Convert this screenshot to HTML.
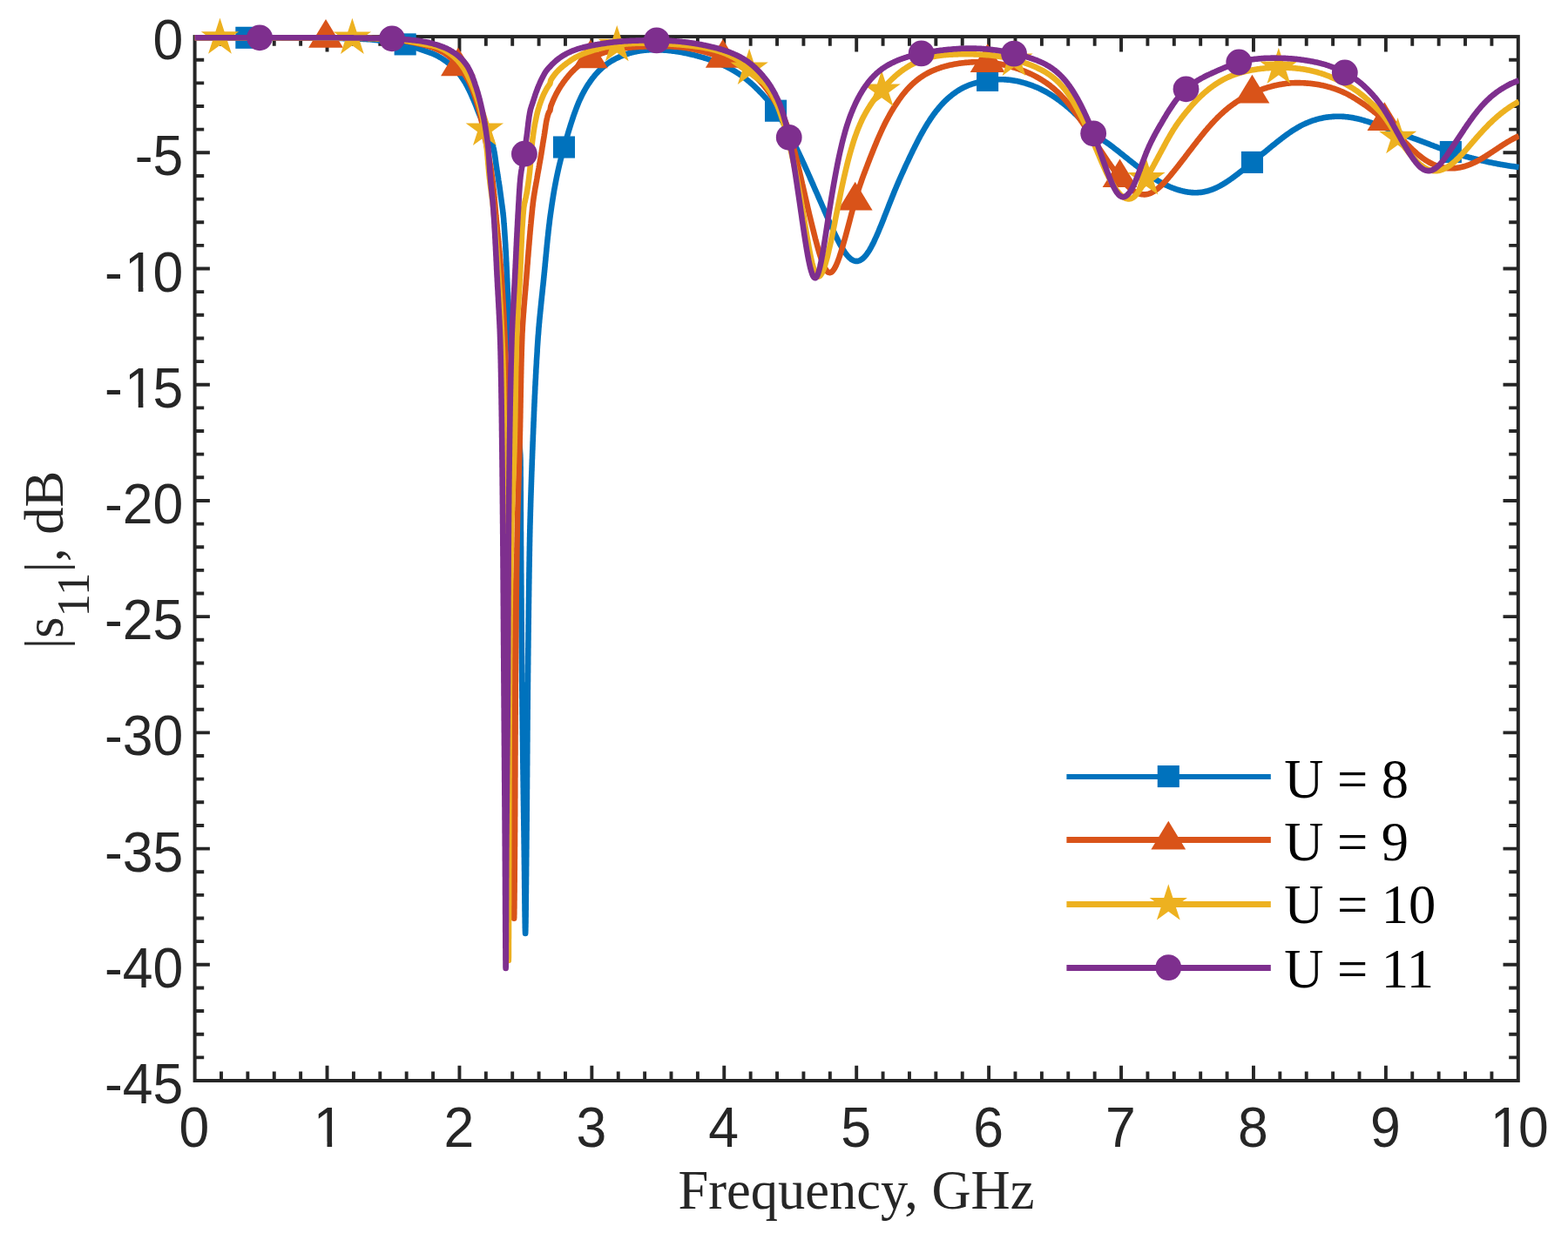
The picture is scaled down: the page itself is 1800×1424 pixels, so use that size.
<!DOCTYPE html>
<html><head><meta charset="utf-8"><title>|s11| vs Frequency</title>
<style>
html,body{margin:0;padding:0;background:#fff;}
svg{display:block;}
.t{font-family:"Liberation Sans",sans-serif;font-size:62.5px;fill:#262626;}
.s{font-family:"Liberation Serif",serif;font-size:62.5px;fill:#262626;}
.l{font-family:"Liberation Serif",serif;font-size:62.5px;fill:#000;}
</style></head><body>
<svg width="1800" height="1424" viewBox="0 0 1800 1424">
<rect width="1800" height="1424" fill="#fff"/>
<g fill="none" stroke="#262626" stroke-width="4">
<path d="M253.98 1241.00v-10.6M253.98 42.10v10.6M284.37 1241.00v-10.6M284.37 42.10v10.6M314.75 1241.00v-10.6M314.75 42.10v10.6M345.14 1241.00v-10.6M345.14 42.10v10.6M375.52 1241.00v-17.3M375.52 42.10v17.3M405.90 1241.00v-10.6M405.90 42.10v10.6M436.29 1241.00v-10.6M436.29 42.10v10.6M466.67 1241.00v-10.6M466.67 42.10v10.6M497.06 1241.00v-10.6M497.06 42.10v10.6M527.44 1241.00v-17.3M527.44 42.10v17.3M557.82 1241.00v-10.6M557.82 42.10v10.6M588.21 1241.00v-10.6M588.21 42.10v10.6M618.59 1241.00v-10.6M618.59 42.10v10.6M648.98 1241.00v-10.6M648.98 42.10v10.6M679.36 1241.00v-17.3M679.36 42.10v17.3M709.74 1241.00v-10.6M709.74 42.10v10.6M740.13 1241.00v-10.6M740.13 42.10v10.6M770.51 1241.00v-10.6M770.51 42.10v10.6M800.90 1241.00v-10.6M800.90 42.10v10.6M831.28 1241.00v-17.3M831.28 42.10v17.3M861.66 1241.00v-10.6M861.66 42.10v10.6M892.05 1241.00v-10.6M892.05 42.10v10.6M922.43 1241.00v-10.6M922.43 42.10v10.6M952.82 1241.00v-10.6M952.82 42.10v10.6M983.20 1241.00v-17.3M983.20 42.10v17.3M1013.58 1241.00v-10.6M1013.58 42.10v10.6M1043.97 1241.00v-10.6M1043.97 42.10v10.6M1074.35 1241.00v-10.6M1074.35 42.10v10.6M1104.74 1241.00v-10.6M1104.74 42.10v10.6M1135.12 1241.00v-17.3M1135.12 42.10v17.3M1165.50 1241.00v-10.6M1165.50 42.10v10.6M1195.89 1241.00v-10.6M1195.89 42.10v10.6M1226.27 1241.00v-10.6M1226.27 42.10v10.6M1256.66 1241.00v-10.6M1256.66 42.10v10.6M1287.04 1241.00v-17.3M1287.04 42.10v17.3M1317.42 1241.00v-10.6M1317.42 42.10v10.6M1347.81 1241.00v-10.6M1347.81 42.10v10.6M1378.19 1241.00v-10.6M1378.19 42.10v10.6M1408.58 1241.00v-10.6M1408.58 42.10v10.6M1438.96 1241.00v-17.3M1438.96 42.10v17.3M1469.34 1241.00v-10.6M1469.34 42.10v10.6M1499.73 1241.00v-10.6M1499.73 42.10v10.6M1530.11 1241.00v-10.6M1530.11 42.10v10.6M1560.50 1241.00v-10.6M1560.50 42.10v10.6M1590.88 1241.00v-17.3M1590.88 42.10v17.3M1621.26 1241.00v-10.6M1621.26 42.10v10.6M1651.65 1241.00v-10.6M1651.65 42.10v10.6M1682.03 1241.00v-10.6M1682.03 42.10v10.6M1712.42 1241.00v-10.6M1712.42 42.10v10.6M223.60 68.74h10.6M1742.80 68.74h-10.6M223.60 95.38h10.6M1742.80 95.38h-10.6M223.60 122.03h10.6M1742.80 122.03h-10.6M223.60 148.67h10.6M1742.80 148.67h-10.6M223.60 175.31h17.3M1742.80 175.31h-17.3M223.60 201.95h10.6M1742.80 201.95h-10.6M223.60 228.60h10.6M1742.80 228.60h-10.6M223.60 255.24h10.6M1742.80 255.24h-10.6M223.60 281.88h10.6M1742.80 281.88h-10.6M223.60 308.52h17.3M1742.80 308.52h-17.3M223.60 335.16h10.6M1742.80 335.16h-10.6M223.60 361.81h10.6M1742.80 361.81h-10.6M223.60 388.45h10.6M1742.80 388.45h-10.6M223.60 415.09h10.6M1742.80 415.09h-10.6M223.60 441.73h17.3M1742.80 441.73h-17.3M223.60 468.38h10.6M1742.80 468.38h-10.6M223.60 495.02h10.6M1742.80 495.02h-10.6M223.60 521.66h10.6M1742.80 521.66h-10.6M223.60 548.30h10.6M1742.80 548.30h-10.6M223.60 574.94h17.3M1742.80 574.94h-17.3M223.60 601.59h10.6M1742.80 601.59h-10.6M223.60 628.23h10.6M1742.80 628.23h-10.6M223.60 654.87h10.6M1742.80 654.87h-10.6M223.60 681.51h10.6M1742.80 681.51h-10.6M223.60 708.16h17.3M1742.80 708.16h-17.3M223.60 734.80h10.6M1742.80 734.80h-10.6M223.60 761.44h10.6M1742.80 761.44h-10.6M223.60 788.08h10.6M1742.80 788.08h-10.6M223.60 814.72h10.6M1742.80 814.72h-10.6M223.60 841.37h17.3M1742.80 841.37h-17.3M223.60 868.01h10.6M1742.80 868.01h-10.6M223.60 894.65h10.6M1742.80 894.65h-10.6M223.60 921.29h10.6M1742.80 921.29h-10.6M223.60 947.94h10.6M1742.80 947.94h-10.6M223.60 974.58h17.3M1742.80 974.58h-17.3M223.60 1001.22h10.6M1742.80 1001.22h-10.6M223.60 1027.86h10.6M1742.80 1027.86h-10.6M223.60 1054.50h10.6M1742.80 1054.50h-10.6M223.60 1081.15h10.6M1742.80 1081.15h-10.6M223.60 1107.79h17.3M1742.80 1107.79h-17.3M223.60 1134.43h10.6M1742.80 1134.43h-10.6M223.60 1161.07h10.6M1742.80 1161.07h-10.6M223.60 1187.72h10.6M1742.80 1187.72h-10.6M223.60 1214.36h10.6M1742.80 1214.36h-10.6" stroke-width="3.9"/>
<rect x="223.6" y="42.1" width="1519.20" height="1198.90"/>
</g>
<g class="t">
<text y="0" transform="translate(0,1316.90) scale(1,1.028)"><tspan x="205.62">0</tspan></text>
<text y="0" transform="translate(0,1316.90) scale(1,1.028)"><tspan x="359.84">1</tspan></text>
<rect x="361.84" y="1311.60" width="13.67" height="6.3" fill="#fff"/>
<rect x="381.13" y="1311.60" width="12.26" height="6.3" fill="#fff"/>
<text y="0" transform="translate(0,1316.90) scale(1,1.028)"><tspan x="509.46">2</tspan></text>
<text y="0" transform="translate(0,1316.90) scale(1,1.028)"><tspan x="661.38">3</tspan></text>
<text y="0" transform="translate(0,1316.90) scale(1,1.028)"><tspan x="813.30">4</tspan></text>
<text y="0" transform="translate(0,1316.90) scale(1,1.028)"><tspan x="965.22">5</tspan></text>
<text y="0" transform="translate(0,1316.90) scale(1,1.028)"><tspan x="1117.14">6</tspan></text>
<text y="0" transform="translate(0,1316.90) scale(1,1.028)"><tspan x="1269.06">7</tspan></text>
<text y="0" transform="translate(0,1316.90) scale(1,1.028)"><tspan x="1420.98">8</tspan></text>
<text y="0" transform="translate(0,1316.90) scale(1,1.028)"><tspan x="1572.90">9</tspan></text>
<text y="0" transform="translate(0,1316.90) scale(1,1.028)"><tspan x="1710.64">1</tspan><tspan x="1743.10">0</tspan></text>
<rect x="1712.64" y="1311.60" width="13.67" height="6.3" fill="#fff"/>
<rect x="1731.93" y="1311.60" width="12.26" height="6.3" fill="#fff"/>
<text y="0" transform="translate(0,68.10) scale(1,1.028)"><tspan x="175.54">0</tspan></text>
<text y="0" transform="translate(0,201.31) scale(1,1.028)"><tspan x="154.73">-</tspan><tspan x="175.54">5</tspan></text>
<text y="0" transform="translate(0,334.52) scale(1,1.028)"><tspan x="119.97">-</tspan><tspan x="143.08">1</tspan><tspan x="175.54">0</tspan></text>
<rect x="145.08" y="329.22" width="13.67" height="6.3" fill="#fff"/>
<rect x="164.37" y="329.22" width="12.26" height="6.3" fill="#fff"/>
<text y="0" transform="translate(0,467.73) scale(1,1.028)"><tspan x="119.97">-</tspan><tspan x="143.08">1</tspan><tspan x="175.54">5</tspan></text>
<rect x="145.08" y="462.43" width="13.67" height="6.3" fill="#fff"/>
<rect x="164.37" y="462.43" width="12.26" height="6.3" fill="#fff"/>
<text y="0" transform="translate(0,600.94) scale(1,1.028)"><tspan x="119.97">-</tspan><tspan x="140.78">2</tspan><tspan x="175.54">0</tspan></text>
<text y="0" transform="translate(0,734.16) scale(1,1.028)"><tspan x="119.97">-</tspan><tspan x="140.78">2</tspan><tspan x="175.54">5</tspan></text>
<text y="0" transform="translate(0,867.37) scale(1,1.028)"><tspan x="119.97">-</tspan><tspan x="140.78">3</tspan><tspan x="175.54">0</tspan></text>
<text y="0" transform="translate(0,1000.58) scale(1,1.028)"><tspan x="119.97">-</tspan><tspan x="140.78">3</tspan><tspan x="175.54">5</tspan></text>
<text y="0" transform="translate(0,1133.79) scale(1,1.028)"><tspan x="119.97">-</tspan><tspan x="140.78">4</tspan><tspan x="175.54">0</tspan></text>
<text y="0" transform="translate(0,1267.00) scale(1,1.028)"><tspan x="119.97">-</tspan><tspan x="140.78">4</tspan><tspan x="175.54">5</tspan></text>
</g>
<text class="s" x="983" y="1388" text-anchor="middle">Frequency, GHz</text>
<text class="s" transform="translate(71.6,643) rotate(-90)" text-anchor="middle">|s<tspan dy="30.5" font-size="53">11</tspan><tspan dy="-30.5">|, dB</tspan></text>
<clipPath id="cp"><rect x="221.5" y="12.100000000000001" width="1522.40" height="1228.90"/></clipPath>
<g clip-path="url(#cp)"><path d="M223.6 43.3L225.1 43.3L226.6 43.3L228.1 43.3L229.6 43.3L231.1 43.3L232.6 43.3L234.1 43.3L235.6 43.3L237.1 43.3L238.6 43.3L240.1 43.3L241.6 43.3L243.1 43.3L244.6 43.3L246.1 43.3L247.6 43.3L249.1 43.3L250.6 43.3L252.1 43.3L253.6 43.3L255.1 43.3L256.6 43.3L258.1 43.3L259.6 43.3L261.1 43.3L262.6 43.3L264.1 43.3L265.6 43.3L267.1 43.3L268.6 43.3L270.1 43.3L271.6 43.3L273.1 43.3L274.6 43.3L276.1 43.3L277.6 43.3L279.1 43.3L280.6 43.3L282.1 43.3L283.6 43.3L285.1 43.3L286.6 43.3L288.1 43.3L289.6 43.3L291.1 43.3L292.6 43.3L294.1 43.3L295.6 43.3L297.1 43.3L298.6 43.3L300.0 43.3L300.1 43.3L301.6 43.3L303.1 43.3L304.6 43.3L306.1 43.3L307.6 43.3L309.1 43.3L310.6 43.3L312.1 43.3L313.6 43.3L315.1 43.3L316.6 43.3L318.1 43.3L319.6 43.3L321.1 43.3L322.6 43.3L324.1 43.4L325.6 43.4L327.1 43.4L328.6 43.4L330.1 43.4L331.6 43.4L333.1 43.4L334.6 43.4L336.1 43.4L337.6 43.4L339.1 43.4L340.6 43.4L342.1 43.5L343.6 43.5L345.1 43.5L346.6 43.5L348.1 43.5L349.6 43.5L351.1 43.5L352.6 43.5L354.1 43.5L355.6 43.6L357.1 43.6L358.6 43.6L360.1 43.6L361.6 43.6L363.1 43.6L364.6 43.6L366.1 43.7L367.6 43.7L369.1 43.7L370.6 43.7L372.1 43.7L373.6 43.7L375.1 43.7L376.6 43.8L378.1 43.8L379.6 43.8L380.0 43.8L381.1 43.8L382.6 43.8L384.1 43.9L385.6 43.9L387.1 43.9L388.6 43.9L390.1 44.0L391.6 44.0L393.1 44.0L394.6 44.1L396.1 44.1L397.6 44.1L399.2 44.2L400.7 44.2L402.2 44.3L403.7 44.3L405.2 44.4L406.7 44.4L408.2 44.5L409.7 44.5L411.1 44.6L412.6 44.7L414.1 44.7L415.6 44.8L417.1 44.9L418.6 44.9L420.0 45.0L420.1 45.0L421.6 45.1L423.1 45.2L424.6 45.3L426.1 45.4L427.6 45.6L429.1 45.7L430.6 45.9L432.1 46.1L433.6 46.3L435.0 46.5L436.5 46.7L438.0 46.9L439.5 47.1L441.0 47.3L442.5 47.5L444.0 47.7L445.5 47.9L446.9 48.2L448.4 48.4L449.9 48.6L450.0 48.6L451.4 48.8L452.9 49.0L454.4 49.2L455.9 49.4L457.4 49.6L458.9 49.8L460.4 50.0L461.8 50.2L463.3 50.5L464.3 50.7L464.8 50.8L466.2 51.1L467.7 51.5L469.1 51.9L470.5 52.3L472.0 52.8L473.4 53.3L474.8 53.7L476.2 54.3L477.7 54.8L479.1 55.3L480.5 55.8L481.9 56.3L483.3 56.8L483.3 56.8L484.7 57.3L486.2 57.8L487.6 58.3L489.0 58.8L490.5 59.3L491.9 59.8L493.3 60.3L494.7 60.8L496.1 61.4L497.5 61.9L498.8 62.5L500.2 63.2L500.4 63.3L501.5 63.8L502.8 64.5L504.1 65.3L505.4 66.0L506.7 66.8L508.0 67.6L509.3 68.5L510.5 69.3L511.8 70.2L513.0 71.1L514.2 72.0L515.4 73.0L516.6 73.9L517.7 74.9L518.8 75.9L519.7 76.7L519.9 76.9L520.9 77.9L522.0 78.9L523.0 80.0L524.0 81.1L525.0 82.3L526.0 83.4L526.9 84.6L527.8 85.8L528.8 87.1L529.7 88.3L530.5 89.5L531.4 90.8L532.2 92.0L533.0 93.3L533.0 93.3L533.8 94.5L534.5 95.8L535.2 97.1L536.0 98.4L536.7 99.8L537.3 101.1L538.0 102.4L538.7 103.8L539.3 105.2L540.0 106.5L540.6 107.9L541.2 109.3L541.8 110.7L542.4 112.0L543.0 113.3L543.0 113.4L543.6 114.8L544.2 116.2L544.8 117.5L545.4 118.9L545.9 120.3L546.5 121.7L547.0 123.1L547.5 124.5L548.1 125.9L548.6 127.3L549.2 128.7L549.7 130.0L549.7 130.1L550.3 131.5L550.9 132.9L551.5 134.3L552.2 135.6L552.8 137.0L553.4 138.4L554.1 139.8L554.8 141.1L555.4 142.5L556.1 143.9L556.8 145.2L557.4 146.6L558.1 148.0L558.8 149.3L559.4 150.7L560.0 152.1L560.7 153.4L561.3 154.8L561.9 156.2L562.5 157.6L563.0 159.0L563.6 160.3L564.1 161.7L564.6 163.1L565.0 164.6L565.5 166.0L565.9 167.4L566.2 168.8L566.5 170.0L566.6 170.2L566.9 171.7L567.2 173.1L567.4 174.6L567.7 176.1L567.9 177.5L568.2 179.0L568.4 180.5L568.6 182.0L568.8 183.5L569.0 185.0L569.2 186.5L569.4 188.0L569.6 189.5L569.8 191.0L570.1 192.5L570.3 194.0L570.4 195.0L570.5 195.4L570.7 196.9L571.0 198.4L571.2 199.9L571.4 201.4L571.7 202.9L571.9 204.3L572.1 205.8L572.3 207.3L572.6 208.8L572.8 210.3L573.0 211.8L573.2 213.2L573.5 214.7L573.7 216.2L573.9 217.7L574.1 219.2L574.2 220.0L574.3 220.7L574.5 222.2L574.7 223.6L574.9 225.1L575.1 226.6L575.3 228.1L575.5 229.6L575.7 231.1L575.9 232.6L576.1 234.1L576.3 235.5L576.5 237.0L576.7 238.5L576.9 240.0L577.1 241.5L577.3 243.0L577.4 244.5L577.6 246.0L577.8 247.5L577.9 249.0L578.1 250.4L578.2 251.9L578.3 253.3L578.3 253.4L578.4 254.9L578.5 256.4L578.7 257.9L578.8 259.4L578.9 260.9L579.0 262.4L579.1 263.9L579.2 265.4L579.3 266.9L579.4 268.4L579.5 269.9L579.6 271.4L579.7 272.9L579.8 274.4L579.9 275.9L580.0 277.3L580.1 278.8L580.2 280.3L580.3 281.8L580.3 283.3L580.4 284.8L580.5 286.3L580.6 287.8L580.7 289.3L580.8 290.8L580.8 292.3L580.9 293.8L581.0 295.3L581.1 296.8L581.1 298.3L581.2 299.8L581.3 301.3L581.4 302.8L581.4 304.3L581.5 305.8L581.6 307.3L581.6 308.8L581.7 310.3L581.8 311.8L581.8 313.3L581.9 314.8L582.0 316.3L582.0 317.8L582.1 319.3L582.2 320.8L582.2 322.3L582.3 323.8L582.4 325.3L582.4 326.8L582.5 328.3L582.5 329.8L582.6 331.3L582.7 332.8L582.7 334.3L582.8 335.8L582.9 337.3L582.9 338.8L583.0 340.3L583.0 341.8L583.1 343.3L583.2 344.8L583.2 346.3L583.3 347.8L583.4 349.3L583.4 350.8L583.5 352.3L583.6 353.8L583.6 355.3L583.7 356.8L583.8 358.3L583.8 359.8L583.9 361.3L584.0 362.8L584.1 364.3L584.1 365.8L584.2 367.3L584.3 368.8L584.4 370.3L584.4 371.8L584.5 373.3L584.6 374.8L584.7 376.3L584.8 377.8L584.8 379.3L584.9 380.8L585.0 382.3L585.1 383.8L585.2 385.3L585.3 386.8L585.4 388.3L585.5 389.8L585.6 391.3L585.7 392.8L585.7 394.3L585.8 395.8L585.9 397.3L586.0 398.0L586.1 398.8L586.2 400.3L586.3 401.8L586.4 403.2L586.5 404.7L586.6 406.2L586.7 407.7L586.8 409.2L587.0 410.7L587.1 412.2L587.2 413.7L587.4 415.2L587.5 416.7L587.6 418.2L587.8 419.7L587.9 421.2L588.0 422.7L588.2 424.2L588.3 425.7L588.4 427.2L588.6 428.7L588.7 430.1L588.9 431.6L589.0 433.1L589.2 434.6L589.3 436.1L589.4 437.6L589.6 439.1L589.7 440.6L589.9 442.1L590.0 443.6L590.2 445.1L590.3 446.6L590.5 448.1L590.6 449.6L590.8 451.1L590.9 452.6L591.0 454.0L591.2 455.5L591.3 457.0L591.5 458.5L591.6 460.0L591.7 461.5L591.9 463.0L592.0 464.5L592.2 466.0L592.3 467.5L592.4 469.0L592.5 470.0L592.5 470.5L592.7 472.0L592.8 473.5L592.9 475.0L593.1 476.5L593.2 478.0L593.4 479.5L593.5 480.9L593.7 482.4L593.8 483.9L594.0 485.4L594.2 486.9L594.3 488.4L594.5 489.9L594.6 491.4L594.8 492.9L594.9 494.4L595.1 495.9L595.3 497.4L595.4 498.9L595.6 500.4L595.7 501.9L595.8 503.4L596.0 504.9L596.1 506.4L596.3 507.9L596.4 509.3L596.5 510.8L596.6 512.3L596.7 513.8L596.8 515.3L596.9 516.8L597.0 518.3L597.1 519.8L597.2 521.3L597.3 522.8L597.3 524.3L597.4 525.8L597.4 527.3L597.5 528.8L597.5 530.3L597.5 531.0L597.5 531.8L597.5 533.3L597.5 534.8L597.6 536.3L597.6 537.8L597.6 539.3L597.6 540.8L597.6 542.3L597.6 543.8L597.6 545.3L597.6 546.8L597.7 548.3L597.7 549.8L597.7 551.3L597.7 552.8L597.7 554.3L597.7 555.8L597.7 557.3L597.7 558.8L597.7 560.3L597.7 561.8L597.7 563.3L597.8 564.8L597.8 566.3L597.8 567.8L597.8 569.3L597.8 570.8L597.8 572.3L597.8 573.8L597.8 575.3L597.8 576.8L597.8 578.3L597.8 579.8L597.8 581.3L597.8 582.8L597.8 584.3L597.8 585.8L597.8 587.3L597.9 588.8L597.9 590.3L597.9 591.8L597.9 593.3L597.9 594.8L597.9 596.3L597.9 597.8L597.9 599.3L597.9 600.8L597.9 602.3L597.9 603.8L597.9 605.3L597.9 606.8L597.9 608.3L597.9 609.8L598.0 611.3L598.0 612.8L598.0 614.3L598.0 615.8L598.0 617.3L598.0 618.8L598.0 620.0L598.0 620.3L598.0 621.8L598.0 623.3L598.0 624.8L598.0 626.3L598.1 627.8L598.1 629.3L598.1 630.8L598.1 632.3L598.1 633.8L598.1 635.3L598.1 636.8L598.1 638.3L598.1 639.8L598.1 641.3L598.1 642.8L598.2 644.3L598.2 645.8L598.2 647.3L598.2 648.8L598.2 650.3L598.2 651.8L598.2 653.3L598.2 654.8L598.2 656.3L598.2 657.8L598.3 659.3L598.3 660.8L598.3 662.3L598.3 663.8L598.3 665.3L598.3 666.8L598.3 668.3L598.3 669.8L598.3 671.3L598.4 672.8L598.4 674.3L598.4 675.8L598.4 677.3L598.4 678.8L598.4 680.3L598.4 681.8L598.4 683.3L598.4 684.8L598.4 686.3L598.5 687.8L598.5 689.3L598.5 690.8L598.5 692.3L598.5 693.8L598.5 695.3L598.5 696.8L598.5 698.3L598.5 699.8L598.6 701.3L598.6 702.8L598.6 704.3L598.6 705.8L598.6 707.3L598.6 708.8L598.6 710.3L598.6 711.8L598.6 713.3L598.7 714.8L598.7 716.3L598.7 717.8L598.7 719.3L598.7 720.8L598.7 722.3L598.7 723.8L598.7 725.3L598.8 726.8L598.8 728.3L598.8 729.8L598.8 731.3L598.8 732.8L598.8 734.3L598.8 735.8L598.8 737.3L598.9 738.8L598.9 740.3L598.9 741.8L598.9 743.3L598.9 744.8L598.9 746.3L598.9 747.8L598.9 749.3L599.0 750.8L599.0 752.3L599.0 753.8L599.0 755.3L599.0 756.8L599.0 758.3L599.0 759.8L599.0 761.3L599.1 762.8L599.1 764.3L599.1 765.9L599.1 767.4L599.1 768.9L599.1 770.4L599.1 771.9L599.2 773.4L599.2 774.9L599.2 776.4L599.2 777.9L599.2 778.0L599.2 779.4L599.2 780.9L599.2 782.4L599.3 783.9L599.3 785.4L599.3 786.9L599.3 788.4L599.3 789.9L599.3 791.4L599.3 792.9L599.4 794.4L599.4 795.9L599.4 797.4L599.4 798.9L599.4 800.4L599.4 801.9L599.5 803.4L599.5 804.9L599.5 806.4L599.5 807.9L599.5 809.4L599.5 810.9L599.6 812.4L599.6 813.9L599.6 815.4L599.6 816.9L599.6 818.4L599.6 819.9L599.7 821.4L599.7 822.9L599.7 824.4L599.7 825.9L599.7 827.4L599.8 828.9L599.8 830.4L599.8 831.9L599.8 833.4L599.8 834.9L599.8 836.4L599.9 837.9L599.9 839.4L599.9 840.9L599.9 842.4L599.9 843.9L600.0 845.4L600.0 846.9L600.0 848.4L600.0 849.9L600.0 851.4L600.1 852.9L600.1 854.4L600.1 855.9L600.1 857.4L600.1 858.9L600.1 860.4L600.2 861.9L600.2 863.4L600.2 864.9L600.2 866.4L600.2 867.9L600.3 869.4L600.3 870.9L600.3 872.4L600.3 873.9L600.3 875.4L600.4 876.9L600.4 878.4L600.4 879.9L600.4 881.4L600.4 882.9L600.5 884.4L600.5 885.9L600.5 887.4L600.5 888.9L600.6 890.4L600.6 891.9L600.6 893.4L600.6 894.9L600.6 896.4L600.7 897.9L600.7 899.4L600.7 900.9L600.7 902.4L600.7 903.9L600.8 905.4L600.8 906.9L600.8 908.4L600.8 909.9L600.8 911.4L600.9 912.9L600.9 914.4L600.9 915.9L600.9 917.4L600.9 918.9L601.0 920.4L601.0 921.9L601.0 923.4L601.0 924.9L601.1 926.4L601.1 927.9L601.1 929.4L601.1 930.9L601.1 932.4L601.2 933.9L601.2 935.4L601.2 936.9L601.2 938.4L601.2 939.9L601.3 941.4L601.3 942.9L601.3 944.4L601.3 945.9L601.3 947.4L601.4 948.9L601.4 950.4L601.4 951.9L601.4 953.4L601.5 954.9L601.5 956.4L601.5 957.9L601.5 959.4L601.5 960.9L601.6 962.4L601.6 963.9L601.6 965.4L601.6 966.9L601.6 968.4L601.7 969.9L601.7 971.4L601.7 972.9L601.7 974.4L601.7 975.9L601.8 977.4L601.8 978.9L601.8 980.0L601.8 980.4L601.8 981.9L601.8 983.5L601.9 985.1L601.9 986.8L601.9 988.5L601.9 990.2L601.9 992.0L602.0 993.8L602.0 995.7L602.0 997.5L602.0 999.4L602.1 1001.3L602.1 1003.3L602.1 1005.2L602.1 1007.2L602.1 1009.1L602.2 1011.1L602.2 1013.1L602.2 1015.1L602.2 1017.1L602.2 1019.1L602.3 1021.1L602.3 1023.1L602.3 1025.1L602.3 1027.1L602.4 1029.0L602.4 1031.0L602.4 1032.9L602.4 1034.8L602.4 1036.7L602.5 1038.6L602.5 1040.5L602.5 1042.3L602.5 1044.1L602.5 1045.8L602.6 1047.5L602.6 1049.2L602.6 1050.9L602.6 1052.5L602.7 1054.0L602.7 1055.5L602.7 1057.0L602.7 1058.4L602.7 1059.7L602.8 1061.0L602.8 1062.3L602.8 1063.4L602.8 1064.5L602.8 1065.6L602.9 1066.5L602.9 1067.4L602.9 1068.3L602.9 1069.0L603.0 1069.7L603.0 1070.3L603.0 1070.8L603.0 1071.2L603.0 1071.6L603.1 1071.8L603.1 1071.9L603.1 1072.0L603.1 1072.0L603.1 1072.0L603.1 1071.8L603.2 1071.6L603.2 1071.3L603.2 1070.9L603.2 1070.4L603.2 1069.8L603.3 1069.1L603.3 1068.4L603.3 1067.6L603.3 1066.7L603.3 1065.7L603.4 1064.7L603.4 1063.6L603.4 1062.4L603.4 1061.2L603.5 1059.9L603.5 1058.6L603.5 1057.2L603.5 1055.7L603.5 1054.2L603.6 1052.7L603.6 1051.1L603.6 1049.4L603.6 1047.8L603.6 1046.1L603.7 1044.3L603.7 1042.5L603.7 1040.7L603.7 1038.9L603.7 1037.0L603.8 1035.1L603.8 1033.2L603.8 1031.3L603.8 1029.3L603.8 1027.3L603.9 1025.4L603.9 1023.4L603.9 1021.4L603.9 1019.4L603.9 1017.4L604.0 1015.4L604.0 1013.4L604.0 1011.4L604.0 1009.4L604.0 1007.4L604.1 1005.5L604.1 1003.5L604.1 1001.6L604.1 999.7L604.1 997.8L604.1 995.9L604.2 994.1L604.2 992.3L604.2 990.5L604.2 988.7L604.2 987.0L604.2 985.4L604.3 983.7L604.3 982.1L604.3 980.6L604.3 980.0L604.3 979.1L604.3 977.6L604.3 976.1L604.4 974.6L604.4 973.1L604.4 971.6L604.4 970.1L604.4 968.6L604.4 967.1L604.4 965.6L604.5 964.1L604.5 962.6L604.5 961.1L604.5 959.6L604.5 958.1L604.5 956.6L604.5 955.1L604.6 953.6L604.6 952.1L604.6 950.6L604.6 949.1L604.6 947.6L604.6 946.1L604.6 944.6L604.7 943.1L604.7 941.6L604.7 940.1L604.7 938.6L604.7 937.1L604.7 935.6L604.7 934.1L604.7 932.6L604.8 931.1L604.8 929.6L604.8 928.1L604.8 926.6L604.8 925.1L604.8 923.6L604.8 922.1L604.8 920.6L604.8 919.1L604.9 917.6L604.9 916.1L604.9 914.6L604.9 913.1L604.9 911.6L604.9 910.1L604.9 908.6L604.9 907.1L605.0 905.6L605.0 904.1L605.0 902.6L605.0 901.1L605.0 899.6L605.0 898.1L605.0 896.6L605.0 895.1L605.0 893.6L605.1 892.1L605.1 890.6L605.1 889.1L605.1 887.6L605.1 886.1L605.1 884.6L605.1 883.1L605.1 881.6L605.1 880.1L605.2 878.6L605.2 877.1L605.2 875.6L605.2 874.1L605.2 872.6L605.2 871.1L605.2 869.6L605.2 868.1L605.2 866.6L605.3 865.1L605.3 863.6L605.3 862.1L605.3 860.6L605.3 859.1L605.3 857.6L605.3 856.1L605.3 854.6L605.3 853.1L605.4 851.6L605.4 850.1L605.4 848.6L605.4 847.1L605.4 845.6L605.4 844.1L605.4 842.6L605.4 841.1L605.4 839.6L605.5 838.1L605.5 836.6L605.5 835.1L605.5 833.6L605.5 832.1L605.5 830.6L605.5 829.1L605.5 827.6L605.6 826.1L605.6 824.6L605.6 823.1L605.6 821.6L605.6 820.1L605.6 818.6L605.6 817.1L605.6 815.6L605.7 814.1L605.7 812.6L605.7 811.1L605.7 809.6L605.7 808.1L605.7 806.6L605.7 805.1L605.8 803.5L605.8 802.0L605.8 800.5L605.8 799.0L605.8 797.5L605.8 796.0L605.8 794.5L605.8 793.0L605.9 791.5L605.9 790.0L605.9 788.5L605.9 787.0L605.9 785.5L605.9 784.0L606.0 782.5L606.0 781.0L606.0 779.5L606.0 778.0L606.0 777.8L606.0 776.5L606.0 775.0L606.0 773.5L606.1 772.0L606.1 770.5L606.1 769.0L606.1 767.5L606.1 766.0L606.1 764.5L606.2 763.0L606.2 761.5L606.2 760.0L606.2 758.5L606.2 757.0L606.2 755.5L606.2 754.0L606.3 752.5L606.3 751.0L606.3 749.5L606.3 748.0L606.3 746.5L606.3 745.0L606.4 743.5L606.4 742.0L606.4 740.5L606.4 739.0L606.4 737.5L606.4 736.0L606.5 734.5L606.5 733.0L606.5 731.5L606.5 730.0L606.5 728.5L606.5 727.0L606.6 725.5L606.6 724.0L606.6 722.5L606.6 721.0L606.6 719.5L606.6 718.0L606.7 716.5L606.7 715.0L606.7 713.5L606.7 712.0L606.7 710.5L606.8 709.0L606.8 707.5L606.8 706.0L606.8 704.5L606.8 703.0L606.8 701.5L606.9 700.0L606.9 698.5L606.9 697.0L606.9 695.5L606.9 694.0L607.0 692.5L607.0 691.0L607.0 689.5L607.0 688.0L607.0 686.5L607.1 685.0L607.1 683.5L607.1 682.0L607.1 680.5L607.1 679.0L607.2 677.5L607.2 676.0L607.2 674.5L607.2 673.0L607.2 671.5L607.3 670.0L607.3 668.5L607.3 667.0L607.3 665.5L607.4 664.0L607.4 662.5L607.4 661.0L607.4 659.5L607.4 658.0L607.5 656.5L607.5 655.0L607.5 653.5L607.5 652.0L607.6 650.5L607.6 649.0L607.6 647.5L607.6 646.0L607.7 644.5L607.7 643.0L607.7 641.5L607.7 640.0L607.8 638.5L607.8 637.0L607.8 635.5L607.8 634.0L607.9 632.5L607.9 631.0L607.9 629.5L607.9 628.0L608.0 626.5L608.0 625.0L608.0 623.5L608.1 622.0L608.1 620.5L608.1 620.0L608.1 619.0L608.1 617.5L608.2 616.0L608.2 614.5L608.2 613.0L608.3 611.5L608.3 610.0L608.3 608.5L608.4 607.0L608.4 605.5L608.4 604.0L608.5 602.5L608.5 601.0L608.6 599.5L608.6 598.0L608.6 596.5L608.7 595.0L608.7 593.5L608.8 592.0L608.8 590.5L608.8 589.0L608.9 587.5L608.9 586.0L609.0 584.5L609.0 583.0L609.1 581.5L609.1 580.0L609.1 578.5L609.2 577.0L609.2 575.5L609.3 574.0L609.3 572.5L609.4 571.0L609.4 569.5L609.5 568.0L609.5 566.5L609.6 565.0L609.6 563.5L609.7 562.0L609.7 560.5L609.8 559.0L609.8 557.5L609.9 556.0L609.9 554.5L610.0 553.0L610.0 551.5L610.1 550.0L610.1 548.5L610.2 547.0L610.2 545.5L610.3 544.0L610.3 542.5L610.4 541.0L610.5 539.5L610.5 538.0L610.6 536.5L610.6 535.0L610.7 533.5L610.7 532.0L610.8 530.5L610.8 529.0L610.9 527.5L611.0 526.0L611.0 524.5L611.1 523.0L611.1 521.5L611.2 520.0L611.2 518.5L611.3 517.0L611.4 515.5L611.4 514.0L611.5 512.5L611.5 511.0L611.6 509.5L611.6 508.0L611.7 506.7L611.7 506.6L611.8 505.1L611.8 503.6L611.9 502.1L611.9 500.6L612.0 499.1L612.1 497.6L612.1 496.1L612.2 494.6L612.2 493.1L612.3 491.6L612.4 490.1L612.4 488.6L612.5 487.1L612.5 485.6L612.6 484.1L612.7 482.6L612.7 481.1L612.8 479.6L612.9 478.1L612.9 476.6L613.0 475.1L613.0 473.6L613.1 472.1L613.2 470.6L613.2 469.1L613.3 467.6L613.4 466.1L613.4 464.6L613.5 463.1L613.6 461.6L613.6 460.1L613.7 458.6L613.8 457.1L613.8 455.6L613.9 454.1L614.0 452.6L614.1 451.1L614.1 449.6L614.2 448.1L614.3 446.6L614.3 445.1L614.4 443.6L614.5 442.1L614.6 440.6L614.6 439.1L614.7 437.6L614.8 436.1L614.9 434.6L615.0 433.1L615.0 431.6L615.1 430.1L615.2 428.6L615.3 427.1L615.3 425.6L615.4 424.1L615.5 422.6L615.6 421.1L615.7 419.6L615.8 418.1L615.9 416.6L615.9 415.1L616.0 413.6L616.1 412.1L616.2 410.6L616.3 409.1L616.4 407.6L616.5 406.1L616.6 404.6L616.7 403.1L616.7 401.6L616.8 400.1L616.9 398.6L617.0 397.1L617.1 395.7L617.2 394.2L617.3 392.7L617.4 391.2L617.5 390.0L617.5 389.7L617.6 388.2L617.7 386.7L617.8 385.2L618.0 383.7L618.1 382.2L618.2 380.7L618.3 379.2L618.4 377.7L618.5 376.2L618.7 374.7L618.8 373.2L618.9 371.7L619.1 370.2L619.2 368.7L619.3 367.2L619.5 365.8L619.6 364.3L619.8 362.8L619.9 361.3L620.1 359.8L620.2 358.3L620.4 356.8L620.5 355.3L620.7 353.8L620.8 352.3L621.0 350.8L621.1 349.3L621.3 347.8L621.4 346.3L621.6 344.8L621.7 343.4L621.9 341.9L622.0 340.4L622.2 338.9L622.4 337.4L622.5 335.9L622.7 334.4L622.8 332.9L623.0 331.4L623.1 329.9L623.3 328.4L623.5 326.9L623.6 325.4L623.8 323.9L623.9 322.5L624.1 321.0L624.2 319.5L624.4 318.0L624.4 317.8L624.5 316.5L624.7 315.0L624.8 313.5L625.0 312.0L625.1 310.5L625.3 309.0L625.4 307.5L625.6 306.0L625.7 304.5L625.8 303.0L626.0 301.5L626.1 300.0L626.3 298.6L626.4 297.1L626.5 295.6L626.7 294.1L626.8 292.6L627.0 291.1L627.1 289.6L627.3 288.1L627.4 286.6L627.5 285.1L627.7 283.6L627.8 282.1L628.0 280.6L628.1 279.1L628.3 277.6L628.4 276.1L628.6 274.6L628.7 273.1L628.9 271.6L629.1 270.2L629.2 268.7L629.4 267.2L629.5 265.7L629.7 264.2L629.9 262.7L630.0 261.2L630.2 259.7L630.4 258.2L630.6 256.7L630.8 255.3L630.9 253.8L631.1 252.3L631.3 250.8L631.5 249.3L631.7 247.8L632.3 243.6L633.3 236.6L634.3 229.9L635.3 223.7L636.3 217.8L637.3 212.3L638.3 207.1L639.3 202.1L640.3 197.5L641.3 193.0L642.3 188.8L643.3 184.7L644.3 180.8L645.3 177.0L646.3 173.3L647.3 169.7L647.5 169.0L648.3 166.1L649.3 162.6L650.3 159.1L651.3 155.7L652.3 152.3L653.3 149.0L654.3 145.7L655.3 142.5L656.3 139.4L657.3 136.4L658.3 133.4L659.3 130.5L660.3 127.8L661.3 125.1L662.3 122.5L662.7 121.5L663.3 120.0L664.3 117.6L665.3 115.3L666.3 113.1L667.3 111.0L668.3 108.9L669.3 107.0L670.3 105.1L671.3 103.3L672.3 101.6L673.3 99.9L674.3 98.3L675.3 96.7L676.3 95.3L677.3 93.8L677.9 93.0L678.3 92.4L679.3 91.1L680.3 89.7L681.3 88.5L682.3 87.2L683.3 86.0L684.3 84.9L685.3 83.8L686.3 82.7L687.3 81.7L688.3 80.7L689.3 79.7L690.3 78.8L691.3 77.9L692.3 77.0L693.1 76.3L693.3 76.1L694.3 75.3L695.3 74.6L696.3 73.8L697.3 73.1L698.3 72.4L699.3 71.7L700.3 71.1L701.3 70.4L702.3 69.8L703.3 69.3L704.3 68.7L705.3 68.2L706.3 67.6L707.3 67.1L708.2 66.7L708.3 66.6L709.3 66.2L710.3 65.7L711.3 65.2L712.3 64.8L713.3 64.4L714.3 64.0L715.3 63.6L716.3 63.2L717.3 62.9L718.3 62.5L719.3 62.2L720.3 61.8L721.3 61.5L722.3 61.2L723.3 60.9L723.4 60.9L724.3 60.7L725.3 60.4L726.3 60.1L727.3 59.9L728.3 59.6L729.3 59.4L730.3 59.2L731.3 59.0L732.3 58.8L733.3 58.6L734.3 58.5L735.3 58.3L736.3 58.2L737.3 58.0L738.3 57.9L738.6 57.9L739.3 57.8L740.3 57.7L741.3 57.6L742.3 57.5L743.3 57.4L744.3 57.4L745.3 57.3L746.3 57.3L747.3 57.2L748.3 57.2L749.3 57.2L750.3 57.2L751.3 57.2L752.3 57.2L753.3 57.2L753.8 57.2L754.3 57.2L755.3 57.2L756.3 57.3L757.3 57.3L758.3 57.3L759.3 57.4L760.3 57.4L761.3 57.5L762.3 57.6L763.3 57.7L764.3 57.7L765.3 57.8L766.3 57.9L767.3 58.0L768.3 58.1L769.0 58.2L769.3 58.2L770.3 58.3L771.3 58.5L772.3 58.6L773.3 58.7L774.3 58.8L775.3 59.0L776.3 59.1L777.3 59.3L778.3 59.4L779.3 59.6L780.3 59.8L781.3 59.9L782.3 60.1L783.3 60.3L784.2 60.5L784.3 60.5L785.3 60.7L786.3 60.9L787.3 61.1L788.3 61.3L789.3 61.5L790.3 61.7L791.3 62.0L792.3 62.2L793.3 62.4L794.3 62.7L795.3 62.9L796.3 63.1L797.3 63.4L798.3 63.7L799.3 63.9L799.4 63.9L800.3 64.2L801.3 64.5L802.3 64.7L803.3 65.0L804.3 65.3L805.3 65.6L806.3 65.9L807.3 66.2L808.3 66.5L809.3 66.8L810.3 67.1L811.3 67.4L812.3 67.7L813.3 68.1L814.3 68.4L814.6 68.5L815.3 68.8L816.3 69.1L817.3 69.5L818.3 69.8L819.3 70.2L820.3 70.6L821.3 71.0L822.3 71.4L823.3 71.8L824.3 72.2L825.3 72.6L826.3 73.0L827.3 73.5L828.3 73.9L829.3 74.4L829.8 74.6L830.3 74.8L831.3 75.3L832.3 75.8L833.3 76.3L834.3 76.7L835.3 77.3L836.3 77.8L837.3 78.3L838.3 78.8L839.3 79.4L840.3 80.0L841.3 80.5L842.3 81.1L843.3 81.7L844.3 82.3L845.0 82.7L845.3 82.9L846.3 83.6L847.3 84.2L848.3 84.9L849.3 85.6L850.3 86.2L851.3 87.0L852.3 87.7L853.3 88.4L854.3 89.2L855.3 89.9L856.3 90.7L857.3 91.5L858.3 92.3L859.3 93.1L860.2 93.9L860.3 94.0L861.3 94.8L862.3 95.7L863.3 96.6L864.3 97.5L865.3 98.4L866.3 99.4L867.3 100.3L868.3 101.3L869.3 102.3L870.3 103.2L871.3 104.3L872.3 105.3L873.3 106.3L874.3 107.4L875.3 108.4L875.4 108.5L876.3 109.5L877.3 110.6L878.3 111.7L879.3 112.8L880.3 113.9L881.3 115.1L882.3 116.3L883.3 117.5L884.3 118.7L885.3 120.0L886.3 121.3L887.3 122.6L888.3 124.0L889.3 125.4L890.3 126.8L890.5 127.2L891.3 128.3L892.3 129.8L893.3 131.3L894.3 132.9L895.3 134.5L896.3 136.2L897.3 137.9L898.3 139.6L899.3 141.3L900.3 143.1L901.3 144.9L902.3 146.7L903.3 148.6L904.3 150.4L905.3 152.3L905.7 153.2L906.3 154.2L907.3 156.2L908.3 158.1L909.3 160.1L910.3 162.1L911.3 164.1L912.3 166.1L913.3 168.1L914.3 170.2L915.3 172.2L916.3 174.3L917.3 176.4L918.3 178.6L919.3 180.7L920.3 182.8L920.9 184.2L921.3 185.0L922.3 187.2L923.3 189.4L924.3 191.6L925.3 193.8L926.3 196.0L927.3 198.3L928.3 200.5L929.3 202.8L930.3 205.1L931.3 207.3L932.3 209.6L933.3 211.9L934.3 214.2L935.3 216.5L936.1 218.4L936.3 218.7L937.3 221.0L938.3 223.3L939.3 225.6L940.3 227.9L941.3 230.2L942.3 232.4L943.3 234.7L944.3 237.0L945.3 239.3L946.3 241.6L947.3 243.8L948.3 246.1L949.3 248.4L950.3 250.7L951.3 252.9L951.3 253.0L952.3 255.2L953.3 257.5L954.3 259.7L955.3 261.9L956.3 264.2L957.3 266.3L958.3 268.5L959.3 270.6L960.3 272.7L961.3 274.7L962.3 276.7L963.3 278.7L964.3 280.6L965.3 282.4L966.3 284.1L966.5 284.5L967.3 285.8L968.3 287.4L969.3 288.9L970.3 290.3L971.3 291.7L972.3 293.0L973.3 294.1L974.3 295.2L975.3 296.2L976.3 297.0L977.3 297.8L978.3 298.4L979.3 299.0L980.3 299.4L981.3 299.7L981.7 299.8L982.3 299.9L983.3 299.9L984.3 299.9L985.3 299.7L986.3 299.4L987.3 299.0L988.3 298.4L989.3 297.7L990.3 297.0L991.3 296.1L992.3 295.1L993.3 294.0L994.3 292.8L995.3 291.4L996.3 290.0L996.9 289.1L997.3 288.5L998.3 286.9L999.3 285.1L1000.3 283.3L1001.3 281.4L1002.3 279.4L1003.3 277.4L1004.3 275.2L1005.3 273.0L1006.3 270.8L1007.3 268.5L1008.3 266.2L1009.3 263.8L1010.3 261.3L1011.3 258.9L1012.1 256.9L1012.3 256.4L1013.3 253.9L1014.3 251.4L1015.3 248.8L1016.3 246.3L1017.3 243.8L1018.3 241.2L1019.3 238.6L1020.3 236.1L1021.3 233.5L1022.3 231.0L1023.3 228.5L1024.3 226.0L1025.3 223.5L1026.3 221.0L1027.3 218.6L1027.3 218.6L1028.3 216.2L1029.3 213.8L1030.3 211.4L1031.3 209.1L1032.3 206.8L1033.3 204.5L1034.3 202.2L1035.3 200.0L1036.3 197.8L1037.3 195.6L1038.3 193.4L1039.3 191.2L1040.3 189.0L1041.3 186.9L1042.3 184.8L1042.5 184.4L1043.3 182.6L1044.3 180.5L1045.3 178.4L1046.3 176.3L1047.3 174.3L1048.3 172.2L1049.3 170.2L1050.3 168.1L1051.3 166.2L1052.3 164.2L1053.3 162.2L1054.3 160.3L1055.3 158.4L1056.3 156.5L1057.3 154.7L1057.7 154.0L1058.3 152.9L1059.3 151.1L1060.3 149.3L1061.3 147.6L1062.3 145.9L1063.3 144.3L1064.3 142.6L1065.3 141.0L1066.3 139.5L1067.3 137.9L1068.3 136.4L1069.3 135.0L1070.3 133.5L1071.3 132.1L1072.3 130.7L1072.9 130.0L1073.3 129.4L1074.3 128.1L1075.3 126.8L1076.3 125.6L1077.3 124.4L1078.3 123.2L1079.3 122.0L1080.3 120.9L1081.3 119.8L1082.3 118.7L1083.3 117.7L1084.3 116.7L1085.3 115.7L1086.3 114.7L1087.3 113.8L1088.0 113.1L1088.3 112.9L1089.3 112.0L1090.3 111.1L1091.3 110.3L1092.3 109.5L1093.3 108.7L1094.3 107.9L1095.3 107.2L1096.3 106.5L1097.3 105.8L1098.3 105.1L1099.3 104.4L1100.3 103.8L1101.3 103.2L1102.3 102.6L1103.2 102.0L1103.3 102.0L1104.3 101.5L1105.3 101.0L1106.3 100.4L1107.3 100.0L1108.3 99.5L1109.3 99.1L1110.3 98.6L1111.3 98.2L1112.3 97.8L1113.3 97.4L1114.3 97.1L1115.3 96.7L1116.3 96.4L1117.3 96.1L1118.3 95.8L1118.4 95.7L1119.3 95.5L1120.3 95.2L1121.3 94.9L1122.3 94.6L1123.3 94.4L1124.3 94.1L1125.3 93.9L1126.3 93.7L1127.3 93.4L1128.3 93.2L1129.3 93.1L1130.3 92.9L1131.3 92.7L1132.3 92.5L1133.3 92.4L1133.6 92.3L1134.3 92.2L1135.3 92.1L1136.3 92.0L1137.3 91.9L1138.3 91.8L1139.3 91.7L1140.3 91.6L1141.3 91.5L1142.3 91.4L1143.3 91.4L1144.3 91.3L1145.3 91.3L1146.3 91.3L1147.3 91.3L1148.3 91.2L1148.8 91.2L1149.3 91.2L1150.3 91.3L1151.3 91.3L1152.3 91.3L1153.3 91.4L1154.3 91.4L1155.3 91.5L1156.3 91.6L1157.3 91.6L1158.3 91.7L1159.3 91.8L1160.3 92.0L1161.3 92.1L1162.3 92.2L1163.3 92.4L1164.0 92.5L1164.3 92.6L1165.3 92.7L1166.3 92.9L1167.3 93.1L1168.3 93.3L1169.3 93.6L1170.3 93.8L1171.3 94.0L1172.3 94.3L1173.3 94.6L1174.3 94.8L1175.3 95.1L1176.3 95.4L1177.3 95.7L1178.3 96.0L1179.2 96.3L1179.3 96.3L1180.3 96.7L1181.3 97.0L1182.3 97.3L1183.3 97.7L1184.3 98.0L1185.3 98.4L1186.3 98.8L1187.3 99.2L1188.3 99.6L1189.3 100.0L1190.3 100.4L1191.3 100.8L1192.3 101.3L1193.3 101.7L1194.3 102.2L1194.4 102.2L1195.3 102.7L1196.3 103.2L1197.3 103.7L1198.3 104.2L1199.3 104.7L1200.3 105.3L1201.3 105.8L1202.3 106.4L1203.3 107.0L1204.3 107.6L1205.3 108.2L1206.3 108.8L1207.3 109.4L1208.3 110.1L1209.3 110.7L1209.6 110.9L1210.3 111.4L1211.3 112.1L1212.3 112.7L1213.3 113.4L1214.3 114.2L1215.3 114.9L1216.3 115.6L1217.3 116.3L1218.3 117.1L1219.3 117.9L1220.3 118.6L1221.3 119.4L1222.3 120.2L1223.3 121.0L1224.3 121.9L1224.8 122.3L1225.3 122.7L1226.3 123.5L1227.3 124.4L1228.3 125.3L1229.3 126.1L1230.3 127.0L1231.3 127.9L1232.3 128.9L1233.3 129.8L1234.3 130.8L1235.3 131.7L1236.3 132.7L1237.3 133.7L1238.3 134.7L1239.3 135.8L1240.0 136.5L1240.3 136.8L1241.3 137.9L1242.3 139.0L1243.3 140.1L1244.3 141.2L1245.3 142.3L1246.3 143.4L1247.3 144.6L1248.3 145.6L1249.3 146.7L1250.3 147.8L1251.3 148.8L1252.3 149.9L1253.3 150.8L1254.3 151.8L1255.2 152.6L1255.3 152.7L1256.3 153.6L1257.3 154.4L1258.3 155.2L1259.3 156.0L1260.3 156.8L1261.3 157.5L1262.3 158.2L1263.3 158.9L1264.3 159.6L1265.3 160.3L1266.3 160.9L1267.3 161.6L1268.3 162.3L1269.3 162.9L1270.3 163.6L1270.3 163.7L1271.3 164.3L1272.3 165.0L1273.3 165.7L1274.3 166.5L1275.3 167.2L1276.3 168.0L1277.3 168.7L1278.3 169.5L1279.3 170.3L1280.3 171.1L1281.3 171.8L1282.3 172.6L1283.3 173.4L1284.3 174.2L1285.3 175.0L1285.5 175.2L1286.3 175.8L1287.3 176.6L1288.3 177.4L1289.3 178.2L1290.3 179.0L1291.3 179.8L1292.3 180.6L1293.3 181.4L1294.3 182.2L1295.3 183.0L1296.3 183.8L1297.3 184.6L1298.3 185.4L1299.3 186.2L1300.3 186.9L1300.7 187.3L1301.3 187.7L1302.3 188.5L1303.3 189.3L1304.3 190.1L1305.3 190.8L1306.3 191.6L1307.3 192.4L1308.3 193.1L1309.3 193.9L1310.3 194.6L1311.3 195.4L1312.3 196.1L1313.3 196.9L1314.3 197.6L1315.3 198.3L1315.9 198.8L1316.3 199.1L1317.3 199.8L1318.3 200.5L1319.3 201.2L1320.3 201.9L1321.3 202.6L1322.3 203.2L1323.3 203.9L1324.3 204.5L1325.3 205.2L1326.3 205.8L1327.3 206.5L1328.3 207.1L1329.3 207.7L1330.3 208.2L1331.1 208.7L1331.3 208.8L1332.3 209.4L1333.3 209.9L1334.3 210.5L1335.3 211.0L1336.3 211.5L1337.3 212.0L1338.3 212.5L1339.3 212.9L1340.3 213.4L1341.3 213.8L1342.3 214.3L1343.3 214.7L1344.3 215.1L1345.3 215.5L1346.3 215.9L1346.3 215.9L1347.3 216.2L1348.3 216.6L1349.3 217.0L1350.3 217.3L1351.3 217.6L1352.3 218.0L1353.3 218.3L1354.3 218.5L1355.3 218.8L1356.3 219.1L1357.3 219.3L1358.3 219.6L1359.3 219.8L1360.3 220.0L1361.3 220.2L1361.5 220.2L1362.3 220.4L1363.3 220.5L1364.3 220.7L1365.3 220.8L1366.3 220.9L1367.3 221.0L1368.3 221.1L1369.3 221.1L1370.3 221.2L1371.3 221.2L1372.3 221.2L1373.3 221.2L1374.3 221.2L1375.3 221.1L1376.3 221.0L1376.7 221.0L1377.3 221.0L1378.3 220.9L1379.3 220.7L1380.3 220.6L1381.3 220.4L1382.3 220.2L1383.3 220.0L1384.3 219.8L1385.3 219.6L1386.3 219.3L1387.3 219.0L1388.3 218.7L1389.3 218.4L1390.3 218.0L1391.3 217.7L1391.9 217.5L1392.3 217.3L1393.3 216.9L1394.3 216.5L1395.3 216.0L1396.3 215.6L1397.3 215.1L1398.3 214.6L1399.3 214.1L1400.3 213.6L1401.3 213.0L1402.3 212.5L1403.3 211.9L1404.3 211.3L1405.3 210.7L1406.3 210.1L1407.1 209.6L1407.3 209.4L1408.3 208.8L1409.3 208.1L1410.3 207.5L1411.3 206.8L1412.3 206.1L1413.3 205.4L1414.3 204.7L1415.3 204.0L1416.3 203.2L1417.3 202.5L1418.3 201.7L1419.3 201.0L1420.3 200.2L1421.3 199.5L1422.3 198.7L1422.3 198.7L1423.3 197.9L1424.3 197.1L1425.3 196.3L1426.3 195.5L1427.3 194.7L1428.3 193.9L1429.3 193.1L1430.3 192.3L1431.3 191.5L1432.3 190.6L1433.3 189.8L1434.3 189.0L1435.3 188.2L1436.3 187.4L1437.3 186.5L1437.5 186.4L1438.3 185.7L1439.3 184.9L1440.3 184.1L1441.3 183.3L1442.3 182.4L1443.3 181.6L1444.3 180.8L1445.3 180.0L1446.3 179.2L1447.3 178.4L1448.3 177.5L1449.3 176.7L1450.3 175.9L1451.3 175.1L1452.3 174.3L1452.7 174.0L1453.3 173.5L1454.3 172.6L1455.3 171.8L1456.3 171.0L1457.3 170.2L1458.3 169.4L1459.3 168.5L1460.3 167.7L1461.3 166.9L1462.3 166.1L1463.3 165.3L1464.3 164.5L1465.3 163.7L1466.3 162.9L1467.3 162.1L1467.8 161.7L1468.3 161.3L1469.3 160.5L1470.3 159.8L1471.3 159.0L1472.3 158.2L1473.3 157.5L1474.3 156.7L1475.3 156.0L1476.3 155.2L1477.3 154.5L1478.3 153.8L1479.3 153.1L1480.3 152.4L1481.3 151.7L1482.3 151.0L1483.0 150.5L1483.3 150.4L1484.3 149.7L1485.3 149.1L1486.3 148.5L1487.3 147.9L1488.3 147.3L1489.3 146.7L1490.3 146.1L1491.3 145.5L1492.3 145.0L1493.3 144.4L1494.3 143.9L1495.3 143.4L1496.3 142.9L1497.3 142.4L1498.2 142.0L1498.3 142.0L1499.3 141.5L1500.3 141.1L1501.3 140.7L1502.3 140.3L1503.3 139.9L1504.3 139.5L1505.3 139.1L1506.3 138.7L1507.3 138.4L1508.3 138.1L1509.3 137.8L1510.3 137.5L1511.3 137.2L1512.3 136.9L1513.3 136.6L1513.4 136.6L1514.3 136.4L1515.3 136.1L1516.3 135.9L1517.3 135.7L1518.3 135.5L1519.3 135.3L1520.3 135.1L1521.3 134.9L1522.3 134.8L1523.3 134.6L1524.3 134.5L1525.3 134.4L1526.3 134.3L1527.3 134.2L1528.3 134.1L1528.6 134.0L1529.3 134.0L1530.3 133.9L1531.3 133.9L1532.3 133.8L1533.3 133.8L1534.3 133.8L1535.3 133.7L1536.3 133.7L1537.3 133.7L1538.3 133.7L1539.3 133.8L1540.3 133.8L1541.3 133.9L1542.3 133.9L1543.3 134.0L1543.8 134.0L1544.3 134.1L1545.3 134.2L1546.3 134.3L1547.3 134.4L1548.3 134.5L1549.3 134.7L1550.3 134.8L1551.3 135.0L1552.3 135.1L1553.3 135.3L1554.3 135.5L1555.3 135.7L1556.3 135.9L1557.3 136.1L1558.3 136.4L1559.0 136.5L1559.3 136.6L1560.3 136.8L1561.3 137.1L1562.3 137.3L1563.3 137.6L1564.3 137.9L1565.3 138.2L1566.3 138.5L1567.3 138.8L1568.3 139.1L1569.3 139.4L1570.3 139.7L1571.3 140.0L1572.3 140.4L1573.3 140.7L1574.2 141.0L1574.3 141.0L1575.3 141.4L1576.3 141.7L1577.3 142.1L1578.3 142.4L1579.3 142.8L1580.3 143.2L1581.3 143.5L1582.3 143.9L1583.3 144.3L1584.3 144.7L1585.3 145.0L1586.3 145.4L1587.3 145.8L1588.3 146.2L1589.3 146.5L1589.4 146.6L1590.3 146.9L1591.3 147.3L1592.3 147.7L1593.3 148.0L1594.3 148.4L1595.3 148.8L1596.3 149.2L1597.3 149.5L1598.3 149.9L1599.3 150.3L1600.3 150.6L1601.3 151.0L1602.3 151.4L1603.3 151.7L1604.3 152.1L1604.6 152.2L1605.3 152.5L1606.3 152.8L1607.3 153.2L1608.3 153.6L1609.3 153.9L1610.3 154.3L1611.3 154.7L1612.3 155.0L1613.3 155.4L1614.3 155.8L1615.3 156.1L1616.3 156.5L1617.3 156.9L1618.3 157.2L1619.3 157.6L1619.8 157.8L1620.3 158.0L1621.3 158.3L1622.3 158.7L1623.3 159.1L1624.3 159.4L1625.3 159.8L1626.3 160.2L1627.3 160.5L1628.3 160.9L1629.3 161.3L1630.3 161.7L1631.3 162.0L1632.3 162.4L1633.3 162.8L1634.3 163.2L1635.0 163.4L1635.3 163.5L1636.3 163.9L1637.3 164.3L1638.3 164.7L1639.3 165.0L1640.3 165.4L1641.3 165.8L1642.3 166.2L1643.3 166.6L1644.3 166.9L1645.3 167.3L1646.3 167.7L1647.3 168.1L1648.3 168.4L1649.3 168.8L1650.1 169.1L1650.3 169.2L1651.3 169.6L1652.3 169.9L1653.3 170.3L1654.3 170.7L1655.3 171.0L1656.3 171.4L1657.3 171.7L1658.3 172.1L1659.3 172.4L1660.3 172.8L1661.3 173.1L1662.3 173.5L1663.3 173.8L1664.3 174.2L1665.3 174.5L1665.3 174.5L1666.3 174.8L1667.3 175.1L1668.3 175.4L1669.3 175.8L1670.3 176.1L1671.3 176.4L1672.3 176.7L1673.3 177.0L1674.3 177.3L1675.3 177.6L1676.3 177.9L1677.3 178.2L1678.3 178.5L1679.3 178.7L1680.3 179.0L1680.5 179.1L1681.3 179.3L1682.3 179.6L1683.3 179.9L1684.3 180.1L1685.3 180.4L1686.3 180.7L1687.3 180.9L1688.3 181.2L1689.3 181.5L1690.3 181.7L1691.3 182.0L1692.3 182.2L1693.3 182.5L1694.3 182.7L1695.3 183.0L1695.7 183.1L1696.3 183.2L1697.3 183.5L1698.3 183.7L1699.3 183.9L1700.3 184.2L1701.3 184.4L1702.3 184.6L1703.3 184.9L1704.3 185.1L1705.3 185.3L1706.3 185.5L1707.3 185.7L1708.3 186.0L1709.3 186.2L1710.3 186.4L1710.9 186.5L1711.3 186.6L1712.3 186.8L1713.3 187.0L1714.3 187.2L1715.3 187.4L1716.3 187.6L1717.3 187.8L1718.3 188.0L1719.3 188.2L1720.3 188.4L1721.3 188.5L1722.3 188.7L1723.3 188.9L1724.3 189.1L1725.3 189.3L1726.1 189.4L1726.3 189.4L1727.3 189.6L1728.3 189.8L1729.3 189.9L1730.3 190.1L1731.3 190.2L1732.3 190.4L1733.3 190.6L1734.3 190.7L1735.3 190.9L1736.3 191.0L1737.3 191.1L1738.3 191.3L1739.3 191.4L1740.3 191.6L1741.3 191.7L1741.3 191.7L1743.7 192.0" fill="none" stroke="#0072BD" stroke-width="6.6" stroke-linejoin="round"/></g>
<rect x="270.32" y="30.75" width="25.1" height="25.1" fill="#0072BD"/>
<rect x="452.62" y="38.34" width="25.1" height="25.1" fill="#0072BD"/>
<rect x="634.93" y="156.45" width="25.1" height="25.1" fill="#0072BD"/>
<rect x="878.00" y="114.65" width="25.1" height="25.1" fill="#0072BD"/>
<rect x="1121.07" y="79.78" width="25.1" height="25.1" fill="#0072BD"/>
<rect x="1424.91" y="173.85" width="25.1" height="25.1" fill="#0072BD"/>
<rect x="1652.79" y="161.95" width="25.1" height="25.1" fill="#0072BD"/>
<g clip-path="url(#cp)"><path d="M223.6 43.3L225.1 43.3L226.6 43.3L228.1 43.3L229.6 43.3L231.1 43.3L232.6 43.3L234.1 43.3L235.6 43.3L237.1 43.3L238.6 43.3L240.1 43.3L241.6 43.3L243.1 43.3L244.6 43.3L246.1 43.3L247.6 43.3L249.1 43.3L250.6 43.3L252.1 43.3L253.6 43.3L255.1 43.3L256.6 43.3L258.1 43.3L259.6 43.3L261.1 43.3L262.6 43.3L264.1 43.3L265.6 43.3L267.1 43.3L268.6 43.3L270.1 43.3L271.6 43.3L273.1 43.3L274.6 43.3L276.1 43.3L277.6 43.3L279.1 43.3L280.6 43.3L282.1 43.3L283.6 43.3L285.1 43.3L286.6 43.3L288.1 43.3L289.6 43.3L291.1 43.3L292.6 43.3L294.1 43.3L295.6 43.3L297.1 43.3L298.6 43.3L300.0 43.3L300.1 43.3L301.6 43.3L303.1 43.3L304.6 43.3L306.1 43.3L307.6 43.3L309.1 43.3L310.6 43.3L312.1 43.3L313.6 43.3L315.1 43.3L316.6 43.3L318.1 43.3L319.6 43.3L321.1 43.3L322.6 43.3L324.1 43.3L325.6 43.3L327.1 43.3L328.6 43.3L330.1 43.3L331.6 43.3L333.1 43.3L334.6 43.3L336.1 43.3L337.6 43.3L339.1 43.4L340.6 43.4L342.1 43.4L343.6 43.4L345.1 43.4L346.6 43.4L348.1 43.4L349.6 43.4L351.1 43.4L352.6 43.4L354.1 43.4L355.6 43.4L357.1 43.4L358.6 43.4L360.1 43.4L361.6 43.4L363.2 43.4L364.7 43.4L366.2 43.4L367.7 43.4L369.2 43.5L370.7 43.5L372.2 43.5L373.7 43.5L375.2 43.5L376.7 43.5L378.2 43.5L379.7 43.5L380.0 43.5L381.2 43.5L382.7 43.5L384.2 43.5L385.7 43.5L387.2 43.5L388.7 43.6L390.2 43.6L391.7 43.6L393.2 43.6L394.7 43.6L396.2 43.6L397.7 43.6L399.2 43.7L400.7 43.7L402.2 43.7L403.7 43.7L405.2 43.7L406.7 43.8L408.2 43.8L409.7 43.8L411.2 43.8L412.7 43.9L414.2 43.9L415.7 43.9L417.2 43.9L418.7 44.0L420.0 44.0L420.2 44.0L421.7 44.0L423.2 44.1L424.7 44.1L426.2 44.2L427.7 44.2L429.2 44.2L430.7 44.3L432.2 44.4L433.7 44.4L435.2 44.5L436.7 44.5L438.2 44.6L439.7 44.7L441.2 44.8L442.7 44.8L444.2 44.9L445.7 45.0L447.2 45.1L448.7 45.2L450.0 45.3L450.1 45.3L451.6 45.4L453.1 45.6L454.6 45.7L456.1 45.9L457.6 46.0L459.1 46.2L460.6 46.4L462.1 46.7L463.6 46.9L465.0 47.1L466.5 47.4L468.0 47.7L469.5 47.9L471.0 48.2L472.5 48.5L473.9 48.8L475.4 49.1L476.9 49.4L478.3 49.7L479.8 50.0L481.3 50.4L482.7 50.7L483.3 50.8L484.2 51.0L485.6 51.3L487.1 51.7L488.6 52.1L490.0 52.5L491.5 52.9L492.9 53.3L494.4 53.8L495.8 54.2L497.2 54.7L498.6 55.3L500.0 55.8L500.0 55.8L501.4 56.4L502.7 57.0L504.1 57.6L505.4 58.3L506.8 59.0L508.1 59.7L509.5 60.5L510.8 61.3L512.0 62.2L513.3 63.0L514.5 63.9L515.7 64.8L516.7 65.6L516.8 65.7L517.9 66.6L519.0 67.7L520.0 68.7L521.0 69.9L522.0 71.0L523.0 72.2L523.9 73.4L524.9 74.6L525.8 75.8L525.9 75.9L526.7 76.9L527.7 78.1L528.6 79.3L529.5 80.5L530.5 81.7L531.4 82.9L532.3 84.1L533.2 85.3L534.0 86.6L534.9 87.8L535.7 89.1L536.5 90.3L537.3 91.6L538.0 92.9L538.3 93.5L538.7 94.2L539.3 95.5L539.9 96.9L540.5 98.2L541.1 99.6L541.7 101.0L542.3 102.4L542.8 103.8L543.3 105.3L543.8 106.7L544.3 108.1L544.8 109.5L545.0 110.0L545.3 110.9L545.8 112.4L546.3 113.8L546.7 115.2L547.2 116.6L547.6 118.1L548.0 119.5L548.5 121.0L548.9 122.4L549.3 123.9L549.6 125.3L550.0 126.7L550.0 126.8L550.4 128.2L550.7 129.7L551.1 131.1L551.4 132.6L551.7 134.1L552.0 135.5L552.3 137.0L552.7 138.5L553.0 139.9L553.3 141.4L553.6 142.9L553.9 144.4L554.1 145.8L554.3 146.7L554.4 147.3L554.7 148.8L555.0 150.2L555.4 151.7L555.7 153.2L556.0 154.7L556.3 156.1L556.6 157.6L556.9 159.1L557.2 160.5L557.5 162.0L557.8 163.5L558.1 165.0L558.4 166.4L558.7 167.9L559.0 169.4L559.3 170.8L559.6 172.3L559.9 173.8L560.2 175.3L560.5 176.7L560.8 178.2L561.0 179.7L561.3 181.2L561.6 182.6L561.9 184.1L562.1 185.6L562.4 187.1L562.7 188.5L562.9 190.0L563.2 191.5L563.4 193.0L563.6 194.5L563.9 195.9L564.1 197.4L564.3 198.9L564.5 200.4L564.7 201.9L564.9 203.3L564.9 203.4L565.1 204.8L565.3 206.3L565.5 207.8L565.6 209.3L565.8 210.8L566.0 212.3L566.1 213.8L566.3 215.3L566.5 216.8L566.6 218.2L566.8 219.7L566.9 221.2L567.1 222.7L567.2 224.2L567.4 225.7L567.5 227.2L567.7 228.7L567.8 230.2L567.9 231.7L568.1 233.2L568.2 234.7L568.3 236.2L568.5 237.7L568.6 239.2L568.7 240.7L568.9 242.2L569.0 243.7L569.1 245.2L569.3 246.6L569.4 248.1L569.6 249.6L569.7 251.1L569.8 252.6L569.9 253.3L570.0 254.1L570.1 255.6L570.3 257.1L570.4 258.6L570.6 260.1L570.7 261.6L570.8 263.1L571.0 264.6L571.1 266.1L571.3 267.6L571.4 269.1L571.6 270.6L571.7 272.0L571.9 273.5L572.0 275.0L572.2 276.5L572.3 278.0L572.5 279.5L572.6 281.0L572.7 282.5L572.9 284.0L573.0 285.5L573.2 287.0L573.3 288.5L573.5 290.0L573.6 291.5L573.7 293.0L573.9 294.5L574.0 296.0L574.1 297.4L574.3 298.9L574.4 300.4L574.5 301.9L574.6 303.4L574.8 304.9L574.9 306.4L575.0 307.9L575.1 309.4L575.2 310.9L575.3 312.4L575.5 313.9L575.6 315.4L575.7 316.9L575.8 318.4L575.9 319.9L575.9 320.0L576.0 321.4L576.1 322.9L576.2 324.4L576.2 325.9L576.3 327.4L576.4 328.9L576.5 330.4L576.6 331.9L576.7 333.4L576.8 334.9L576.9 336.4L577.0 337.8L577.1 339.3L577.2 340.8L577.2 342.3L577.3 343.8L577.4 345.3L577.5 346.8L577.6 348.3L577.7 349.8L577.7 351.3L577.8 352.8L577.9 354.3L578.0 355.8L578.1 357.3L578.2 358.8L578.2 360.3L578.3 361.8L578.4 363.3L578.5 364.8L578.5 366.3L578.6 367.8L578.7 369.3L578.8 370.8L578.8 372.3L578.9 373.8L579.0 375.3L579.0 376.8L579.1 378.3L579.2 379.8L579.3 381.3L579.3 382.8L579.4 384.3L579.5 385.8L579.5 387.3L579.6 388.8L579.6 390.3L579.7 391.8L579.8 393.3L579.8 394.8L579.9 396.3L580.0 397.8L580.0 399.3L580.1 400.8L580.1 402.3L580.2 403.8L580.3 405.3L580.3 406.8L580.4 408.3L580.4 409.8L580.5 411.3L580.5 412.8L580.6 414.3L580.6 415.8L580.7 417.3L580.7 418.8L580.8 420.0L580.8 420.3L580.8 421.8L580.9 423.3L580.9 424.8L581.0 426.3L581.0 427.8L581.1 429.3L581.1 430.8L581.2 432.3L581.2 433.8L581.3 435.3L581.3 436.8L581.4 438.3L581.4 439.8L581.5 441.3L581.5 442.8L581.5 444.3L581.6 445.8L581.6 447.3L581.7 448.8L581.7 450.3L581.8 451.8L581.8 453.3L581.9 454.8L581.9 456.3L581.9 457.8L582.0 459.3L582.0 460.8L582.1 462.3L582.1 463.8L582.2 465.3L582.2 466.8L582.2 468.3L582.3 469.8L582.3 471.3L582.4 472.8L582.4 474.3L582.4 475.8L582.5 477.3L582.5 478.8L582.6 480.3L582.6 481.8L582.6 483.3L582.7 484.8L582.7 486.3L582.7 487.8L582.8 489.3L582.8 490.8L582.9 492.3L582.9 493.8L582.9 495.3L583.0 496.8L583.0 498.3L583.0 499.8L583.1 501.3L583.1 502.8L583.2 504.3L583.2 505.8L583.2 507.3L583.3 508.8L583.3 510.3L583.3 511.8L583.4 513.3L583.4 514.8L583.4 516.3L583.5 517.8L583.5 519.3L583.5 520.8L583.6 522.3L583.6 523.8L583.6 525.3L583.7 526.8L583.7 528.3L583.7 529.8L583.8 531.3L583.8 532.8L583.8 534.3L583.9 535.8L583.9 537.3L583.9 538.8L584.0 540.3L584.0 541.8L584.0 543.3L584.1 544.8L584.1 546.3L584.1 547.8L584.2 549.3L584.2 550.8L584.2 552.3L584.3 553.8L584.3 555.3L584.3 556.8L584.3 558.3L584.4 559.8L584.4 561.3L584.4 562.8L584.5 564.3L584.5 565.8L584.5 567.3L584.6 568.8L584.6 570.3L584.6 571.8L584.6 573.3L584.7 574.8L584.7 576.3L584.7 577.8L584.8 579.3L584.8 580.8L584.8 582.3L584.8 583.8L584.9 585.3L584.9 586.8L584.9 588.3L585.0 589.8L585.0 591.3L585.0 592.8L585.0 594.3L585.1 595.8L585.1 597.3L585.1 598.8L585.1 600.3L585.2 601.8L585.2 603.3L585.2 604.8L585.3 606.3L585.3 607.8L585.3 609.3L585.3 610.8L585.4 612.3L585.4 613.8L585.4 615.3L585.4 616.8L585.5 618.3L585.5 619.8L585.5 620.0L585.5 621.3L585.5 622.8L585.6 624.3L585.6 625.8L585.6 627.3L585.7 628.8L585.7 630.3L585.7 631.8L585.7 633.3L585.8 634.8L585.8 636.3L585.8 637.8L585.8 639.3L585.9 640.8L585.9 642.3L585.9 643.8L585.9 645.3L586.0 646.8L586.0 648.3L586.0 649.8L586.0 651.3L586.1 652.8L586.1 654.3L586.1 655.8L586.1 657.3L586.2 658.8L586.2 660.3L586.2 661.8L586.2 663.3L586.3 664.8L586.3 666.3L586.3 667.8L586.3 669.3L586.4 670.8L586.4 672.3L586.4 673.8L586.4 675.3L586.5 676.8L586.5 678.3L586.5 679.8L586.5 681.3L586.5 682.8L586.6 684.3L586.6 685.8L586.6 687.3L586.6 688.8L586.7 690.3L586.7 691.8L586.7 693.3L586.7 694.8L586.8 696.3L586.8 697.8L586.8 699.3L586.8 700.8L586.8 702.3L586.9 703.8L586.9 705.3L586.9 706.8L586.9 708.3L586.9 709.8L587.0 711.3L587.0 712.8L587.0 714.3L587.0 715.8L587.1 717.3L587.1 718.8L587.1 720.3L587.1 721.8L587.1 723.3L587.2 724.8L587.2 726.3L587.2 727.8L587.2 729.3L587.2 730.8L587.3 732.3L587.3 733.8L587.3 735.3L587.3 736.8L587.3 738.3L587.3 739.8L587.4 741.3L587.4 742.8L587.4 744.3L587.4 745.8L587.4 747.3L587.5 748.8L587.5 750.3L587.5 751.8L587.5 753.3L587.5 754.8L587.5 756.3L587.6 757.8L587.6 759.3L587.6 760.9L587.6 762.4L587.6 763.9L587.6 765.4L587.7 766.9L587.7 768.4L587.7 769.9L587.7 771.4L587.7 772.9L587.7 774.4L587.8 775.9L587.8 777.4L587.8 778.9L587.8 780.0L587.8 780.4L587.8 781.9L587.8 783.4L587.8 784.9L587.9 786.4L587.9 787.9L587.9 789.4L587.9 790.9L587.9 792.4L587.9 793.9L587.9 795.4L588.0 796.9L588.0 798.4L588.0 799.9L588.0 801.4L588.0 802.9L588.0 804.4L588.0 805.9L588.1 807.4L588.1 808.9L588.1 810.4L588.1 811.9L588.1 813.4L588.1 814.9L588.1 816.4L588.1 817.9L588.1 819.4L588.2 820.9L588.2 822.4L588.2 823.9L588.2 825.4L588.2 826.9L588.2 828.4L588.2 829.9L588.2 831.4L588.3 832.9L588.3 834.4L588.3 835.9L588.3 837.4L588.3 838.9L588.3 840.4L588.3 841.9L588.3 843.4L588.3 844.9L588.3 846.4L588.4 847.9L588.4 849.4L588.4 850.9L588.4 852.4L588.4 853.9L588.4 855.4L588.4 856.9L588.4 858.4L588.4 859.9L588.5 861.4L588.5 862.9L588.5 864.4L588.5 865.9L588.5 867.4L588.5 868.9L588.5 870.4L588.5 871.9L588.5 873.4L588.5 874.9L588.5 876.4L588.6 877.9L588.6 879.4L588.6 880.9L588.6 882.4L588.6 883.9L588.6 885.4L588.6 886.9L588.6 888.4L588.6 889.9L588.6 891.4L588.7 892.9L588.7 894.4L588.7 895.9L588.7 897.4L588.7 898.9L588.7 900.4L588.7 901.9L588.7 903.4L588.7 904.9L588.7 906.4L588.8 907.9L588.8 909.4L588.8 910.9L588.8 912.4L588.8 913.9L588.8 915.4L588.8 916.9L588.8 918.4L588.8 919.9L588.8 921.4L588.9 922.9L588.9 924.4L588.9 925.9L588.9 927.4L588.9 928.9L588.9 930.4L588.9 931.9L588.9 933.4L588.9 934.9L588.9 936.4L589.0 937.9L589.0 939.4L589.0 940.9L589.0 942.4L589.0 943.9L589.0 945.4L589.0 946.9L589.0 948.4L589.0 949.9L589.1 951.4L589.1 952.9L589.1 954.4L589.1 955.9L589.1 957.4L589.1 958.9L589.1 960.4L589.1 961.9L589.2 963.4L589.2 964.9L589.2 966.4L589.2 967.9L589.2 969.4L589.2 970.9L589.2 972.4L589.2 973.9L589.3 975.4L589.3 976.9L589.3 978.4L589.3 979.9L589.3 980.0L589.3 981.4L589.3 983.0L589.3 984.7L589.4 986.4L589.4 988.1L589.4 989.9L589.4 991.7L589.4 993.5L589.4 995.4L589.4 997.3L589.5 999.2L589.5 1001.2L589.5 1003.2L589.5 1005.1L589.5 1007.1L589.5 1009.1L589.6 1011.1L589.6 1013.1L589.6 1015.1L589.6 1017.1L589.6 1019.1L589.6 1021.0L589.7 1023.0L589.7 1024.9L589.7 1026.8L589.7 1028.6L589.7 1030.5L589.7 1032.3L589.8 1034.0L589.8 1035.7L589.8 1037.4L589.8 1039.0L589.8 1040.5L589.8 1042.0L589.9 1043.4L589.9 1044.8L589.9 1046.0L589.9 1047.3L589.9 1048.4L589.9 1049.4L590.0 1050.4L590.0 1051.3L590.0 1052.1L590.0 1052.8L590.0 1053.4L590.0 1053.8L590.1 1054.2L590.1 1054.5L590.1 1054.7L590.1 1054.7L590.1 1054.7L590.1 1054.6L590.1 1054.4L590.2 1054.1L590.2 1053.7L590.2 1053.2L590.2 1052.6L590.2 1051.8L590.2 1051.0L590.3 1050.1L590.3 1049.1L590.3 1048.0L590.3 1046.9L590.3 1045.6L590.3 1044.3L590.4 1043.0L590.4 1041.5L590.4 1040.0L590.4 1038.4L590.4 1036.8L590.4 1035.2L590.5 1033.4L590.5 1031.7L590.5 1029.9L590.5 1028.0L590.5 1026.2L590.6 1024.3L590.6 1022.4L590.6 1020.4L590.6 1018.5L590.6 1016.5L590.6 1014.5L590.7 1012.5L590.7 1010.5L590.7 1008.5L590.7 1006.5L590.7 1004.5L590.7 1002.5L590.7 1000.6L590.8 998.6L590.8 996.7L590.8 994.8L590.8 992.9L590.8 991.1L590.8 989.3L590.8 987.5L590.9 985.8L590.9 984.1L590.9 982.5L590.9 980.9L590.9 980.0L590.9 979.4L590.9 977.9L590.9 976.4L590.9 974.9L590.9 973.4L591.0 971.9L591.0 970.4L591.0 968.9L591.0 967.4L591.0 965.9L591.0 964.4L591.0 962.9L591.0 961.4L591.0 959.9L591.0 958.4L591.0 956.9L591.1 955.4L591.1 953.9L591.1 952.4L591.1 950.9L591.1 949.4L591.1 947.9L591.1 946.4L591.1 944.9L591.1 943.4L591.1 941.9L591.1 940.4L591.1 938.9L591.2 937.4L591.2 935.9L591.2 934.4L591.2 932.9L591.2 931.4L591.2 929.9L591.2 928.4L591.2 926.9L591.2 925.4L591.2 923.9L591.2 922.4L591.2 920.9L591.2 919.4L591.2 917.9L591.3 916.4L591.3 914.9L591.3 913.4L591.3 911.9L591.3 910.4L591.3 908.9L591.3 907.4L591.3 905.9L591.3 904.4L591.3 902.9L591.3 901.4L591.3 899.9L591.3 898.4L591.3 896.9L591.3 895.4L591.3 893.9L591.4 892.4L591.4 890.9L591.4 889.4L591.4 887.9L591.4 886.4L591.4 884.9L591.4 883.4L591.4 881.9L591.4 880.4L591.4 878.9L591.4 877.4L591.4 875.9L591.4 874.4L591.4 872.9L591.4 871.4L591.4 869.9L591.4 868.4L591.5 866.9L591.5 865.4L591.5 863.9L591.5 862.4L591.5 860.9L591.5 859.4L591.5 857.9L591.5 856.4L591.5 854.9L591.5 853.4L591.5 851.9L591.5 850.4L591.5 848.9L591.5 847.4L591.5 845.9L591.5 844.4L591.6 842.9L591.6 841.4L591.6 839.9L591.6 838.4L591.6 836.9L591.6 835.4L591.6 833.9L591.6 832.4L591.6 830.9L591.6 829.4L591.6 827.9L591.6 826.4L591.6 824.9L591.6 823.4L591.6 821.9L591.7 820.4L591.7 818.9L591.7 817.4L591.7 815.9L591.7 814.4L591.7 812.9L591.7 811.4L591.7 809.9L591.7 808.4L591.7 806.9L591.7 805.4L591.7 803.9L591.7 802.4L591.8 800.9L591.8 799.4L591.8 797.9L591.8 796.4L591.8 794.9L591.8 793.4L591.8 791.9L591.8 790.4L591.8 788.9L591.8 787.4L591.8 785.9L591.9 784.4L591.9 782.9L591.9 781.4L591.9 779.9L591.9 778.4L591.9 777.8L591.9 776.9L591.9 775.4L591.9 773.9L591.9 772.4L591.9 770.9L592.0 769.4L592.0 767.9L592.0 766.4L592.0 764.9L592.0 763.4L592.0 761.9L592.0 760.4L592.0 758.9L592.0 757.4L592.1 755.9L592.1 754.4L592.1 752.9L592.1 751.4L592.1 749.9L592.1 748.4L592.1 746.9L592.1 745.4L592.2 743.9L592.2 742.4L592.2 740.9L592.2 739.3L592.2 737.8L592.2 736.3L592.2 734.8L592.2 733.3L592.3 731.8L592.3 730.3L592.3 728.8L592.3 727.3L592.3 725.8L592.3 724.3L592.3 722.8L592.4 721.3L592.4 719.8L592.4 718.3L592.4 716.8L592.4 715.3L592.4 713.8L592.4 712.3L592.5 710.8L592.5 709.3L592.5 707.8L592.5 706.3L592.5 704.8L592.5 703.3L592.5 701.8L592.6 700.3L592.6 698.8L592.6 697.3L592.6 695.8L592.6 694.3L592.6 692.8L592.7 691.3L592.7 689.8L592.7 688.3L592.7 686.8L592.7 685.3L592.7 683.8L592.8 682.3L592.8 680.8L592.8 679.3L592.8 677.8L592.8 676.3L592.8 674.8L592.9 673.3L592.9 671.8L592.9 670.3L592.9 668.8L592.9 667.3L593.0 665.8L593.0 664.3L593.0 662.8L593.0 661.3L593.0 659.8L593.0 658.3L593.1 656.8L593.1 655.3L593.1 653.8L593.1 652.3L593.1 650.8L593.2 649.3L593.2 647.8L593.2 646.3L593.2 644.8L593.3 643.3L593.3 641.8L593.3 640.3L593.3 638.8L593.3 637.3L593.4 635.8L593.4 634.3L593.4 632.8L593.4 631.3L593.4 629.8L593.5 628.3L593.5 626.8L593.5 625.3L593.5 623.8L593.6 622.3L593.6 620.8L593.6 620.0L593.6 619.3L593.6 617.8L593.7 616.3L593.7 614.8L593.7 613.3L593.7 611.8L593.8 610.3L593.8 608.8L593.8 607.3L593.9 605.8L593.9 604.3L593.9 602.8L594.0 601.3L594.0 599.8L594.0 598.3L594.1 596.8L594.1 595.3L594.2 593.8L594.2 592.3L594.2 590.8L594.3 589.3L594.3 587.8L594.4 586.3L594.4 584.8L594.4 583.3L594.5 581.8L594.5 580.3L594.6 578.8L594.6 577.3L594.7 575.8L594.7 574.3L594.7 572.8L594.8 571.3L594.8 569.8L594.9 568.3L594.9 566.8L595.0 565.3L595.0 563.8L595.1 562.3L595.1 560.8L595.2 559.3L595.2 557.8L595.3 556.3L595.3 554.8L595.3 553.3L595.4 551.8L595.4 550.3L595.5 548.8L595.5 547.3L595.6 545.8L595.6 544.3L595.7 542.8L595.7 541.3L595.8 539.8L595.8 538.3L595.9 536.8L595.9 535.3L596.0 533.8L596.0 532.3L596.0 530.8L596.1 529.3L596.1 527.8L596.2 526.3L596.2 524.8L596.3 523.3L596.3 521.8L596.3 520.3L596.4 518.8L596.4 517.3L596.5 515.8L596.5 514.3L596.5 512.8L596.6 511.3L596.6 509.8L596.7 508.3L596.7 506.8L596.7 506.7L596.7 505.3L596.8 503.8L596.8 502.3L596.8 500.8L596.9 499.3L596.9 497.8L596.9 496.3L597.0 494.8L597.0 493.3L597.0 491.8L597.1 490.3L597.1 488.8L597.1 487.3L597.1 485.8L597.2 484.3L597.2 482.8L597.2 481.3L597.3 479.8L597.3 478.3L597.3 476.8L597.3 475.3L597.4 473.8L597.4 472.3L597.4 470.8L597.4 469.3L597.5 467.8L597.5 466.3L597.5 464.8L597.5 463.3L597.6 461.8L597.6 460.3L597.6 458.8L597.6 457.3L597.7 455.8L597.7 454.3L597.7 452.8L597.7 451.3L597.8 449.8L597.8 448.3L597.8 446.8L597.9 445.3L597.9 443.8L597.9 442.3L597.9 440.8L598.0 439.3L598.0 437.8L598.0 436.3L598.0 434.8L598.1 433.3L598.1 431.8L598.1 430.3L598.2 428.8L598.2 427.3L598.2 425.8L598.3 424.3L598.3 422.8L598.3 421.3L598.4 419.8L598.4 418.3L598.4 416.8L598.5 415.3L598.5 413.8L598.5 412.3L598.6 410.8L598.6 409.3L598.7 407.8L598.7 406.3L598.7 404.8L598.8 403.3L598.8 401.8L598.9 400.3L598.9 398.8L599.0 397.3L599.0 395.8L599.1 394.3L599.1 392.8L599.2 391.3L599.2 390.0L599.2 389.8L599.3 388.3L599.3 386.8L599.4 385.3L599.4 383.8L599.5 382.3L599.6 380.8L599.7 379.3L599.8 377.8L599.8 376.3L599.9 374.8L600.0 373.3L600.1 371.8L600.2 370.3L600.3 368.8L600.4 367.3L600.5 365.8L600.6 364.3L600.7 362.8L600.8 361.4L600.9 359.9L601.1 358.4L601.2 356.9L601.3 355.4L601.4 353.9L601.5 352.4L601.6 350.9L601.8 349.4L601.9 347.9L602.0 346.4L602.1 344.9L602.3 343.4L602.4 341.9L602.5 340.4L602.6 338.9L602.8 337.4L602.9 335.9L603.0 334.4L603.2 332.9L603.3 331.4L603.4 329.9L603.5 328.4L603.7 326.9L603.8 325.4L603.9 323.9L604.0 322.5L604.1 321.0L604.3 319.5L604.4 318.0L604.4 317.8L604.5 316.5L604.6 315.0L604.7 313.5L604.9 312.0L605.0 310.5L605.1 309.0L605.2 307.5L605.3 306.0L605.4 304.5L605.6 303.0L605.7 301.5L605.8 300.0L605.9 298.5L606.0 297.0L606.1 295.5L606.3 294.0L606.4 292.5L606.5 291.0L606.6 289.5L606.7 288.0L606.9 286.5L607.0 285.0L607.1 283.6L607.2 282.1L607.4 280.6L607.5 279.1L607.6 277.6L607.7 276.1L607.9 274.6L608.0 273.1L608.1 271.6L608.2 270.1L608.4 268.6L608.5 267.1L608.6 265.6L608.8 264.1L608.9 262.6L609.0 261.1L609.2 259.6L609.3 258.1L609.5 256.6L609.6 255.2L609.7 253.7L609.9 252.2L610.0 250.7L610.2 249.2L610.3 247.7L610.5 246.2L610.6 244.7L610.8 243.2L610.9 241.7L611.1 240.2L611.1 240.0L611.2 238.7L611.4 237.2L611.6 235.7L611.7 234.3L611.9 232.8L612.1 231.3L612.3 229.8L612.5 228.3L612.5 228.3L612.7 226.8L612.9 225.3L613.2 223.9L613.4 222.4L613.6 220.9L613.9 219.4L614.1 217.9L614.4 216.4L614.6 215.0L614.9 213.5L615.2 212.0L615.4 210.5L615.7 209.1L616.0 207.6L616.2 206.1L616.5 204.6L616.7 203.3L616.7 203.1L617.0 201.7L617.2 200.2L617.5 198.7L617.8 197.2L618.0 195.8L618.3 194.3L618.6 192.8L618.8 191.3L619.1 189.8L619.3 188.4L619.6 186.9L619.9 185.4L620.1 183.9L620.4 182.5L620.6 181.0L620.8 180.0L620.9 179.5L621.1 178.0L621.4 176.5L621.6 175.1L621.8 173.6L622.1 172.1L622.3 170.6L622.5 169.1L622.8 167.6L623.0 166.2L623.2 164.7L623.5 163.2L623.7 161.7L624.0 160.2L624.2 158.8L624.5 157.3L624.5 157.0L624.7 155.8L624.9 154.3L625.2 152.8L625.4 151.3L625.6 149.7L625.9 148.2L626.1 146.7L626.3 145.1L626.5 143.6L626.8 142.1L627.0 140.6L627.3 139.1L627.6 137.6L627.9 136.2L628.3 134.8L628.6 133.4L629.0 132.0L629.4 130.7L629.5 130.5L629.9 129.4L630.6 128.2L631.4 127.0L632.3 122.0L633.3 119.4L634.3 117.0L635.3 114.6L636.3 112.4L637.3 110.3L638.3 108.3L639.3 106.4L640.3 104.6L641.3 102.8L642.3 101.2L643.3 99.6L644.3 98.0L645.3 96.6L646.3 95.1L647.3 93.8L647.5 93.5L648.3 92.4L649.3 91.1L650.3 89.8L651.3 88.6L652.3 87.4L653.3 86.2L654.3 85.0L655.3 83.9L656.3 82.9L657.3 81.8L658.3 80.8L659.3 79.8L660.3 78.9L661.3 78.0L662.3 77.1L662.7 76.8L663.3 76.3L664.3 75.5L665.3 74.7L666.3 74.0L667.3 73.3L668.3 72.6L669.3 71.9L670.3 71.3L671.3 70.6L672.3 70.0L673.3 69.5L674.3 68.9L675.3 68.3L676.3 67.8L677.3 67.3L677.9 67.0L678.3 66.8L679.3 66.3L680.3 65.8L681.3 65.3L682.3 64.8L683.3 64.4L684.3 63.9L685.3 63.5L686.3 63.1L687.3 62.7L688.3 62.3L689.3 61.9L690.3 61.5L691.3 61.1L692.3 60.8L693.1 60.5L693.3 60.4L694.3 60.1L695.3 59.8L696.3 59.5L697.3 59.2L698.3 58.9L699.3 58.6L700.3 58.4L701.3 58.1L702.3 57.9L703.3 57.6L704.3 57.4L705.3 57.2L706.3 57.0L707.3 56.8L708.2 56.6L708.3 56.6L709.3 56.4L710.3 56.2L711.3 56.1L712.3 55.9L713.3 55.8L714.3 55.6L715.3 55.5L716.3 55.3L717.3 55.2L718.3 55.1L719.3 55.0L720.3 54.9L721.3 54.8L722.3 54.7L723.3 54.6L723.4 54.5L724.3 54.5L725.3 54.4L726.3 54.3L727.3 54.2L728.3 54.1L729.3 54.1L730.3 54.0L731.3 53.9L732.3 53.9L733.3 53.8L734.3 53.8L735.3 53.7L736.3 53.7L737.3 53.6L738.3 53.6L738.6 53.6L739.3 53.5L740.3 53.5L741.3 53.5L742.3 53.4L743.3 53.4L744.3 53.3L745.3 53.3L746.3 53.3L747.3 53.3L748.3 53.2L749.3 53.2L750.3 53.2L751.3 53.2L752.3 53.1L753.3 53.1L753.8 53.1L754.3 53.1L755.3 53.1L756.3 53.1L757.3 53.1L758.3 53.1L759.3 53.1L760.3 53.1L761.3 53.1L762.3 53.1L763.3 53.1L764.3 53.1L765.3 53.2L766.3 53.2L767.3 53.2L768.3 53.3L769.0 53.3L769.3 53.3L770.3 53.3L771.3 53.4L772.3 53.5L773.3 53.5L774.3 53.6L775.3 53.7L776.3 53.7L777.3 53.8L778.3 53.9L779.3 54.0L780.3 54.1L781.3 54.2L782.3 54.3L783.3 54.4L784.2 54.6L784.3 54.6L785.3 54.7L786.3 54.8L787.3 55.0L788.3 55.1L789.3 55.3L790.3 55.5L791.3 55.6L792.3 55.8L793.3 56.0L794.3 56.2L795.3 56.4L796.3 56.6L797.3 56.8L798.3 57.0L799.3 57.2L799.4 57.3L800.3 57.5L801.3 57.7L802.3 57.9L803.3 58.2L804.3 58.4L805.3 58.7L806.3 58.9L807.3 59.2L808.3 59.4L809.3 59.7L810.3 60.0L811.3 60.3L812.3 60.6L813.3 60.9L814.3 61.2L814.6 61.3L815.3 61.5L816.3 61.8L817.3 62.1L818.3 62.4L819.3 62.7L820.3 63.1L821.3 63.4L822.3 63.8L823.3 64.1L824.3 64.5L825.3 64.8L826.3 65.2L827.3 65.6L828.3 65.9L829.3 66.3L829.8 66.5L830.3 66.7L831.3 67.1L832.3 67.5L833.3 67.9L834.3 68.3L835.3 68.7L836.3 69.1L837.3 69.6L838.3 70.0L839.3 70.4L840.3 70.9L841.3 71.4L842.3 71.8L843.3 72.3L844.3 72.8L845.0 73.2L845.3 73.3L846.3 73.9L847.3 74.4L848.3 74.9L849.3 75.5L850.3 76.1L851.3 76.7L852.3 77.3L853.3 77.9L854.3 78.5L855.3 79.1L856.3 79.8L857.3 80.5L858.3 81.2L859.3 81.9L860.2 82.5L860.3 82.6L861.3 83.3L862.3 84.1L863.3 84.9L864.3 85.7L865.3 86.5L866.3 87.3L867.3 88.2L868.3 89.1L869.3 90.0L870.3 91.0L871.3 92.0L872.3 93.0L873.3 94.1L874.3 95.2L875.3 96.3L875.4 96.4L876.3 97.5L877.3 98.7L878.3 99.9L879.3 101.2L880.3 102.6L881.3 103.9L882.3 105.3L883.3 106.7L884.3 108.2L885.3 109.7L886.3 111.2L887.3 112.7L888.3 114.3L889.3 115.9L890.3 117.5L890.5 117.9L891.3 119.1L892.3 120.8L893.3 122.5L894.3 124.2L895.3 126.0L896.3 127.9L897.3 129.9L898.3 131.9L899.3 134.1L900.3 136.3L901.3 138.7L902.3 141.2L903.3 143.8L904.3 146.6L905.3 149.5L905.7 150.9L906.3 152.6L907.3 155.9L908.3 159.3L909.3 162.8L910.3 166.5L911.3 170.3L912.3 174.2L913.3 178.2L914.3 182.3L915.3 186.5L916.3 190.7L917.3 195.0L918.3 199.3L919.3 203.6L920.3 208.0L920.9 210.8L921.3 212.4L922.3 216.7L923.3 221.1L924.3 225.5L925.3 229.8L926.3 234.1L927.3 238.4L928.3 242.7L929.3 246.9L930.3 251.1L931.3 255.3L932.3 259.4L933.3 263.4L934.3 267.4L935.3 271.3L936.1 274.6L936.3 275.2L937.3 279.0L938.3 282.7L939.3 286.3L940.3 289.7L941.3 293.0L942.3 296.1L943.3 299.0L944.3 301.7L945.3 304.2L946.3 306.4L947.3 308.3L948.3 310.0L949.3 311.3L950.3 312.3L951.3 312.9L951.3 312.9L952.3 313.2L953.3 313.0L954.3 312.6L955.3 311.8L956.3 310.7L957.3 309.3L958.3 307.7L959.3 305.8L960.3 303.6L961.3 301.2L962.3 298.6L963.3 295.9L964.3 292.9L965.3 289.8L966.3 286.6L966.5 285.8L967.3 283.2L968.3 279.7L969.3 276.2L970.3 272.6L971.3 268.9L972.3 265.1L973.3 261.3L974.3 257.6L975.3 253.8L976.3 250.0L977.3 246.2L978.3 242.5L979.3 238.8L980.3 235.2L981.3 231.7L981.7 230.2L982.3 228.3L983.3 224.9L984.3 221.7L985.3 218.6L986.3 215.5L987.3 212.5L988.3 209.6L989.3 206.7L990.3 203.9L991.3 201.2L992.3 198.5L993.3 195.8L994.3 193.2L995.3 190.6L996.3 188.0L996.9 186.4L997.3 185.4L998.3 182.8L999.3 180.3L1000.3 177.8L1001.3 175.2L1002.3 172.7L1003.3 170.3L1004.3 167.8L1005.3 165.4L1006.3 163.0L1007.3 160.6L1008.3 158.3L1009.3 156.0L1010.3 153.7L1011.3 151.5L1012.1 149.8L1012.3 149.3L1013.3 147.2L1014.3 145.1L1015.3 143.1L1016.3 141.1L1017.3 139.1L1018.3 137.2L1019.3 135.3L1020.3 133.5L1021.3 131.7L1022.3 129.9L1023.3 128.2L1024.3 126.5L1025.3 124.8L1026.3 123.2L1027.3 121.6L1027.3 121.6L1028.3 120.1L1029.3 118.6L1030.3 117.1L1031.3 115.6L1032.3 114.2L1033.3 112.8L1034.3 111.4L1035.3 110.1L1036.3 108.8L1037.3 107.5L1038.3 106.3L1039.3 105.1L1040.3 103.9L1041.3 102.8L1042.3 101.7L1042.5 101.5L1043.3 100.6L1044.3 99.6L1045.3 98.6L1046.3 97.6L1047.3 96.6L1048.3 95.7L1049.3 94.8L1050.3 94.0L1051.3 93.1L1052.3 92.3L1053.3 91.5L1054.3 90.8L1055.3 90.0L1056.3 89.3L1057.3 88.6L1057.7 88.3L1058.3 87.9L1059.3 87.3L1060.3 86.6L1061.3 86.0L1062.3 85.4L1063.3 84.9L1064.3 84.3L1065.3 83.8L1066.3 83.3L1067.3 82.8L1068.3 82.3L1069.3 81.8L1070.3 81.4L1071.3 80.9L1072.3 80.5L1072.9 80.2L1073.3 80.1L1074.3 79.7L1075.3 79.3L1076.3 78.9L1077.3 78.6L1078.3 78.2L1079.3 77.9L1080.3 77.5L1081.3 77.2L1082.3 76.9L1083.3 76.6L1084.3 76.3L1085.3 76.1L1086.3 75.8L1087.3 75.5L1088.0 75.3L1088.3 75.3L1089.3 75.0L1090.3 74.8L1091.3 74.6L1092.3 74.4L1093.3 74.2L1094.3 74.0L1095.3 73.8L1096.3 73.6L1097.3 73.4L1098.3 73.2L1099.3 73.1L1100.3 72.9L1101.3 72.8L1102.3 72.6L1103.2 72.5L1103.3 72.5L1104.3 72.4L1105.3 72.3L1106.3 72.2L1107.3 72.0L1108.3 71.9L1109.3 71.9L1110.3 71.8L1111.3 71.7L1112.3 71.6L1113.3 71.5L1114.3 71.5L1115.3 71.4L1116.3 71.4L1117.3 71.3L1118.3 71.3L1118.4 71.3L1119.3 71.3L1120.3 71.2L1121.3 71.2L1122.3 71.2L1123.3 71.2L1124.3 71.2L1125.3 71.2L1126.3 71.2L1127.3 71.3L1128.3 71.3L1129.3 71.3L1130.3 71.4L1131.3 71.4L1132.3 71.5L1133.3 71.6L1133.6 71.6L1134.3 71.7L1135.3 71.7L1136.3 71.8L1137.3 71.9L1138.3 72.0L1139.3 72.2L1140.3 72.3L1141.3 72.4L1142.3 72.6L1143.3 72.7L1144.3 72.9L1145.3 73.0L1146.3 73.2L1147.3 73.4L1148.3 73.6L1148.8 73.7L1149.3 73.8L1150.3 74.0L1151.3 74.2L1152.3 74.4L1153.3 74.6L1154.3 74.9L1155.3 75.1L1156.3 75.3L1157.3 75.6L1158.3 75.9L1159.3 76.1L1160.3 76.4L1161.3 76.7L1162.3 77.0L1163.3 77.3L1164.0 77.5L1164.3 77.6L1165.3 77.9L1166.3 78.2L1167.3 78.6L1168.3 78.9L1169.3 79.2L1170.3 79.6L1171.3 80.0L1172.3 80.3L1173.3 80.7L1174.3 81.1L1175.3 81.5L1176.3 81.9L1177.3 82.3L1178.3 82.7L1179.2 83.1L1179.3 83.1L1180.3 83.6L1181.3 84.0L1182.3 84.5L1183.3 84.9L1184.3 85.4L1185.3 85.9L1186.3 86.4L1187.3 86.9L1188.3 87.4L1189.3 88.0L1190.3 88.5L1191.3 89.0L1192.3 89.6L1193.3 90.2L1194.3 90.8L1194.4 90.8L1195.3 91.4L1196.3 92.0L1197.3 92.6L1198.3 93.3L1199.3 93.9L1200.3 94.6L1201.3 95.3L1202.3 96.0L1203.3 96.7L1204.3 97.4L1205.3 98.2L1206.3 99.0L1207.3 99.8L1208.3 100.6L1209.3 101.4L1209.6 101.7L1210.3 102.3L1211.3 103.2L1212.3 104.1L1213.3 105.0L1214.3 105.9L1215.3 106.9L1216.3 107.9L1217.3 108.9L1218.3 109.9L1219.3 111.0L1220.3 112.0L1221.3 113.1L1222.3 114.2L1223.3 115.4L1224.3 116.5L1224.8 117.1L1225.3 117.7L1226.3 118.9L1227.3 120.1L1228.3 121.4L1229.3 122.6L1230.3 123.9L1231.3 125.2L1232.3 126.5L1233.3 127.8L1234.3 129.2L1235.3 130.5L1236.3 131.9L1237.3 133.3L1238.3 134.7L1239.3 136.1L1240.0 137.1L1240.3 137.6L1241.3 139.0L1242.3 140.5L1243.3 142.0L1244.3 143.5L1245.3 145.0L1246.3 146.5L1247.3 148.0L1248.3 149.5L1249.3 151.1L1250.3 152.6L1251.3 154.1L1252.3 155.7L1253.3 157.2L1254.3 158.8L1255.2 160.1L1255.3 160.3L1256.3 161.9L1257.3 163.4L1258.3 165.0L1259.3 166.5L1260.3 168.1L1261.3 169.6L1262.3 171.2L1263.3 172.7L1264.3 174.2L1265.3 175.7L1266.3 177.2L1267.3 178.7L1268.3 180.2L1269.3 181.7L1270.3 183.2L1270.3 183.3L1271.3 184.6L1272.3 186.1L1273.3 187.5L1274.3 188.9L1275.3 190.3L1276.3 191.7L1277.3 193.1L1278.3 194.5L1279.3 195.8L1280.3 197.1L1281.3 198.4L1282.3 199.7L1283.3 201.0L1284.3 202.3L1285.3 203.5L1285.5 203.8L1286.3 204.7L1287.3 205.9L1288.3 207.1L1289.3 208.2L1290.3 209.3L1291.3 210.4L1292.3 211.4L1293.3 212.4L1294.3 213.4L1295.3 214.4L1296.3 215.3L1297.3 216.1L1298.3 217.0L1299.3 217.8L1300.3 218.5L1300.7 218.8L1301.3 219.2L1302.3 219.8L1303.3 220.4L1304.3 220.9L1305.3 221.4L1306.3 221.9L1307.3 222.3L1308.3 222.6L1309.3 222.9L1310.3 223.1L1311.3 223.2L1312.3 223.3L1313.3 223.4L1314.3 223.4L1315.3 223.3L1315.9 223.2L1316.3 223.1L1317.3 222.9L1318.3 222.7L1319.3 222.4L1320.3 222.0L1321.3 221.6L1322.3 221.1L1323.3 220.5L1324.3 219.9L1325.3 219.3L1326.3 218.6L1327.3 217.9L1328.3 217.1L1329.3 216.3L1330.3 215.5L1331.1 214.8L1331.3 214.6L1332.3 213.7L1333.3 212.8L1334.3 211.8L1335.3 210.8L1336.3 209.7L1337.3 208.7L1338.3 207.6L1339.3 206.5L1340.3 205.3L1341.3 204.2L1342.3 203.0L1343.3 201.8L1344.3 200.6L1345.3 199.4L1346.3 198.2L1346.3 198.2L1347.3 197.0L1348.3 195.7L1349.3 194.5L1350.3 193.2L1351.3 192.0L1352.3 190.7L1353.3 189.4L1354.3 188.1L1355.3 186.9L1356.3 185.6L1357.3 184.3L1358.3 183.0L1359.3 181.7L1360.3 180.4L1361.3 179.1L1361.5 178.8L1362.3 177.8L1363.3 176.4L1364.3 175.1L1365.3 173.8L1366.3 172.5L1367.3 171.2L1368.3 169.9L1369.3 168.6L1370.3 167.3L1371.3 166.0L1372.3 164.7L1373.3 163.4L1374.3 162.1L1375.3 160.8L1376.3 159.6L1376.7 159.1L1377.3 158.3L1378.3 157.1L1379.3 155.8L1380.3 154.6L1381.3 153.4L1382.3 152.1L1383.3 150.9L1384.3 149.7L1385.3 148.6L1386.3 147.4L1387.3 146.2L1388.3 145.1L1389.3 144.0L1390.3 142.8L1391.3 141.7L1391.9 141.1L1392.3 140.7L1393.3 139.6L1394.3 138.5L1395.3 137.5L1396.3 136.5L1397.3 135.4L1398.3 134.4L1399.3 133.5L1400.3 132.5L1401.3 131.5L1402.3 130.6L1403.3 129.7L1404.3 128.8L1405.3 127.9L1406.3 127.0L1407.1 126.4L1407.3 126.2L1408.3 125.3L1409.3 124.5L1410.3 123.7L1411.3 122.9L1412.3 122.1L1413.3 121.4L1414.3 120.6L1415.3 119.9L1416.3 119.2L1417.3 118.5L1418.3 117.8L1419.3 117.1L1420.3 116.4L1421.3 115.8L1422.3 115.2L1422.3 115.2L1423.3 114.5L1424.3 113.9L1425.3 113.3L1426.3 112.8L1427.3 112.2L1428.3 111.6L1429.3 111.1L1430.3 110.6L1431.3 110.1L1432.3 109.5L1433.3 109.0L1434.3 108.6L1435.3 108.1L1436.3 107.6L1437.3 107.2L1437.5 107.1L1438.3 106.7L1439.3 106.3L1440.3 105.8L1441.3 105.4L1442.3 105.0L1443.3 104.6L1444.3 104.2L1445.3 103.8L1446.3 103.5L1447.3 103.1L1448.3 102.7L1449.3 102.4L1450.3 102.0L1451.3 101.7L1452.3 101.4L1452.7 101.3L1453.3 101.1L1454.3 100.7L1455.3 100.4L1456.3 100.1L1457.3 99.9L1458.3 99.6L1459.3 99.3L1460.3 99.0L1461.3 98.8L1462.3 98.5L1463.3 98.3L1464.3 98.1L1465.3 97.9L1466.3 97.6L1467.3 97.4L1467.8 97.3L1468.3 97.2L1469.3 97.0L1470.3 96.9L1471.3 96.7L1472.3 96.5L1473.3 96.4L1474.3 96.2L1475.3 96.1L1476.3 95.9L1477.3 95.8L1478.3 95.7L1479.3 95.6L1480.3 95.5L1481.3 95.4L1482.3 95.3L1483.0 95.3L1483.3 95.3L1484.3 95.2L1485.3 95.2L1486.3 95.1L1487.3 95.1L1488.3 95.1L1489.3 95.1L1490.3 95.1L1491.3 95.1L1492.3 95.1L1493.3 95.2L1494.3 95.2L1495.3 95.3L1496.3 95.3L1497.3 95.4L1498.2 95.4L1498.3 95.4L1499.3 95.5L1500.3 95.6L1501.3 95.6L1502.3 95.7L1503.3 95.8L1504.3 95.9L1505.3 96.0L1506.3 96.1L1507.3 96.2L1508.3 96.4L1509.3 96.5L1510.3 96.7L1511.3 96.8L1512.3 97.0L1513.3 97.1L1513.4 97.2L1514.3 97.3L1515.3 97.5L1516.3 97.7L1517.3 97.9L1518.3 98.1L1519.3 98.3L1520.3 98.6L1521.3 98.8L1522.3 99.1L1523.3 99.3L1524.3 99.6L1525.3 99.9L1526.3 100.1L1527.3 100.4L1528.3 100.7L1528.6 100.8L1529.3 101.1L1530.3 101.4L1531.3 101.7L1532.3 102.0L1533.3 102.4L1534.3 102.7L1535.3 103.1L1536.3 103.5L1537.3 103.9L1538.3 104.3L1539.3 104.7L1540.3 105.1L1541.3 105.5L1542.3 106.0L1543.3 106.5L1543.8 106.7L1544.3 106.9L1545.3 107.4L1546.3 107.9L1547.3 108.4L1548.3 109.0L1549.3 109.5L1550.3 110.1L1551.3 110.6L1552.3 111.2L1553.3 111.8L1554.3 112.4L1555.3 113.0L1556.3 113.6L1557.3 114.3L1558.3 114.9L1559.0 115.3L1559.3 115.5L1560.3 116.2L1561.3 116.8L1562.3 117.5L1563.3 118.2L1564.3 118.8L1565.3 119.5L1566.3 120.2L1567.3 120.9L1568.3 121.6L1569.3 122.3L1570.3 123.0L1571.3 123.8L1572.3 124.5L1573.3 125.2L1574.2 125.9L1574.3 126.0L1575.3 126.7L1576.3 127.5L1577.3 128.3L1578.3 129.1L1579.3 129.8L1580.3 130.6L1581.3 131.5L1582.3 132.3L1583.3 133.1L1584.3 134.0L1585.3 134.9L1586.3 135.7L1587.3 136.6L1588.3 137.6L1589.3 138.5L1589.4 138.6L1590.3 139.4L1591.3 140.4L1592.3 141.4L1593.3 142.4L1594.3 143.4L1595.3 144.5L1596.3 145.5L1597.3 146.6L1598.3 147.6L1599.3 148.7L1600.3 149.8L1601.3 150.8L1602.3 151.9L1603.3 153.0L1604.3 154.1L1604.6 154.4L1605.3 155.1L1606.3 156.2L1607.3 157.3L1608.3 158.4L1609.3 159.4L1610.3 160.5L1611.3 161.5L1612.3 162.6L1613.3 163.6L1614.3 164.7L1615.3 165.7L1616.3 166.7L1617.3 167.7L1618.3 168.7L1619.3 169.7L1619.8 170.1L1620.3 170.6L1621.3 171.6L1622.3 172.5L1623.3 173.4L1624.3 174.4L1625.3 175.2L1626.3 176.1L1627.3 177.0L1628.3 177.8L1629.3 178.6L1630.3 179.4L1631.3 180.2L1632.3 181.0L1633.3 181.7L1634.3 182.4L1635.0 182.9L1635.3 183.1L1636.3 183.8L1637.3 184.4L1638.3 185.0L1639.3 185.6L1640.3 186.2L1641.3 186.8L1642.3 187.3L1643.3 187.8L1644.3 188.3L1645.3 188.7L1646.3 189.2L1647.3 189.6L1648.3 190.0L1649.3 190.4L1650.1 190.7L1650.3 190.7L1651.3 191.0L1652.3 191.3L1653.3 191.6L1654.3 191.9L1655.3 192.1L1656.3 192.3L1657.3 192.5L1658.3 192.7L1659.3 192.9L1660.3 193.0L1661.3 193.1L1662.3 193.2L1663.3 193.3L1664.3 193.3L1665.3 193.3L1665.3 193.3L1666.3 193.3L1667.3 193.3L1668.3 193.3L1669.3 193.2L1670.3 193.1L1671.3 193.0L1672.3 192.9L1673.3 192.8L1674.3 192.6L1675.3 192.4L1676.3 192.2L1677.3 192.0L1678.3 191.8L1679.3 191.5L1680.3 191.2L1680.5 191.2L1681.3 191.0L1682.3 190.7L1683.3 190.3L1684.3 190.0L1685.3 189.6L1686.3 189.3L1687.3 188.9L1688.3 188.5L1689.3 188.0L1690.3 187.6L1691.3 187.1L1692.3 186.7L1693.3 186.2L1694.3 185.7L1695.3 185.2L1695.7 185.0L1696.3 184.7L1697.3 184.1L1698.3 183.6L1699.3 183.0L1700.3 182.5L1701.3 181.9L1702.3 181.3L1703.3 180.7L1704.3 180.1L1705.3 179.4L1706.3 178.8L1707.3 178.2L1708.3 177.5L1709.3 176.9L1710.3 176.3L1710.9 175.8L1711.3 175.6L1712.3 174.9L1713.3 174.3L1714.3 173.6L1715.3 172.9L1716.3 172.3L1717.3 171.6L1718.3 171.0L1719.3 170.3L1720.3 169.6L1721.3 169.0L1722.3 168.3L1723.3 167.7L1724.3 167.0L1725.3 166.4L1726.1 165.8L1726.3 165.7L1727.3 165.1L1728.3 164.5L1729.3 163.9L1730.3 163.2L1731.3 162.6L1732.3 162.1L1733.3 161.5L1734.3 160.9L1735.3 160.4L1736.3 159.8L1737.3 159.3L1738.3 158.8L1739.3 158.3L1740.3 157.8L1741.3 157.3L1741.3 157.3L1743.7 156.2" fill="none" stroke="#D95319" stroke-width="6.6" stroke-linejoin="round"/></g>
<polygon points="374.02,22.07 354.12,54.77 393.92,54.77" fill="#D95319"/>
<polygon points="525.94,54.55 506.04,87.25 545.84,87.25" fill="#D95319"/>
<polygon points="677.86,45.60 657.96,78.30 697.76,78.30" fill="#D95319"/>
<polygon points="829.78,45.10 809.88,77.80 849.68,77.80" fill="#D95319"/>
<polygon points="981.70,208.85 961.80,241.55 1001.60,241.55" fill="#D95319"/>
<polygon points="1133.62,50.20 1113.72,82.90 1153.52,82.90" fill="#D95319"/>
<polygon points="1285.54,182.40 1265.64,215.10 1305.44,215.10" fill="#D95319"/>
<polygon points="1437.46,85.68 1417.56,118.38 1457.36,118.38" fill="#D95319"/>
<polygon points="1589.38,117.18 1569.48,149.88 1609.28,149.88" fill="#D95319"/>
<g clip-path="url(#cp)"><path d="M223.6 43.3L225.1 43.3L226.6 43.3L228.1 43.3L229.6 43.3L231.1 43.3L232.6 43.3L234.1 43.3L235.6 43.3L237.1 43.3L238.6 43.3L240.1 43.3L241.6 43.3L243.1 43.3L244.6 43.3L246.1 43.3L247.6 43.3L249.1 43.3L250.6 43.3L252.1 43.3L253.6 43.3L255.1 43.3L256.6 43.3L258.1 43.3L259.6 43.3L261.1 43.3L262.6 43.3L264.1 43.3L265.6 43.3L267.1 43.3L268.6 43.3L270.1 43.3L271.6 43.3L273.1 43.3L274.6 43.3L276.1 43.3L277.6 43.3L279.1 43.3L280.6 43.3L282.1 43.3L283.6 43.3L285.1 43.3L286.6 43.3L288.1 43.3L289.6 43.3L291.1 43.3L292.6 43.3L294.1 43.3L295.6 43.3L297.1 43.3L298.6 43.3L300.0 43.3L300.1 43.3L301.6 43.3L303.1 43.3L304.6 43.3L306.1 43.3L307.6 43.3L309.1 43.3L310.6 43.3L312.1 43.3L313.6 43.3L315.1 43.3L316.6 43.3L318.1 43.3L319.6 43.3L321.1 43.3L322.6 43.3L324.1 43.3L325.6 43.3L327.1 43.3L328.6 43.3L330.1 43.3L331.6 43.3L333.1 43.3L334.6 43.3L336.1 43.3L337.6 43.3L339.1 43.3L340.6 43.3L342.1 43.3L343.6 43.3L345.1 43.3L346.6 43.3L348.1 43.3L349.6 43.3L351.1 43.3L352.6 43.3L354.1 43.3L355.6 43.3L357.1 43.4L358.6 43.4L360.1 43.4L361.6 43.4L363.1 43.4L364.6 43.4L366.1 43.4L367.6 43.4L369.1 43.4L370.6 43.4L372.1 43.4L373.6 43.4L375.1 43.4L376.6 43.4L378.1 43.4L379.6 43.4L380.0 43.4L381.1 43.4L382.6 43.4L384.1 43.4L385.7 43.4L387.2 43.4L388.7 43.4L390.2 43.4L391.7 43.5L393.2 43.5L394.7 43.5L396.2 43.5L397.7 43.5L399.2 43.5L400.7 43.5L402.2 43.6L403.7 43.6L405.2 43.6L406.7 43.6L408.2 43.6L409.7 43.6L411.2 43.7L412.7 43.7L414.2 43.7L415.7 43.7L417.2 43.8L418.7 43.8L420.0 43.8L420.2 43.8L421.7 43.8L423.2 43.9L424.7 43.9L426.2 43.9L427.7 44.0L429.2 44.0L430.7 44.0L432.2 44.1L433.7 44.1L435.2 44.2L436.7 44.2L438.2 44.3L439.7 44.3L441.2 44.4L442.7 44.4L444.2 44.5L445.7 44.6L447.2 44.7L448.7 44.7L450.0 44.8L450.2 44.8L451.6 44.9L453.1 45.0L454.6 45.2L456.1 45.3L457.6 45.5L459.1 45.7L460.6 45.9L462.0 46.1L463.5 46.4L465.0 46.6L466.5 46.9L468.0 47.1L469.5 47.4L470.9 47.7L472.4 48.0L473.9 48.2L475.4 48.5L476.9 48.8L478.3 49.1L479.8 49.4L481.3 49.6L482.8 49.9L483.3 50.0L484.2 50.2L485.7 50.4L487.2 50.7L488.7 50.9L490.2 51.2L491.7 51.4L493.2 51.7L494.7 52.0L496.1 52.3L497.6 52.7L499.0 53.0L500.0 53.3L500.4 53.4L501.8 53.9L503.2 54.4L504.6 54.9L506.0 55.6L507.4 56.2L508.8 56.9L510.1 57.6L511.5 58.4L512.8 59.1L514.0 59.9L515.3 60.7L516.5 61.6L516.7 61.7L517.7 62.4L518.9 63.3L520.0 64.3L521.2 65.2L522.3 66.3L523.4 67.3L524.5 68.4L525.5 69.5L526.5 70.7L527.5 71.8L528.5 73.0L529.4 74.2L530.0 75.0L530.3 75.4L531.1 76.6L531.9 77.8L532.7 79.0L533.5 80.3L534.2 81.6L534.9 83.0L535.7 84.3L536.3 85.7L537.0 87.0L537.7 88.4L538.3 89.8L539.0 91.1L539.6 92.5L540.0 93.3L540.3 93.8L540.9 95.2L541.5 96.6L542.1 98.0L542.7 99.3L543.2 100.7L543.8 102.1L544.3 103.5L544.9 104.9L545.4 106.3L545.9 107.8L546.4 109.2L546.7 110.0L546.9 110.6L547.4 112.0L547.8 113.4L548.3 114.9L548.8 116.3L549.2 117.7L549.6 119.2L550.1 120.6L550.5 122.0L550.9 123.5L551.3 124.9L551.6 126.4L551.7 126.7L552.0 127.8L552.3 129.3L552.7 130.8L553.1 132.2L553.4 133.7L553.8 135.1L554.1 136.6L554.4 138.1L554.7 139.6L555.0 141.0L555.3 142.5L555.6 144.0L555.8 145.5L556.1 146.9L556.3 148.3L556.3 148.4L556.5 149.9L556.7 151.4L556.9 152.9L557.1 154.3L557.3 155.8L557.5 157.3L557.6 158.8L557.8 160.3L557.9 161.8L558.1 163.3L558.2 164.8L558.4 166.3L558.5 167.8L558.7 169.3L558.8 170.0L558.8 170.8L559.0 172.3L559.1 173.8L559.3 175.3L559.4 176.7L559.5 178.2L559.7 179.7L559.8 181.2L559.9 182.7L560.1 184.2L560.2 185.7L560.3 187.2L560.4 188.7L560.6 190.2L560.7 191.7L560.8 193.2L561.0 194.7L561.1 196.2L561.2 197.7L561.4 199.2L561.5 200.7L561.7 202.2L561.8 203.3L561.8 203.6L562.0 205.1L562.2 206.6L562.4 208.1L562.5 209.6L562.7 211.1L562.9 212.6L563.1 214.1L563.3 215.6L563.5 217.0L563.7 218.5L563.9 220.0L564.1 221.5L564.3 223.0L564.5 224.5L564.7 226.0L564.9 227.5L565.1 228.9L565.3 230.4L565.5 231.9L565.6 233.4L565.8 234.9L566.0 236.4L566.0 236.7L566.1 237.9L566.3 239.4L566.4 240.9L566.6 242.4L566.7 243.9L566.8 245.4L567.0 246.8L567.1 248.3L567.3 249.8L567.4 251.3L567.5 252.8L567.7 254.3L567.8 255.8L567.9 257.3L568.1 258.8L568.2 260.3L568.3 261.8L568.5 263.3L568.6 264.8L568.7 266.3L568.8 267.8L569.0 269.3L569.1 270.8L569.2 272.3L569.3 273.8L569.4 275.3L569.6 276.7L569.7 278.2L569.8 279.7L569.9 281.2L570.0 282.7L570.1 284.2L570.2 285.7L570.4 287.2L570.5 288.7L570.6 290.2L570.7 291.7L570.8 293.2L570.9 294.7L571.0 296.2L571.1 297.7L571.2 299.2L571.3 300.7L571.4 302.2L571.5 303.7L571.6 305.2L571.7 306.7L571.8 308.2L571.9 309.7L572.0 311.2L572.1 312.7L572.2 314.2L572.3 315.7L572.4 317.2L572.5 318.7L572.6 320.0L572.6 320.2L572.7 321.7L572.8 323.2L572.8 324.7L572.9 326.2L573.0 327.7L573.1 329.1L573.2 330.6L573.3 332.1L573.4 333.6L573.5 335.1L573.6 336.6L573.7 338.1L573.8 339.6L573.8 341.1L573.9 342.6L574.0 344.1L574.1 345.6L574.2 347.1L574.3 348.6L574.4 350.1L574.5 351.6L574.6 353.1L574.6 354.6L574.7 356.1L574.8 357.6L574.9 359.1L575.0 360.6L575.1 362.1L575.1 363.6L575.2 365.1L575.3 366.6L575.4 368.1L575.5 369.6L575.5 371.1L575.6 372.6L575.7 374.1L575.8 375.6L575.9 377.1L575.9 378.6L576.0 380.1L576.1 381.6L576.1 383.1L576.2 384.6L576.3 386.1L576.4 387.6L576.4 389.1L576.5 390.6L576.5 392.1L576.6 393.6L576.7 395.1L576.7 396.6L576.8 398.1L576.9 399.6L576.9 401.1L577.0 402.6L577.0 404.1L577.1 405.6L577.1 407.1L577.2 408.6L577.2 410.1L577.3 411.6L577.3 413.1L577.4 414.6L577.4 416.1L577.4 417.6L577.5 419.1L577.5 420.0L577.5 420.6L577.6 422.1L577.6 423.6L577.6 425.1L577.7 426.6L577.7 428.1L577.7 429.6L577.8 431.1L577.8 432.6L577.8 434.1L577.9 435.6L577.9 437.1L577.9 438.6L578.0 440.1L578.0 441.6L578.0 443.1L578.1 444.6L578.1 446.1L578.1 447.6L578.1 449.1L578.2 450.6L578.2 452.1L578.2 453.6L578.3 455.1L578.3 456.6L578.3 458.1L578.4 459.6L578.4 461.1L578.4 462.6L578.4 464.1L578.5 465.6L578.5 467.1L578.5 468.6L578.5 470.1L578.6 471.6L578.6 473.1L578.6 474.6L578.6 476.1L578.7 477.6L578.7 479.1L578.7 480.6L578.7 482.1L578.8 483.6L578.8 485.1L578.8 486.6L578.8 488.1L578.9 489.6L578.9 491.1L578.9 492.6L578.9 494.1L579.0 495.6L579.0 497.1L579.0 498.6L579.0 500.1L579.0 501.6L579.1 503.1L579.1 504.6L579.1 506.1L579.1 507.6L579.2 509.1L579.2 510.6L579.2 512.1L579.2 513.6L579.2 515.1L579.3 516.6L579.3 518.1L579.3 519.6L579.3 521.1L579.3 522.6L579.4 524.1L579.4 525.6L579.4 527.1L579.4 528.6L579.4 530.1L579.5 531.6L579.5 533.1L579.5 534.6L579.5 536.1L579.5 537.6L579.5 539.1L579.6 540.6L579.6 542.1L579.6 543.6L579.6 545.1L579.6 546.6L579.7 548.1L579.7 549.6L579.7 551.1L579.7 552.6L579.7 554.1L579.7 555.6L579.8 557.1L579.8 558.6L579.8 560.1L579.8 561.6L579.8 563.1L579.9 564.6L579.9 566.1L579.9 567.6L579.9 569.1L579.9 570.6L579.9 572.1L580.0 573.6L580.0 575.1L580.0 576.6L580.0 578.1L580.0 579.6L580.0 581.1L580.1 582.6L580.1 584.1L580.1 585.6L580.1 587.1L580.1 588.6L580.1 590.1L580.2 591.6L580.2 593.1L580.2 594.6L580.2 596.1L580.2 597.6L580.2 599.1L580.3 600.6L580.3 602.1L580.3 603.6L580.3 605.1L580.3 606.6L580.4 608.1L580.4 609.6L580.4 611.1L580.4 612.6L580.4 614.1L580.4 615.6L580.5 617.1L580.5 618.6L580.5 620.0L580.5 620.1L580.5 621.6L580.5 623.1L580.6 624.6L580.6 626.1L580.6 627.6L580.6 629.1L580.6 630.6L580.6 632.1L580.7 633.6L580.7 635.1L580.7 636.6L580.7 638.1L580.7 639.6L580.8 641.1L580.8 642.6L580.8 644.1L580.8 645.6L580.8 647.1L580.9 648.6L580.9 650.1L580.9 651.6L580.9 653.1L580.9 654.6L580.9 656.1L581.0 657.6L581.0 659.1L581.0 660.6L581.0 662.1L581.0 663.6L581.1 665.1L581.1 666.6L581.1 668.1L581.1 669.6L581.1 671.1L581.1 672.6L581.2 674.1L581.2 675.6L581.2 677.1L581.2 678.6L581.2 680.1L581.2 681.6L581.3 683.1L581.3 684.6L581.3 686.1L581.3 687.6L581.3 689.1L581.4 690.6L581.4 692.1L581.4 693.6L581.4 695.1L581.4 696.6L581.4 698.1L581.5 699.6L581.5 701.1L581.5 702.6L581.5 704.1L581.5 705.6L581.5 707.1L581.6 708.6L581.6 710.1L581.6 711.6L581.6 713.1L581.6 714.6L581.6 716.1L581.6 717.6L581.7 719.1L581.7 720.6L581.7 722.1L581.7 723.6L581.7 725.1L581.7 726.6L581.8 728.1L581.8 729.6L581.8 731.1L581.8 732.6L581.8 734.1L581.8 735.6L581.8 737.1L581.9 738.6L581.9 740.1L581.9 741.6L581.9 743.1L581.9 744.6L581.9 746.1L581.9 747.6L582.0 749.1L582.0 750.6L582.0 752.1L582.0 753.6L582.0 755.1L582.0 756.6L582.0 758.1L582.0 759.6L582.1 761.1L582.1 762.6L582.1 764.1L582.1 765.6L582.1 767.1L582.1 768.7L582.1 770.2L582.1 771.7L582.2 773.2L582.2 774.7L582.2 776.2L582.2 777.7L582.2 779.2L582.2 780.0L582.2 780.7L582.2 782.2L582.2 783.7L582.2 785.2L582.2 786.7L582.3 788.2L582.3 789.7L582.3 791.2L582.3 792.7L582.3 794.2L582.3 795.7L582.3 797.2L582.3 798.7L582.3 800.2L582.3 801.7L582.4 803.2L582.4 804.7L582.4 806.2L582.4 807.7L582.4 809.2L582.4 810.7L582.4 812.2L582.4 813.7L582.4 815.2L582.4 816.7L582.4 818.2L582.4 819.7L582.5 821.2L582.5 822.7L582.5 824.2L582.5 825.7L582.5 827.2L582.5 828.7L582.5 830.2L582.5 831.7L582.5 833.2L582.5 834.7L582.5 836.2L582.5 837.7L582.6 839.2L582.6 840.7L582.6 842.2L582.6 843.7L582.6 845.2L582.6 846.7L582.6 848.2L582.6 849.7L582.6 851.2L582.6 852.7L582.6 854.2L582.6 855.7L582.6 857.2L582.6 858.7L582.7 860.2L582.7 861.7L582.7 863.2L582.7 864.7L582.7 866.2L582.7 867.7L582.7 869.2L582.7 870.7L582.7 872.2L582.7 873.7L582.7 875.2L582.7 876.7L582.7 878.2L582.7 879.7L582.8 881.2L582.8 882.7L582.8 884.2L582.8 885.7L582.8 887.2L582.8 888.7L582.8 890.2L582.8 891.7L582.8 893.2L582.8 894.7L582.8 896.2L582.8 897.7L582.8 899.2L582.8 900.7L582.8 902.2L582.9 903.7L582.9 905.2L582.9 906.7L582.9 908.2L582.9 909.7L582.9 911.2L582.9 912.7L582.9 914.2L582.9 915.7L582.9 917.2L582.9 918.7L582.9 920.2L582.9 921.7L582.9 923.2L582.9 924.7L583.0 926.2L583.0 927.7L583.0 929.2L583.0 930.7L583.0 932.2L583.0 933.7L583.0 935.2L583.0 936.7L583.0 938.2L583.0 939.7L583.0 941.2L583.0 942.7L583.0 944.2L583.0 945.7L583.0 947.2L583.1 948.7L583.1 950.2L583.1 951.7L583.1 953.2L583.1 954.7L583.1 956.2L583.1 957.7L583.1 959.2L583.1 960.7L583.1 962.2L583.1 963.7L583.1 965.2L583.1 966.7L583.1 968.2L583.2 969.7L583.2 971.2L583.2 972.7L583.2 974.2L583.2 975.7L583.2 977.2L583.2 978.7L583.2 980.0L583.2 980.2L583.2 981.7L583.2 983.3L583.2 984.9L583.2 986.5L583.2 988.2L583.2 989.9L583.3 991.6L583.3 993.3L583.3 995.1L583.3 996.9L583.3 998.7L583.3 1000.5L583.3 1002.4L583.3 1004.2L583.3 1006.1L583.3 1008.1L583.3 1010.0L583.3 1011.9L583.3 1013.9L583.4 1015.8L583.4 1017.8L583.4 1019.8L583.4 1021.8L583.4 1023.7L583.4 1025.7L583.4 1027.7L583.4 1029.7L583.4 1031.7L583.4 1033.7L583.4 1035.7L583.4 1037.7L583.4 1039.7L583.5 1041.7L583.5 1043.7L583.5 1045.6L583.5 1047.6L583.5 1049.5L583.5 1051.5L583.5 1053.4L583.5 1055.3L583.5 1057.2L583.5 1059.0L583.5 1060.9L583.5 1062.7L583.5 1064.5L583.6 1066.3L583.6 1068.0L583.6 1069.7L583.6 1071.4L583.6 1073.1L583.6 1074.7L583.6 1076.3L583.6 1077.9L583.6 1079.5L583.6 1081.0L583.6 1082.4L583.6 1083.8L583.6 1085.2L583.7 1086.6L583.7 1087.9L583.7 1089.1L583.7 1090.3L583.7 1091.5L583.7 1092.6L583.7 1093.7L583.7 1094.7L583.7 1095.7L583.7 1096.6L583.7 1097.4L583.7 1098.2L583.7 1099.0L583.7 1099.7L583.7 1100.3L583.8 1100.9L583.8 1101.4L583.8 1101.8L583.8 1102.2L583.8 1102.5L583.8 1102.7L583.8 1102.9L583.8 1103.0L583.8 1103.0L583.8 1103.0L583.8 1103.0L583.8 1102.8L583.8 1102.6L583.8 1102.4L583.8 1102.1L583.8 1101.7L583.8 1101.2L583.8 1100.7L583.9 1100.1L583.9 1099.5L583.9 1098.7L583.9 1098.0L583.9 1097.2L583.9 1096.3L583.9 1095.4L583.9 1094.4L583.9 1093.3L583.9 1092.3L583.9 1091.1L583.9 1089.9L583.9 1088.7L583.9 1087.4L583.9 1086.1L583.9 1084.8L583.9 1083.4L583.9 1081.9L583.9 1080.5L583.9 1078.9L584.0 1077.4L584.0 1075.8L584.0 1074.2L584.0 1072.6L584.0 1070.9L584.0 1069.2L584.0 1067.4L584.0 1065.7L584.0 1063.9L584.0 1062.1L584.0 1060.3L584.0 1058.4L584.0 1056.5L584.0 1054.7L584.0 1052.7L584.0 1050.8L584.0 1048.9L584.0 1046.9L584.0 1045.0L584.0 1043.0L584.0 1041.0L584.1 1039.1L584.1 1037.1L584.1 1035.1L584.1 1033.1L584.1 1031.1L584.1 1029.1L584.1 1027.1L584.1 1025.1L584.1 1023.1L584.1 1021.1L584.1 1019.1L584.1 1017.1L584.1 1015.2L584.1 1013.2L584.1 1011.3L584.1 1009.3L584.1 1007.4L584.1 1005.5L584.1 1003.6L584.1 1001.8L584.1 999.9L584.1 998.1L584.2 996.3L584.2 994.5L584.2 992.7L584.2 991.0L584.2 989.3L584.2 987.6L584.2 986.0L584.2 984.4L584.2 982.8L584.2 981.2L584.2 980.0L584.2 979.7L584.2 978.2L584.2 976.7L584.2 975.2L584.2 973.7L584.2 972.2L584.2 970.7L584.2 969.2L584.2 967.7L584.2 966.2L584.2 964.7L584.3 963.2L584.3 961.7L584.3 960.2L584.3 958.7L584.3 957.2L584.3 955.7L584.3 954.2L584.3 952.7L584.3 951.2L584.3 949.7L584.3 948.2L584.3 946.7L584.3 945.2L584.3 943.7L584.3 942.2L584.3 940.7L584.3 939.2L584.3 937.7L584.3 936.2L584.3 934.7L584.3 933.2L584.3 931.7L584.3 930.2L584.4 928.7L584.4 927.2L584.4 925.7L584.4 924.2L584.4 922.7L584.4 921.2L584.4 919.7L584.4 918.2L584.4 916.7L584.4 915.2L584.4 913.7L584.4 912.2L584.4 910.7L584.4 909.2L584.4 907.7L584.4 906.2L584.4 904.7L584.4 903.2L584.4 901.7L584.4 900.2L584.4 898.7L584.4 897.2L584.4 895.7L584.4 894.2L584.5 892.7L584.5 891.2L584.5 889.7L584.5 888.2L584.5 886.7L584.5 885.2L584.5 883.7L584.5 882.2L584.5 880.7L584.5 879.2L584.5 877.7L584.5 876.2L584.5 874.7L584.5 873.2L584.5 871.7L584.5 870.2L584.5 868.7L584.5 867.2L584.5 865.7L584.5 864.2L584.5 862.7L584.5 861.2L584.6 859.7L584.6 858.2L584.6 856.7L584.6 855.2L584.6 853.7L584.6 852.2L584.6 850.7L584.6 849.2L584.6 847.7L584.6 846.2L584.6 844.7L584.6 843.2L584.6 841.7L584.6 840.2L584.6 838.7L584.6 837.2L584.6 835.7L584.6 834.2L584.6 832.7L584.7 831.2L584.7 829.7L584.7 828.2L584.7 826.7L584.7 825.2L584.7 823.7L584.7 822.2L584.7 820.7L584.7 819.2L584.7 817.7L584.7 816.2L584.7 814.7L584.7 813.2L584.7 811.7L584.7 810.2L584.7 808.7L584.8 807.2L584.8 805.7L584.8 804.2L584.8 802.7L584.8 801.2L584.8 799.7L584.8 798.2L584.8 796.7L584.8 795.2L584.8 793.7L584.8 792.2L584.8 790.7L584.8 789.2L584.8 787.7L584.9 786.2L584.9 784.7L584.9 783.2L584.9 781.7L584.9 780.2L584.9 778.7L584.9 777.8L584.9 777.2L584.9 775.7L584.9 774.2L584.9 772.7L584.9 771.1L584.9 769.6L585.0 768.1L585.0 766.6L585.0 765.1L585.0 763.6L585.0 762.1L585.0 760.6L585.0 759.1L585.0 757.6L585.0 756.1L585.1 754.6L585.1 753.1L585.1 751.6L585.1 750.1L585.1 748.6L585.1 747.1L585.1 745.6L585.1 744.1L585.2 742.6L585.2 741.1L585.2 739.6L585.2 738.1L585.2 736.6L585.2 735.1L585.2 733.6L585.3 732.1L585.3 730.6L585.3 729.1L585.3 727.6L585.3 726.1L585.3 724.6L585.4 723.1L585.4 721.6L585.4 720.1L585.4 718.6L585.4 717.1L585.4 715.6L585.5 714.1L585.5 712.6L585.5 711.1L585.5 709.6L585.5 708.1L585.5 706.6L585.6 705.1L585.6 703.6L585.6 702.1L585.6 700.6L585.6 699.1L585.7 697.6L585.7 696.1L585.7 694.6L585.7 693.1L585.7 691.6L585.8 690.1L585.8 688.6L585.8 687.1L585.8 685.6L585.8 684.1L585.9 682.6L585.9 681.1L585.9 679.6L585.9 678.1L585.9 676.6L586.0 675.1L586.0 673.6L586.0 672.1L586.0 670.6L586.1 669.1L586.1 667.6L586.1 666.1L586.1 664.6L586.2 663.1L586.2 661.6L586.2 660.1L586.2 658.6L586.2 657.1L586.3 655.6L586.3 654.1L586.3 652.6L586.3 651.1L586.4 649.6L586.4 648.1L586.4 646.6L586.4 645.1L586.5 643.6L586.5 642.1L586.5 640.6L586.6 639.1L586.6 637.6L586.6 636.1L586.6 634.6L586.7 633.1L586.7 631.6L586.7 630.1L586.7 628.6L586.8 627.1L586.8 625.6L586.8 624.1L586.9 622.6L586.9 621.1L586.9 620.0L586.9 619.6L586.9 618.1L587.0 616.6L587.0 615.1L587.0 613.6L587.1 612.1L587.1 610.6L587.1 609.1L587.2 607.6L587.2 606.1L587.3 604.6L587.3 603.1L587.3 601.6L587.4 600.1L587.4 598.6L587.5 597.1L587.5 595.6L587.6 594.1L587.6 592.6L587.7 591.1L587.7 589.6L587.8 588.1L587.8 586.6L587.9 585.1L587.9 583.6L588.0 582.1L588.1 580.6L588.1 579.1L588.2 577.6L588.2 576.1L588.3 574.6L588.3 573.1L588.4 571.6L588.4 570.1L588.5 568.6L588.6 567.1L588.6 565.6L588.7 564.1L588.7 562.6L588.8 561.1L588.9 559.6L588.9 558.1L589.0 556.6L589.0 555.1L589.1 553.6L589.2 552.1L589.2 550.6L589.3 549.1L589.3 547.6L589.4 546.1L589.4 544.6L589.5 543.1L589.6 541.6L589.6 540.1L589.7 538.6L589.7 537.1L589.8 535.6L589.8 534.1L589.9 532.6L590.0 531.1L590.0 529.6L590.1 528.1L590.1 526.6L590.2 525.1L590.2 523.6L590.3 522.1L590.3 520.6L590.4 519.1L590.4 517.6L590.4 516.1L590.5 514.6L590.5 513.1L590.6 511.6L590.6 510.1L590.7 508.6L590.7 507.1L590.7 506.7L590.7 505.6L590.8 504.1L590.8 502.6L590.8 501.1L590.9 499.6L590.9 498.1L590.9 496.6L591.0 495.1L591.0 493.6L591.0 492.1L591.1 490.6L591.1 489.1L591.1 487.6L591.1 486.1L591.2 484.6L591.2 483.1L591.2 481.6L591.3 480.1L591.3 478.6L591.3 477.1L591.3 475.6L591.4 474.1L591.4 472.6L591.4 471.1L591.4 469.6L591.5 468.1L591.5 466.6L591.5 465.1L591.5 463.6L591.6 462.1L591.6 460.6L591.6 459.1L591.6 457.6L591.7 456.1L591.7 454.6L591.7 453.1L591.7 451.6L591.7 450.1L591.8 448.6L591.8 447.1L591.8 445.6L591.8 444.1L591.9 442.6L591.9 441.1L591.9 439.6L591.9 438.1L592.0 436.6L592.0 435.1L592.0 433.6L592.0 432.1L592.1 430.6L592.1 429.1L592.1 427.6L592.2 426.1L592.2 424.6L592.2 423.1L592.2 421.6L592.3 420.1L592.3 418.6L592.3 417.1L592.4 415.6L592.4 414.1L592.4 412.6L592.5 411.1L592.5 409.6L592.5 408.1L592.6 406.6L592.6 405.1L592.6 403.6L592.7 402.1L592.7 400.6L592.7 399.1L592.8 397.6L592.8 396.1L592.9 394.6L592.9 393.1L593.0 391.6L593.0 390.1L593.0 390.0L593.0 388.6L593.1 387.1L593.1 385.6L593.2 384.1L593.3 382.6L593.3 381.1L593.4 379.6L593.4 378.1L593.5 376.6L593.6 375.1L593.6 373.6L593.7 372.1L593.8 370.6L593.9 369.1L594.0 367.6L594.0 366.2L594.1 364.7L594.2 363.2L594.3 361.7L594.4 360.2L594.5 358.7L594.5 357.2L594.6 355.7L594.7 354.2L594.8 352.7L594.9 351.2L595.0 349.7L595.1 348.2L595.2 346.7L595.3 345.2L595.4 343.7L595.5 342.2L595.5 340.7L595.6 339.2L595.7 337.7L595.8 336.2L595.9 334.7L596.0 333.2L596.1 331.7L596.2 330.2L596.3 328.7L596.4 327.2L596.5 325.7L596.5 324.2L596.6 322.7L596.7 321.2L596.8 319.7L596.9 318.2L596.9 317.8L597.0 316.7L597.0 315.2L597.1 313.7L597.2 312.2L597.3 310.7L597.3 309.2L597.4 307.7L597.5 306.2L597.5 304.7L597.6 303.2L597.7 301.7L597.7 300.2L597.8 298.7L597.8 297.2L597.9 295.7L598.0 294.2L598.0 292.7L598.1 291.2L598.2 289.7L598.2 288.2L598.3 286.7L598.3 285.2L598.4 283.7L598.5 282.2L598.5 280.7L598.6 279.2L598.7 277.7L598.7 276.2L598.8 274.7L598.9 273.2L598.9 271.7L599.0 270.2L599.1 268.7L599.2 267.2L599.2 265.7L599.3 264.2L599.4 262.7L599.5 261.2L599.6 259.7L599.7 258.2L599.8 256.7L599.9 255.2L600.0 253.7L600.1 252.2L600.2 250.7L600.3 249.2L600.4 247.7L600.5 246.2L600.7 244.8L600.8 243.3L600.9 241.8L601.1 240.3L601.1 240.0L601.2 238.8L601.4 237.3L601.7 235.9L601.9 234.4L602.2 232.9L602.6 231.5L602.9 230.0L603.2 228.5L603.6 227.0L603.9 225.6L604.2 224.1L604.5 222.6L604.8 221.2L605.0 220.0L605.1 219.7L605.3 218.2L605.5 216.7L605.7 215.2L606.0 213.7L606.2 212.3L606.4 210.8L606.6 209.3L606.8 207.8L607.0 206.3L607.2 204.8L607.4 203.3L607.5 201.8L607.7 200.4L607.9 198.9L608.1 197.4L608.2 195.9L608.3 195.0L608.4 194.4L608.5 192.9L608.6 191.4L608.8 189.9L608.9 188.4L609.0 186.9L609.1 185.4L609.2 183.9L609.3 182.4L609.4 180.9L609.5 179.4L609.6 177.9L609.8 176.4L609.9 174.9L610.0 173.4L610.1 171.9L610.3 170.5L610.3 170.0L610.4 169.0L610.5 167.5L610.7 166.0L610.9 164.5L611.0 163.0L611.2 161.5L611.4 160.0L611.6 158.5L611.8 157.0L611.8 156.7L612.0 155.5L612.2 154.1L612.4 152.6L612.6 151.1L612.8 149.6L613.1 148.1L613.3 146.6L613.6 145.1L613.8 143.7L614.1 142.2L614.4 140.7L614.7 139.2L615.0 137.8L615.3 136.3L615.6 134.8L615.9 133.4L616.2 131.9L616.6 130.5L616.7 130.0L616.9 129.0L617.3 127.6L617.7 126.1L618.1 124.7L618.6 123.2L619.0 121.8L619.5 120.3L620.0 118.9L620.5 117.5L621.0 116.1L621.5 114.7L622.1 113.3L622.6 111.9L623.0 111.0L623.2 110.5L623.8 109.2L624.4 107.8L625.1 106.4L625.8 105.1L626.5 103.7L627.2 102.4L628.0 101.1L628.8 99.8L629.6 98.6L630.0 98.0L630.4 97.4L631.3 96.2L632.3 92.0L633.3 90.4L634.3 88.9L635.3 87.5L636.3 86.1L637.3 84.9L638.3 83.7L639.3 82.5L640.3 81.5L641.3 80.4L642.3 79.5L643.3 78.5L644.3 77.6L645.3 76.8L646.3 76.0L647.3 75.2L647.5 75.0L648.3 74.4L649.3 73.6L650.3 72.8L651.3 72.1L652.3 71.4L653.3 70.7L654.3 70.0L655.3 69.3L656.3 68.6L657.3 68.0L658.3 67.4L659.3 66.8L660.3 66.2L661.3 65.6L662.3 65.1L662.7 64.9L663.3 64.6L664.3 64.1L665.3 63.6L666.3 63.1L667.3 62.7L668.3 62.3L669.3 61.8L670.3 61.4L671.3 61.1L672.3 60.7L673.3 60.3L674.3 60.0L675.3 59.6L676.3 59.3L677.3 59.0L677.9 58.8L678.3 58.6L679.3 58.3L680.3 58.0L681.3 57.7L682.3 57.4L683.3 57.1L684.3 56.9L685.3 56.6L686.3 56.3L687.3 56.0L688.3 55.8L689.3 55.5L690.3 55.3L691.3 55.0L692.3 54.8L693.1 54.6L693.3 54.6L694.3 54.3L695.3 54.1L696.3 53.9L697.3 53.7L698.3 53.5L699.3 53.3L700.3 53.1L701.3 52.9L702.3 52.7L703.3 52.5L704.3 52.3L705.3 52.2L706.3 52.0L707.3 51.8L708.2 51.7L708.3 51.7L709.3 51.6L710.3 51.4L711.3 51.3L712.3 51.2L713.3 51.0L714.3 50.9L715.3 50.8L716.3 50.7L717.3 50.6L718.3 50.5L719.3 50.4L720.3 50.4L721.3 50.3L722.3 50.2L723.3 50.1L723.4 50.1L724.3 50.1L725.3 50.0L726.3 50.0L727.3 49.9L728.3 49.9L729.3 49.8L730.3 49.8L731.3 49.8L732.3 49.7L733.3 49.7L734.3 49.7L735.3 49.7L736.3 49.6L737.3 49.6L738.3 49.6L738.6 49.6L739.3 49.6L740.3 49.6L741.3 49.6L742.3 49.6L743.3 49.6L744.3 49.6L745.3 49.6L746.3 49.7L747.3 49.7L748.3 49.7L749.3 49.7L750.3 49.7L751.3 49.8L752.3 49.8L753.3 49.8L753.8 49.8L754.3 49.9L755.3 49.9L756.3 49.9L757.3 50.0L758.3 50.0L759.3 50.0L760.3 50.1L761.3 50.1L762.3 50.2L763.3 50.2L764.3 50.3L765.3 50.3L766.3 50.4L767.3 50.4L768.3 50.5L769.0 50.5L769.3 50.5L770.3 50.6L771.3 50.7L772.3 50.7L773.3 50.8L774.3 50.9L775.3 50.9L776.3 51.0L777.3 51.1L778.3 51.2L779.3 51.3L780.3 51.3L781.3 51.4L782.3 51.5L783.3 51.6L784.2 51.7L784.3 51.7L785.3 51.8L786.3 51.9L787.3 52.0L788.3 52.1L789.3 52.2L790.3 52.3L791.3 52.4L792.3 52.5L793.3 52.6L794.3 52.7L795.3 52.8L796.3 53.0L797.3 53.1L798.3 53.2L799.3 53.4L799.4 53.4L800.3 53.5L801.3 53.6L802.3 53.8L803.3 53.9L804.3 54.1L805.3 54.3L806.3 54.4L807.3 54.6L808.3 54.8L809.3 55.0L810.3 55.2L811.3 55.4L812.3 55.6L813.3 55.8L814.3 56.0L814.6 56.1L815.3 56.2L816.3 56.4L817.3 56.7L818.3 56.9L819.3 57.2L820.3 57.4L821.3 57.7L822.3 58.0L823.3 58.3L824.3 58.6L825.3 58.9L826.3 59.2L827.3 59.6L828.3 59.9L829.3 60.3L829.8 60.4L830.3 60.6L831.3 61.0L832.3 61.4L833.3 61.8L834.3 62.2L835.3 62.7L836.3 63.1L837.3 63.6L838.3 64.1L839.3 64.5L840.3 65.1L841.3 65.6L842.3 66.1L843.3 66.7L844.3 67.2L845.0 67.6L845.3 67.8L846.3 68.4L847.3 69.0L848.3 69.7L849.3 70.3L850.3 71.0L851.3 71.6L852.3 72.3L853.3 73.1L854.3 73.8L855.3 74.5L856.3 75.3L857.3 76.1L858.3 76.9L859.3 77.8L860.2 78.5L860.3 78.6L861.3 79.5L862.3 80.4L863.3 81.3L864.3 82.2L865.3 83.2L866.3 84.1L867.3 85.1L868.3 86.1L869.3 87.1L870.3 88.2L871.3 89.2L872.3 90.3L873.3 91.4L874.3 92.5L875.3 93.7L875.4 93.8L876.3 94.8L877.3 96.0L878.3 97.2L879.3 98.4L880.3 99.7L881.3 101.1L882.3 102.4L883.3 103.9L884.3 105.4L885.3 107.0L886.3 108.7L887.3 110.5L888.3 112.4L889.3 114.4L890.3 116.5L890.5 117.1L891.3 118.7L892.3 121.1L893.3 123.5L894.3 126.1L895.3 128.8L896.3 131.7L897.3 134.6L898.3 137.7L899.3 140.9L900.3 144.2L901.3 147.6L902.3 151.1L903.3 154.8L904.3 158.5L905.3 162.4L905.7 164.2L906.3 166.4L907.3 170.5L908.3 174.7L909.3 179.0L910.3 183.5L911.3 188.1L912.3 192.8L913.3 197.6L914.3 202.6L915.3 207.6L916.3 212.8L917.3 218.2L918.3 223.7L919.3 229.3L920.3 235.0L920.9 238.8L921.3 240.9L922.3 246.9L923.3 252.9L924.3 259.0L925.3 265.1L926.3 271.0L927.3 276.9L928.3 282.5L929.3 287.9L930.3 293.0L931.3 297.7L932.3 302.1L933.3 306.0L934.3 309.4L935.3 312.2L936.1 314.2L936.3 314.5L937.3 316.1L938.3 317.1L939.3 317.5L940.3 317.4L941.3 316.7L942.3 315.6L943.3 314.0L944.3 312.0L945.3 309.6L946.3 306.8L947.3 303.7L948.3 300.2L949.3 296.6L950.3 292.6L951.3 288.5L951.3 288.3L952.3 284.1L953.3 279.7L954.3 275.0L955.3 270.3L956.3 265.4L957.3 260.5L958.3 255.5L959.3 250.4L960.3 245.4L961.3 240.3L962.3 235.3L963.3 230.3L964.3 225.3L965.3 220.4L966.3 215.6L966.5 214.6L967.3 211.0L968.3 206.4L969.3 202.0L970.3 197.7L971.3 193.5L972.3 189.4L973.3 185.4L974.3 181.6L975.3 177.9L976.3 174.3L977.3 170.8L978.3 167.5L979.3 164.2L980.3 161.1L981.3 158.1L981.7 156.9L982.3 155.3L983.3 152.5L984.3 149.9L985.3 147.3L986.3 144.9L987.3 142.5L988.3 140.3L989.3 138.1L990.3 136.1L991.3 134.1L992.3 132.2L993.3 130.3L994.3 128.5L995.3 126.8L996.3 125.1L996.9 124.1L997.3 123.5L998.3 121.9L999.3 120.3L1000.3 118.8L1001.3 117.4L1002.3 115.9L1003.3 114.6L1004.3 113.2L1005.3 111.9L1006.3 110.6L1007.3 109.3L1008.3 108.1L1009.3 106.8L1010.3 105.6L1011.3 104.4L1012.1 103.5L1012.3 103.3L1013.3 102.1L1014.3 101.0L1015.3 99.9L1016.3 98.7L1017.3 97.7L1018.3 96.6L1019.3 95.5L1020.3 94.5L1021.3 93.5L1022.3 92.5L1023.3 91.5L1024.3 90.5L1025.3 89.6L1026.3 88.7L1027.3 87.8L1027.3 87.8L1028.3 86.9L1029.3 86.0L1030.3 85.2L1031.3 84.3L1032.3 83.5L1033.3 82.8L1034.3 82.0L1035.3 81.2L1036.3 80.5L1037.3 79.8L1038.3 79.1L1039.3 78.5L1040.3 77.8L1041.3 77.2L1042.3 76.5L1042.5 76.4L1043.3 75.9L1044.3 75.3L1045.3 74.8L1046.3 74.2L1047.3 73.7L1048.3 73.2L1049.3 72.7L1050.3 72.2L1051.3 71.7L1052.3 71.2L1053.3 70.8L1054.3 70.4L1055.3 69.9L1056.3 69.5L1057.3 69.1L1057.7 69.0L1058.3 68.8L1059.3 68.4L1060.3 68.1L1061.3 67.7L1062.3 67.4L1063.3 67.1L1064.3 66.8L1065.3 66.5L1066.3 66.3L1067.3 66.0L1068.3 65.8L1069.3 65.5L1070.3 65.3L1071.3 65.1L1072.3 64.9L1072.9 64.8L1073.3 64.7L1074.3 64.5L1075.3 64.3L1076.3 64.2L1077.3 64.0L1078.3 63.9L1079.3 63.8L1080.3 63.6L1081.3 63.5L1082.3 63.4L1083.3 63.3L1084.3 63.2L1085.3 63.1L1086.3 63.0L1087.3 62.9L1088.0 62.9L1088.3 62.9L1089.3 62.8L1090.3 62.7L1091.3 62.7L1092.3 62.6L1093.3 62.6L1094.3 62.5L1095.3 62.5L1096.3 62.4L1097.3 62.4L1098.3 62.4L1099.3 62.4L1100.3 62.3L1101.3 62.3L1102.3 62.3L1103.2 62.3L1103.3 62.3L1104.3 62.3L1105.3 62.3L1106.3 62.3L1107.3 62.3L1108.3 62.2L1109.3 62.2L1110.3 62.3L1111.3 62.3L1112.3 62.3L1113.3 62.3L1114.3 62.3L1115.3 62.3L1116.3 62.3L1117.3 62.3L1118.3 62.4L1118.4 62.4L1119.3 62.4L1120.3 62.4L1121.3 62.5L1122.3 62.5L1123.3 62.5L1124.3 62.6L1125.3 62.6L1126.3 62.7L1127.3 62.7L1128.3 62.8L1129.3 62.9L1130.3 62.9L1131.3 63.0L1132.3 63.1L1133.3 63.1L1133.6 63.2L1134.3 63.2L1135.3 63.3L1136.3 63.4L1137.3 63.5L1138.3 63.6L1139.3 63.8L1140.3 63.9L1141.3 64.0L1142.3 64.1L1143.3 64.3L1144.3 64.4L1145.3 64.6L1146.3 64.7L1147.3 64.9L1148.3 65.1L1148.8 65.2L1149.3 65.3L1150.3 65.4L1151.3 65.6L1152.3 65.8L1153.3 66.0L1154.3 66.3L1155.3 66.5L1156.3 66.7L1157.3 66.9L1158.3 67.2L1159.3 67.4L1160.3 67.6L1161.3 67.9L1162.3 68.2L1163.3 68.4L1164.0 68.6L1164.3 68.7L1165.3 68.9L1166.3 69.2L1167.3 69.5L1168.3 69.8L1169.3 70.1L1170.3 70.3L1171.3 70.6L1172.3 70.9L1173.3 71.3L1174.3 71.6L1175.3 71.9L1176.3 72.2L1177.3 72.6L1178.3 72.9L1179.2 73.2L1179.3 73.3L1180.3 73.6L1181.3 74.0L1182.3 74.4L1183.3 74.7L1184.3 75.1L1185.3 75.5L1186.3 76.0L1187.3 76.4L1188.3 76.8L1189.3 77.3L1190.3 77.7L1191.3 78.2L1192.3 78.7L1193.3 79.2L1194.3 79.7L1194.4 79.7L1195.3 80.2L1196.3 80.7L1197.3 81.3L1198.3 81.8L1199.3 82.4L1200.3 83.0L1201.3 83.6L1202.3 84.3L1203.3 84.9L1204.3 85.6L1205.3 86.3L1206.3 87.0L1207.3 87.8L1208.3 88.5L1209.3 89.3L1209.6 89.6L1210.3 90.2L1211.3 91.0L1212.3 91.9L1213.3 92.8L1214.3 93.7L1215.3 94.7L1216.3 95.7L1217.3 96.8L1218.3 97.9L1219.3 99.0L1220.3 100.1L1221.3 101.3L1222.3 102.6L1223.3 103.8L1224.3 105.2L1224.8 105.8L1225.3 106.5L1226.3 108.0L1227.3 109.4L1228.3 110.9L1229.3 112.5L1230.3 114.1L1231.3 115.7L1232.3 117.4L1233.3 119.1L1234.3 120.8L1235.3 122.6L1236.3 124.4L1237.3 126.2L1238.3 128.1L1239.3 130.0L1240.0 131.3L1240.3 131.9L1241.3 133.8L1242.3 135.8L1243.3 137.8L1244.3 139.9L1245.3 141.9L1246.3 144.0L1247.3 146.1L1248.3 148.2L1249.3 150.4L1250.3 152.6L1251.3 154.8L1252.3 157.0L1253.3 159.3L1254.3 161.6L1255.2 163.6L1255.3 163.9L1256.3 166.2L1257.3 168.6L1258.3 171.0L1259.3 173.3L1260.3 175.7L1261.3 178.1L1262.3 180.4L1263.3 182.8L1264.3 185.1L1265.3 187.5L1266.3 189.7L1267.3 192.0L1268.3 194.2L1269.3 196.4L1270.3 198.5L1270.3 198.6L1271.3 200.5L1272.3 202.5L1273.3 204.5L1274.3 206.3L1275.3 208.2L1276.3 209.9L1277.3 211.6L1278.3 213.2L1279.3 214.8L1280.3 216.2L1281.3 217.7L1282.3 219.0L1283.3 220.2L1284.3 221.4L1285.3 222.5L1285.5 222.8L1286.3 223.6L1287.3 224.5L1288.3 225.3L1289.3 226.1L1290.3 226.8L1291.3 227.3L1292.3 227.8L1293.3 228.1L1294.3 228.3L1295.3 228.5L1296.3 228.4L1297.3 228.3L1298.3 228.0L1299.3 227.6L1300.3 227.1L1300.7 226.8L1301.3 226.4L1302.3 225.6L1303.3 224.6L1304.3 223.5L1305.3 222.3L1306.3 221.1L1307.3 219.7L1308.3 218.2L1309.3 216.6L1310.3 215.0L1311.3 213.4L1312.3 211.6L1313.3 209.9L1314.3 208.1L1315.3 206.3L1315.9 205.2L1316.3 204.5L1317.3 202.7L1318.3 200.9L1319.3 199.1L1320.3 197.3L1321.3 195.4L1322.3 193.6L1323.3 191.8L1324.3 190.0L1325.3 188.1L1326.3 186.3L1327.3 184.4L1328.3 182.6L1329.3 180.7L1330.3 178.9L1331.1 177.3L1331.3 177.0L1332.3 175.2L1333.3 173.3L1334.3 171.4L1335.3 169.6L1336.3 167.7L1337.3 165.9L1338.3 164.0L1339.3 162.2L1340.3 160.4L1341.3 158.6L1342.3 156.9L1343.3 155.1L1344.3 153.4L1345.3 151.8L1346.3 150.1L1346.3 150.1L1347.3 148.5L1348.3 147.0L1349.3 145.4L1350.3 143.9L1351.3 142.5L1352.3 141.0L1353.3 139.6L1354.3 138.2L1355.3 136.9L1356.3 135.5L1357.3 134.2L1358.3 132.9L1359.3 131.7L1360.3 130.4L1361.3 129.2L1361.5 128.9L1362.3 128.0L1363.3 126.8L1364.3 125.6L1365.3 124.4L1366.3 123.2L1367.3 122.1L1368.3 120.9L1369.3 119.8L1370.3 118.7L1371.3 117.6L1372.3 116.6L1373.3 115.5L1374.3 114.5L1375.3 113.5L1376.3 112.5L1376.7 112.1L1377.3 111.5L1378.3 110.5L1379.3 109.6L1380.3 108.7L1381.3 107.8L1382.3 106.9L1383.3 106.0L1384.3 105.1L1385.3 104.3L1386.3 103.5L1387.3 102.7L1388.3 101.9L1389.3 101.1L1390.3 100.4L1391.3 99.6L1391.9 99.2L1392.3 98.9L1393.3 98.2L1394.3 97.5L1395.3 96.8L1396.3 96.2L1397.3 95.5L1398.3 94.9L1399.3 94.3L1400.3 93.7L1401.3 93.1L1402.3 92.5L1403.3 92.0L1404.3 91.4L1405.3 90.9L1406.3 90.4L1407.1 90.0L1407.3 89.9L1408.3 89.4L1409.3 88.9L1410.3 88.5L1411.3 88.0L1412.3 87.6L1413.3 87.2L1414.3 86.8L1415.3 86.4L1416.3 86.0L1417.3 85.7L1418.3 85.3L1419.3 85.0L1420.3 84.7L1421.3 84.3L1422.3 84.0L1422.3 84.0L1423.3 83.7L1424.3 83.4L1425.3 83.2L1426.3 82.9L1427.3 82.6L1428.3 82.4L1429.3 82.1L1430.3 81.9L1431.3 81.6L1432.3 81.4L1433.3 81.2L1434.3 81.0L1435.3 80.8L1436.3 80.6L1437.3 80.4L1437.5 80.4L1438.3 80.2L1439.3 80.1L1440.3 79.9L1441.3 79.7L1442.3 79.6L1443.3 79.4L1444.3 79.3L1445.3 79.2L1446.3 79.0L1447.3 78.9L1448.3 78.8L1449.3 78.7L1450.3 78.6L1451.3 78.5L1452.3 78.4L1452.7 78.3L1453.3 78.3L1454.3 78.2L1455.3 78.1L1456.3 78.1L1457.3 78.0L1458.3 77.9L1459.3 77.9L1460.3 77.8L1461.3 77.8L1462.3 77.7L1463.3 77.7L1464.3 77.7L1465.3 77.6L1466.3 77.6L1467.3 77.6L1467.8 77.6L1468.3 77.6L1469.3 77.6L1470.3 77.6L1471.3 77.6L1472.3 77.6L1473.3 77.6L1474.3 77.6L1475.3 77.7L1476.3 77.7L1477.3 77.7L1478.3 77.8L1479.3 77.8L1480.3 77.9L1481.3 77.9L1482.3 78.0L1483.0 78.0L1483.3 78.0L1484.3 78.1L1485.3 78.2L1486.3 78.3L1487.3 78.4L1488.3 78.5L1489.3 78.6L1490.3 78.7L1491.3 78.8L1492.3 78.9L1493.3 79.1L1494.3 79.2L1495.3 79.3L1496.3 79.5L1497.3 79.6L1498.2 79.8L1498.3 79.8L1499.3 80.0L1500.3 80.2L1501.3 80.4L1502.3 80.6L1503.3 80.8L1504.3 81.0L1505.3 81.2L1506.3 81.4L1507.3 81.7L1508.3 81.9L1509.3 82.2L1510.3 82.4L1511.3 82.7L1512.3 83.0L1513.3 83.3L1513.4 83.3L1514.3 83.6L1515.3 83.9L1516.3 84.2L1517.3 84.5L1518.3 84.8L1519.3 85.2L1520.3 85.5L1521.3 85.9L1522.3 86.3L1523.3 86.6L1524.3 87.0L1525.3 87.4L1526.3 87.8L1527.3 88.2L1528.3 88.7L1528.6 88.8L1529.3 89.1L1530.3 89.5L1531.3 90.0L1532.3 90.4L1533.3 90.9L1534.3 91.3L1535.3 91.8L1536.3 92.3L1537.3 92.8L1538.3 93.3L1539.3 93.8L1540.3 94.3L1541.3 94.8L1542.3 95.3L1543.3 95.8L1543.8 96.1L1544.3 96.4L1545.3 96.9L1546.3 97.5L1547.3 98.0L1548.3 98.6L1549.3 99.2L1550.3 99.8L1551.3 100.4L1552.3 101.0L1553.3 101.6L1554.3 102.3L1555.3 103.0L1556.3 103.6L1557.3 104.3L1558.3 105.0L1559.0 105.6L1559.3 105.8L1560.3 106.5L1561.3 107.3L1562.3 108.1L1563.3 108.9L1564.3 109.7L1565.3 110.5L1566.3 111.4L1567.3 112.2L1568.3 113.1L1569.3 114.0L1570.3 114.9L1571.3 115.7L1572.3 116.6L1573.3 117.5L1574.2 118.4L1574.3 118.4L1575.3 119.4L1576.3 120.3L1577.3 121.2L1578.3 122.1L1579.3 123.1L1580.3 124.1L1581.3 125.1L1582.3 126.1L1583.3 127.1L1584.3 128.2L1585.3 129.4L1586.3 130.5L1587.3 131.7L1588.3 133.0L1589.3 134.3L1589.4 134.4L1590.3 135.6L1591.3 137.0L1592.3 138.5L1593.3 139.9L1594.3 141.5L1595.3 143.0L1596.3 144.6L1597.3 146.1L1598.3 147.7L1599.3 149.3L1600.3 150.9L1601.3 152.5L1602.3 154.1L1603.3 155.7L1604.3 157.3L1604.6 157.7L1605.3 158.8L1606.3 160.3L1607.3 161.8L1608.3 163.3L1609.3 164.7L1610.3 166.1L1611.3 167.5L1612.3 168.9L1613.3 170.2L1614.3 171.5L1615.3 172.8L1616.3 174.1L1617.3 175.4L1618.3 176.6L1619.3 177.8L1619.8 178.3L1620.3 178.9L1621.3 180.1L1622.3 181.2L1623.3 182.3L1624.3 183.4L1625.3 184.4L1626.3 185.4L1627.3 186.3L1628.3 187.3L1629.3 188.1L1630.3 189.0L1631.3 189.8L1632.3 190.5L1633.3 191.3L1634.3 191.9L1635.0 192.4L1635.3 192.6L1636.3 193.1L1637.3 193.7L1638.3 194.1L1639.3 194.6L1640.3 194.9L1641.3 195.3L1642.3 195.6L1643.3 195.8L1644.3 196.0L1645.3 196.1L1646.3 196.2L1647.3 196.3L1648.3 196.3L1649.3 196.2L1650.1 196.1L1650.3 196.1L1651.3 195.9L1652.3 195.7L1653.3 195.5L1654.3 195.2L1655.3 194.9L1656.3 194.5L1657.3 194.1L1658.3 193.6L1659.3 193.1L1660.3 192.6L1661.3 192.0L1662.3 191.3L1663.3 190.7L1664.3 190.0L1665.3 189.3L1665.3 189.2L1666.3 188.5L1667.3 187.7L1668.3 186.9L1669.3 186.0L1670.3 185.1L1671.3 184.2L1672.3 183.2L1673.3 182.3L1674.3 181.3L1675.3 180.3L1676.3 179.2L1677.3 178.2L1678.3 177.1L1679.3 176.0L1680.3 174.9L1680.5 174.7L1681.3 173.8L1682.3 172.7L1683.3 171.6L1684.3 170.5L1685.3 169.3L1686.3 168.2L1687.3 167.0L1688.3 165.9L1689.3 164.7L1690.3 163.5L1691.3 162.4L1692.3 161.2L1693.3 160.1L1694.3 158.9L1695.3 157.8L1695.7 157.3L1696.3 156.7L1697.3 155.5L1698.3 154.4L1699.3 153.3L1700.3 152.2L1701.3 151.1L1702.3 150.0L1703.3 148.9L1704.3 147.9L1705.3 146.8L1706.3 145.8L1707.3 144.8L1708.3 143.7L1709.3 142.7L1710.3 141.7L1710.9 141.1L1711.3 140.8L1712.3 139.8L1713.3 138.8L1714.3 137.9L1715.3 137.0L1716.3 136.1L1717.3 135.2L1718.3 134.3L1719.3 133.4L1720.3 132.6L1721.3 131.8L1722.3 130.9L1723.3 130.1L1724.3 129.3L1725.3 128.6L1726.1 127.9L1726.3 127.8L1727.3 127.0L1728.3 126.3L1729.3 125.6L1730.3 124.9L1731.3 124.2L1732.3 123.5L1733.3 122.8L1734.3 122.1L1735.3 121.5L1736.3 120.9L1737.3 120.3L1738.3 119.6L1739.3 119.1L1740.3 118.5L1741.3 117.9L1741.3 117.9L1743.7 116.6" fill="none" stroke="#EDB120" stroke-width="6.6" stroke-linejoin="round"/></g>
<polygon points="252.48,20.50 257.60,36.25 274.17,36.25 260.77,45.99 265.89,61.75 252.48,52.01 239.08,61.75 244.20,45.99 230.80,36.25 247.36,36.25" fill="#EDB120"/>
<polygon points="404.40,20.78 409.52,36.54 426.09,36.54 412.69,46.27 417.81,62.03 404.40,52.29 391.00,62.03 396.12,46.27 382.72,36.54 399.28,36.54" fill="#EDB120"/>
<polygon points="556.32,125.66 561.44,141.42 578.01,141.42 564.61,151.16 569.73,166.91 556.32,157.17 542.92,166.91 548.04,151.16 534.64,141.42 551.20,141.42" fill="#EDB120"/>
<polygon points="708.24,28.90 713.36,44.65 729.93,44.65 716.53,54.39 721.65,70.15 708.24,60.41 694.84,70.15 699.96,54.39 686.56,44.65 703.12,44.65" fill="#EDB120"/>
<polygon points="860.16,55.70 865.28,71.45 881.85,71.45 868.45,81.19 873.57,96.95 860.16,87.21 846.76,96.95 851.88,81.19 838.48,71.45 855.04,71.45" fill="#EDB120"/>
<polygon points="1012.08,80.70 1017.20,96.45 1033.77,96.45 1020.37,106.19 1025.49,121.95 1012.08,112.21 998.68,121.95 1003.80,106.19 990.40,96.45 1006.96,96.45" fill="#EDB120"/>
<polygon points="1164.00,45.80 1169.12,61.55 1185.69,61.55 1172.29,71.29 1177.41,87.05 1164.00,77.31 1150.60,87.05 1155.72,71.29 1142.32,61.55 1158.88,61.55" fill="#EDB120"/>
<polygon points="1315.92,182.37 1321.04,198.12 1337.61,198.12 1324.21,207.86 1329.33,223.61 1315.92,213.88 1302.52,223.61 1307.64,207.86 1294.24,198.12 1310.80,198.12" fill="#EDB120"/>
<polygon points="1467.84,54.80 1472.96,70.55 1489.53,70.55 1476.13,80.29 1481.25,96.05 1467.84,86.31 1454.44,96.05 1459.56,80.29 1446.16,70.55 1462.72,70.55" fill="#EDB120"/>
<polygon points="1604.57,134.90 1609.69,150.65 1626.26,150.65 1612.86,160.39 1617.97,176.15 1604.57,166.41 1591.17,176.15 1596.29,160.39 1582.89,150.65 1599.45,150.65" fill="#EDB120"/>
<g clip-path="url(#cp)"><path d="M223.6 43.3L225.1 43.3L226.6 43.3L228.1 43.3L229.6 43.3L231.1 43.3L232.6 43.3L234.1 43.3L235.6 43.3L237.1 43.3L238.6 43.3L240.1 43.3L241.6 43.3L243.1 43.3L244.6 43.3L246.1 43.3L247.6 43.3L249.1 43.3L250.6 43.3L252.1 43.3L253.6 43.3L255.1 43.3L256.6 43.3L258.1 43.3L259.6 43.3L261.1 43.3L262.6 43.3L264.1 43.3L265.6 43.3L267.1 43.3L268.6 43.3L270.1 43.3L271.6 43.3L273.1 43.3L274.6 43.3L276.1 43.3L277.6 43.3L279.1 43.3L280.6 43.3L282.1 43.3L283.6 43.3L285.1 43.3L286.6 43.3L288.1 43.3L289.6 43.3L291.1 43.3L292.6 43.3L294.1 43.3L295.6 43.3L297.1 43.3L298.6 43.3L300.0 43.3L300.1 43.3L301.6 43.3L303.1 43.3L304.6 43.3L306.1 43.3L307.6 43.3L309.1 43.3L310.6 43.3L312.1 43.3L313.6 43.3L315.1 43.3L316.6 43.3L318.1 43.3L319.6 43.3L321.1 43.3L322.6 43.3L324.1 43.3L325.6 43.3L327.1 43.3L328.6 43.3L330.1 43.3L331.6 43.3L333.1 43.3L334.6 43.3L336.1 43.3L337.6 43.3L339.1 43.3L340.6 43.3L342.1 43.3L343.6 43.3L345.1 43.3L346.6 43.3L348.1 43.3L349.6 43.3L351.1 43.3L352.6 43.3L354.1 43.3L355.6 43.3L357.1 43.3L358.6 43.3L360.1 43.3L361.6 43.3L363.1 43.3L364.6 43.3L366.1 43.3L367.6 43.3L369.1 43.3L370.6 43.3L372.1 43.3L373.6 43.3L375.1 43.3L376.6 43.3L378.1 43.3L379.6 43.3L380.0 43.3L381.1 43.3L382.6 43.3L384.1 43.3L385.6 43.3L387.1 43.3L388.6 43.3L390.1 43.3L391.6 43.3L393.1 43.3L394.6 43.4L396.1 43.4L397.6 43.4L399.1 43.4L400.6 43.4L402.1 43.4L403.6 43.4L405.1 43.4L406.6 43.5L408.1 43.5L409.6 43.5L411.1 43.5L412.6 43.5L414.1 43.5L415.6 43.5L417.1 43.6L418.6 43.6L420.0 43.6L420.1 43.6L421.6 43.6L423.1 43.6L424.6 43.7L426.1 43.7L427.6 43.7L429.1 43.7L430.6 43.8L432.1 43.8L433.6 43.8L435.1 43.9L436.6 43.9L438.1 43.9L439.6 44.0L441.1 44.0L442.6 44.1L444.1 44.1L445.6 44.1L447.1 44.2L448.6 44.2L450.0 44.3L450.1 44.3L451.6 44.4L453.1 44.4L454.6 44.5L456.1 44.6L457.6 44.7L459.1 44.8L460.6 44.9L462.1 45.0L463.6 45.1L465.1 45.2L466.6 45.4L468.1 45.5L469.6 45.6L471.1 45.8L472.6 46.0L474.1 46.1L475.6 46.3L477.1 46.5L478.5 46.6L480.0 46.8L481.5 47.0L483.0 47.2L483.3 47.3L484.5 47.4L485.9 47.7L487.4 47.9L488.9 48.2L490.4 48.5L491.8 48.8L493.3 49.2L494.8 49.5L496.3 49.9L497.7 50.3L499.2 50.8L500.6 51.2L502.1 51.6L503.5 52.1L504.9 52.6L506.3 53.1L507.7 53.6L508.3 53.8L509.1 54.1L510.4 54.7L511.8 55.3L513.2 55.9L514.5 56.6L515.9 57.3L517.2 58.1L518.5 58.8L519.8 59.7L521.1 60.5L522.3 61.3L523.5 62.2L524.7 63.1L525.0 63.3L525.8 64.0L527.0 65.0L528.1 66.0L529.2 67.0L530.3 68.1L531.3 69.2L532.3 70.4L533.3 71.6L534.3 72.8L535.1 74.0L536.0 75.2L536.7 76.3L536.8 76.4L537.5 77.7L538.2 79.0L538.9 80.3L539.5 81.6L540.2 83.0L540.8 84.3L541.4 85.7L541.9 87.1L542.5 88.6L543.0 90.0L543.6 91.4L544.1 92.9L544.6 94.3L545.1 95.7L545.5 97.2L545.9 98.3L546.0 98.6L546.5 100.0L547.0 101.4L547.4 102.8L547.8 104.3L548.3 105.7L548.7 107.2L549.1 108.6L549.5 110.1L549.9 111.5L550.3 113.0L550.6 114.4L551.0 115.9L551.4 117.3L551.7 118.8L552.0 120.0L552.1 120.3L552.4 121.7L552.7 123.2L553.1 124.6L553.4 126.1L553.7 127.6L554.0 129.0L554.3 130.5L554.6 132.0L554.9 133.4L555.2 134.9L555.5 136.4L555.8 137.9L556.0 139.3L556.3 140.8L556.6 142.3L556.8 143.8L557.0 145.0L557.0 145.3L557.3 146.7L557.5 148.2L557.7 149.7L558.0 151.2L558.2 152.7L558.4 154.2L558.6 155.6L558.8 157.1L559.1 158.6L559.3 160.1L559.4 161.6L559.6 163.1L559.8 164.6L560.0 166.1L560.1 167.6L560.3 169.0L560.4 170.0L560.5 170.5L560.6 172.0L560.7 173.5L560.9 175.0L561.0 176.5L561.1 178.0L561.2 179.5L561.3 181.0L561.4 182.5L561.5 184.0L561.6 185.5L561.7 187.0L561.8 188.5L561.9 190.0L562.0 191.5L562.1 193.0L562.2 194.5L562.3 196.0L562.4 197.5L562.6 199.0L562.7 200.5L562.8 201.9L562.9 203.3L562.9 203.4L563.0 204.9L563.2 206.4L563.3 207.9L563.4 209.4L563.6 210.9L563.7 212.4L563.9 213.9L564.0 215.4L564.2 216.9L564.3 218.4L564.5 219.9L564.6 221.4L564.8 222.9L564.9 224.3L565.1 225.8L565.2 227.3L565.4 228.8L565.5 230.3L565.7 231.8L565.8 233.3L565.9 234.8L566.0 236.3L566.2 237.8L566.3 239.3L566.3 240.0L566.4 240.8L566.5 242.3L566.6 243.8L566.7 245.3L566.8 246.8L566.9 248.3L567.0 249.8L567.1 251.3L567.2 252.8L567.3 254.2L567.4 255.7L567.5 257.2L567.6 258.7L567.6 260.2L567.7 261.7L567.8 263.2L567.9 264.7L568.0 266.2L568.1 267.7L568.2 269.2L568.2 270.7L568.3 272.2L568.4 273.7L568.5 275.2L568.6 276.7L568.6 278.2L568.7 279.7L568.8 281.2L568.9 282.7L569.0 284.2L569.0 285.7L569.1 287.2L569.2 288.7L569.3 290.2L569.3 291.7L569.4 293.2L569.5 294.7L569.6 296.2L569.6 297.7L569.7 299.2L569.8 300.7L569.9 302.2L569.9 303.7L570.0 305.2L570.1 306.7L570.1 308.2L570.2 309.7L570.3 311.2L570.4 312.7L570.4 314.2L570.5 315.7L570.6 317.2L570.6 317.8L570.7 318.7L570.8 320.2L570.8 321.7L570.9 323.2L571.0 324.7L571.1 326.2L571.1 327.7L571.2 329.2L571.3 330.7L571.4 332.2L571.5 333.7L571.6 335.1L571.6 336.6L571.7 338.1L571.8 339.6L571.9 341.1L572.0 342.6L572.0 344.1L572.1 345.6L572.2 347.1L572.3 348.6L572.4 350.1L572.4 351.6L572.5 353.1L572.6 354.6L572.7 356.1L572.8 357.6L572.8 359.1L572.9 360.6L573.0 362.1L573.1 363.6L573.1 365.1L573.2 366.6L573.3 368.1L573.4 369.6L573.4 371.1L573.5 372.6L573.6 374.1L573.6 375.6L573.7 377.1L573.8 378.6L573.8 380.1L573.9 381.6L573.9 383.1L574.0 384.6L574.0 386.1L574.1 387.6L574.1 389.1L574.2 390.6L574.2 392.1L574.3 393.6L574.3 395.1L574.4 396.6L574.4 397.8L574.4 398.1L574.4 399.6L574.5 401.1L574.5 402.6L574.6 404.1L574.6 405.6L574.6 407.1L574.7 408.6L574.7 410.1L574.7 411.6L574.8 413.1L574.8 414.6L574.8 416.1L574.9 417.6L574.9 419.1L574.9 420.6L574.9 422.1L575.0 423.6L575.0 425.1L575.0 426.6L575.1 428.1L575.1 429.6L575.1 431.1L575.1 432.6L575.2 434.1L575.2 435.6L575.2 437.1L575.3 438.6L575.3 440.1L575.3 441.6L575.3 443.1L575.4 444.6L575.4 446.1L575.4 447.6L575.4 449.1L575.4 450.6L575.5 452.1L575.5 453.6L575.5 455.1L575.5 456.6L575.6 458.1L575.6 459.6L575.6 461.1L575.6 462.6L575.6 464.1L575.7 465.6L575.7 467.1L575.7 468.6L575.7 470.1L575.8 471.6L575.8 473.1L575.8 474.6L575.8 476.1L575.8 477.6L575.9 479.1L575.9 480.6L575.9 482.1L575.9 483.6L575.9 485.1L576.0 486.6L576.0 488.1L576.0 489.6L576.0 491.1L576.0 492.6L576.0 494.1L576.1 495.6L576.1 497.1L576.1 498.6L576.1 500.1L576.1 501.6L576.2 503.1L576.2 504.6L576.2 506.1L576.2 506.7L576.2 507.6L576.2 509.1L576.2 510.6L576.3 512.1L576.3 513.6L576.3 515.1L576.3 516.6L576.3 518.1L576.4 519.6L576.4 521.1L576.4 522.6L576.4 524.1L576.4 525.6L576.4 527.1L576.5 528.6L576.5 530.1L576.5 531.6L576.5 533.1L576.5 534.6L576.5 536.1L576.6 537.6L576.6 539.1L576.6 540.6L576.6 542.1L576.6 543.6L576.6 545.1L576.6 546.6L576.7 548.1L576.7 549.6L576.7 551.1L576.7 552.6L576.7 554.1L576.7 555.6L576.7 557.1L576.8 558.6L576.8 560.1L576.8 561.6L576.8 563.1L576.8 564.6L576.8 566.1L576.8 567.6L576.9 569.1L576.9 570.6L576.9 572.1L576.9 573.6L576.9 575.1L576.9 576.6L576.9 578.1L577.0 579.6L577.0 581.1L577.0 582.6L577.0 584.1L577.0 585.6L577.0 587.1L577.0 588.6L577.0 590.1L577.1 591.6L577.1 593.1L577.1 594.6L577.1 596.1L577.1 597.6L577.1 599.1L577.1 600.6L577.2 602.1L577.2 603.6L577.2 605.1L577.2 606.6L577.2 608.1L577.2 609.6L577.2 611.1L577.2 612.6L577.3 614.1L577.3 615.6L577.3 617.1L577.3 618.6L577.3 620.0L577.3 620.1L577.3 621.6L577.3 623.1L577.3 624.6L577.3 626.1L577.4 627.6L577.4 629.1L577.4 630.6L577.4 632.1L577.4 633.6L577.4 635.1L577.4 636.6L577.4 638.1L577.5 639.6L577.5 641.1L577.5 642.6L577.5 644.1L577.5 645.6L577.5 647.1L577.5 648.6L577.5 650.1L577.5 651.6L577.6 653.1L577.6 654.6L577.6 656.1L577.6 657.6L577.6 659.1L577.6 660.6L577.6 662.1L577.6 663.6L577.6 665.1L577.7 666.6L577.7 668.1L577.7 669.6L577.7 671.1L577.7 672.6L577.7 674.1L577.7 675.6L577.7 677.1L577.7 678.6L577.7 680.1L577.8 681.6L577.8 683.1L577.8 684.6L577.8 686.1L577.8 687.6L577.8 689.1L577.8 690.6L577.8 692.1L577.8 693.6L577.8 695.1L577.9 696.6L577.9 698.1L577.9 699.6L577.9 701.1L577.9 702.6L577.9 704.1L577.9 705.6L577.9 707.1L577.9 708.6L577.9 710.1L578.0 711.6L578.0 713.1L578.0 714.6L578.0 716.1L578.0 717.6L578.0 719.1L578.0 720.6L578.0 722.1L578.0 723.6L578.0 725.1L578.1 726.6L578.1 728.1L578.1 729.6L578.1 731.1L578.1 732.6L578.1 734.1L578.1 735.6L578.1 737.1L578.1 738.6L578.1 740.1L578.2 741.6L578.2 743.1L578.2 744.6L578.2 746.1L578.2 747.6L578.2 749.1L578.2 750.6L578.2 752.1L578.2 753.6L578.2 755.1L578.3 756.6L578.3 758.1L578.3 759.6L578.3 761.1L578.3 762.6L578.3 764.1L578.3 765.6L578.3 767.1L578.3 768.6L578.3 770.1L578.4 771.6L578.4 773.1L578.4 774.6L578.4 776.1L578.4 777.6L578.4 777.8L578.4 779.1L578.4 780.6L578.4 782.1L578.4 783.6L578.5 785.1L578.5 786.6L578.5 788.1L578.5 789.6L578.5 791.1L578.5 792.6L578.5 794.1L578.5 795.6L578.5 797.1L578.5 798.6L578.6 800.1L578.6 801.6L578.6 803.1L578.6 804.6L578.6 806.1L578.6 807.6L578.6 809.1L578.6 810.6L578.6 812.1L578.7 813.6L578.7 815.1L578.7 816.6L578.7 818.1L578.7 819.6L578.7 821.1L578.7 822.6L578.7 824.1L578.7 825.6L578.7 827.1L578.8 828.6L578.8 830.1L578.8 831.6L578.8 833.1L578.8 834.6L578.8 836.1L578.8 837.6L578.8 839.1L578.8 840.6L578.9 842.1L578.9 843.6L578.9 845.1L578.9 846.6L578.9 848.1L578.9 849.6L578.9 851.1L578.9 852.6L578.9 854.1L578.9 855.6L579.0 857.1L579.0 858.6L579.0 860.1L579.0 861.6L579.0 863.1L579.0 864.6L579.0 866.1L579.0 867.6L579.0 869.1L579.1 870.6L579.1 872.1L579.1 873.6L579.1 875.1L579.1 876.6L579.1 878.1L579.1 879.6L579.1 881.1L579.1 882.6L579.1 884.1L579.2 885.6L579.2 887.1L579.2 888.6L579.2 890.1L579.2 891.6L579.2 893.1L579.2 894.6L579.2 896.1L579.2 897.6L579.3 899.1L579.3 900.6L579.3 902.1L579.3 903.6L579.3 905.1L579.3 906.6L579.3 908.1L579.3 909.6L579.3 911.1L579.3 912.6L579.4 914.1L579.4 915.6L579.4 917.1L579.4 918.6L579.4 920.1L579.4 921.6L579.4 923.1L579.4 924.6L579.4 926.1L579.5 927.6L579.5 929.1L579.5 930.6L579.5 932.1L579.5 933.6L579.5 935.1L579.5 936.6L579.5 938.1L579.5 939.6L579.5 941.1L579.6 942.6L579.6 944.1L579.6 945.6L579.6 947.1L579.6 948.6L579.6 950.1L579.6 951.6L579.6 953.1L579.6 954.6L579.6 956.1L579.7 957.6L579.7 959.1L579.7 960.6L579.7 962.1L579.7 963.6L579.7 965.1L579.7 966.6L579.7 968.1L579.7 969.6L579.7 971.1L579.8 972.6L579.8 974.1L579.8 975.6L579.8 977.1L579.8 978.6L579.8 980.0L579.8 980.1L579.8 981.6L579.8 983.2L579.8 984.7L579.8 986.4L579.8 988.0L579.9 989.7L579.9 991.4L579.9 993.1L579.9 994.8L579.9 996.6L579.9 998.4L579.9 1000.2L579.9 1002.1L579.9 1003.9L579.9 1005.8L580.0 1007.7L580.0 1009.6L580.0 1011.5L580.0 1013.4L580.0 1015.4L580.0 1017.3L580.0 1019.3L580.0 1021.3L580.0 1023.3L580.0 1025.2L580.0 1027.2L580.1 1029.2L580.1 1031.2L580.1 1033.2L580.1 1035.2L580.1 1037.2L580.1 1039.2L580.1 1041.2L580.1 1043.2L580.1 1045.2L580.1 1047.2L580.1 1049.1L580.2 1051.1L580.2 1053.1L580.2 1055.0L580.2 1056.9L580.2 1058.8L580.2 1060.7L580.2 1062.6L580.2 1064.5L580.2 1066.3L580.2 1068.2L580.2 1070.0L580.3 1071.7L580.3 1073.5L580.3 1075.2L580.3 1077.0L580.3 1078.6L580.3 1080.3L580.3 1081.9L580.3 1083.5L580.3 1085.1L580.3 1086.6L580.3 1088.1L580.4 1089.6L580.4 1091.0L580.4 1092.4L580.4 1093.8L580.4 1095.1L580.4 1096.4L580.4 1097.6L580.4 1098.8L580.4 1100.0L580.4 1101.1L580.4 1102.1L580.5 1103.2L580.5 1104.1L580.5 1105.0L580.5 1105.9L580.5 1106.7L580.5 1107.5L580.5 1108.2L580.5 1108.8L580.5 1109.4L580.5 1109.9L580.5 1110.4L580.5 1110.8L580.6 1111.2L580.6 1111.5L580.6 1111.7L580.6 1111.9L580.6 1112.0L580.6 1112.0L580.6 1112.0L580.6 1112.0L580.6 1111.9L580.6 1111.7L580.6 1111.5L580.6 1111.2L580.7 1110.8L580.7 1110.4L580.7 1109.9L580.7 1109.3L580.7 1108.7L580.7 1108.1L580.7 1107.4L580.7 1106.6L580.7 1105.8L580.7 1104.9L580.7 1104.0L580.7 1103.0L580.7 1102.0L580.8 1101.0L580.8 1099.8L580.8 1098.7L580.8 1097.5L580.8 1096.2L580.8 1095.0L580.8 1093.6L580.8 1092.3L580.8 1090.9L580.8 1089.4L580.8 1088.0L580.8 1086.5L580.8 1084.9L580.8 1083.3L580.9 1081.7L580.9 1080.1L580.9 1078.4L580.9 1076.7L580.9 1075.0L580.9 1073.3L580.9 1071.5L580.9 1069.7L580.9 1067.9L580.9 1066.1L580.9 1064.2L580.9 1062.4L580.9 1060.5L581.0 1058.6L581.0 1056.7L581.0 1054.8L581.0 1052.8L581.0 1050.9L581.0 1048.9L581.0 1046.9L581.0 1045.0L581.0 1043.0L581.0 1041.0L581.0 1039.0L581.0 1037.0L581.0 1035.0L581.1 1033.0L581.1 1031.0L581.1 1029.0L581.1 1027.0L581.1 1025.0L581.1 1023.0L581.1 1021.0L581.1 1019.1L581.1 1017.1L581.1 1015.1L581.1 1013.2L581.1 1011.3L581.1 1009.4L581.2 1007.4L581.2 1005.6L581.2 1003.7L581.2 1001.8L581.2 1000.0L581.2 998.2L581.2 996.4L581.2 994.6L581.2 992.9L581.2 991.2L581.2 989.5L581.3 987.8L581.3 986.2L581.3 984.5L581.3 983.0L581.3 981.4L581.3 980.0L581.3 979.9L581.3 978.4L581.3 976.9L581.3 975.4L581.3 973.9L581.4 972.4L581.4 970.9L581.4 969.4L581.4 967.9L581.4 966.4L581.4 964.9L581.4 963.4L581.4 961.9L581.4 960.4L581.4 958.9L581.5 957.4L581.5 955.9L581.5 954.4L581.5 952.9L581.5 951.4L581.5 949.9L581.5 948.4L581.5 946.9L581.6 945.4L581.6 943.9L581.6 942.4L581.6 940.9L581.6 939.4L581.6 937.9L581.6 936.4L581.6 934.9L581.7 933.4L581.7 931.9L581.7 930.4L581.7 928.9L581.7 927.4L581.7 925.9L581.7 924.4L581.7 922.9L581.8 921.4L581.8 919.9L581.8 918.4L581.8 916.9L581.8 915.4L581.8 913.9L581.8 912.4L581.9 910.9L581.9 909.4L581.9 907.9L581.9 906.4L581.9 904.9L581.9 903.4L581.9 901.9L582.0 900.4L582.0 898.9L582.0 897.4L582.0 895.9L582.0 894.4L582.0 892.9L582.0 891.4L582.0 889.9L582.1 888.4L582.1 886.9L582.1 885.4L582.1 883.9L582.1 882.4L582.1 880.9L582.1 879.4L582.2 877.9L582.2 876.4L582.2 874.9L582.2 873.4L582.2 871.9L582.2 870.4L582.2 868.9L582.3 867.4L582.3 865.9L582.3 864.4L582.3 862.9L582.3 861.4L582.3 859.9L582.3 858.4L582.4 856.9L582.4 855.4L582.4 853.9L582.4 852.4L582.4 850.9L582.4 849.4L582.4 847.9L582.5 846.4L582.5 844.9L582.5 843.4L582.5 841.9L582.5 840.4L582.5 838.9L582.5 837.4L582.6 835.9L582.6 834.4L582.6 832.9L582.6 831.4L582.6 829.9L582.6 828.4L582.6 826.9L582.6 825.4L582.7 823.9L582.7 822.4L582.7 820.9L582.7 819.4L582.7 817.9L582.7 816.4L582.7 814.9L582.7 813.4L582.8 811.9L582.8 810.4L582.8 808.9L582.8 807.4L582.8 805.9L582.8 804.4L582.8 802.9L582.8 801.4L582.8 799.9L582.9 798.4L582.9 796.9L582.9 795.4L582.9 793.9L582.9 792.4L582.9 790.9L582.9 789.4L582.9 787.9L582.9 786.4L583.0 784.9L583.0 783.4L583.0 781.9L583.0 780.4L583.0 778.9L583.0 777.8L583.0 777.4L583.0 775.9L583.0 774.4L583.0 772.9L583.0 771.4L583.0 769.9L583.1 768.4L583.1 766.9L583.1 765.4L583.1 763.9L583.1 762.4L583.1 760.9L583.1 759.4L583.1 757.9L583.1 756.4L583.1 754.9L583.1 753.4L583.1 751.9L583.2 750.4L583.2 748.9L583.2 747.4L583.2 745.9L583.2 744.4L583.2 742.9L583.2 741.4L583.2 739.9L583.2 738.4L583.2 736.9L583.2 735.4L583.2 733.9L583.2 732.4L583.2 730.9L583.3 729.4L583.3 727.9L583.3 726.4L583.3 724.9L583.3 723.4L583.3 721.9L583.3 720.4L583.3 718.9L583.3 717.4L583.3 715.9L583.3 714.4L583.3 712.9L583.3 711.4L583.3 709.9L583.3 708.4L583.4 706.9L583.4 705.4L583.4 703.9L583.4 702.4L583.4 700.9L583.4 699.4L583.4 697.9L583.4 696.4L583.4 694.9L583.4 693.4L583.4 691.9L583.4 690.4L583.4 688.9L583.4 687.4L583.4 685.9L583.4 684.4L583.5 682.9L583.5 681.4L583.5 679.9L583.5 678.4L583.5 676.9L583.5 675.4L583.5 673.9L583.5 672.4L583.5 670.9L583.5 669.4L583.5 667.9L583.5 666.4L583.5 664.9L583.5 663.4L583.6 661.9L583.6 660.4L583.6 658.9L583.6 657.4L583.6 655.9L583.6 654.4L583.6 652.9L583.6 651.4L583.6 649.9L583.6 648.4L583.6 646.9L583.6 645.4L583.6 643.9L583.7 642.4L583.7 640.9L583.7 639.4L583.7 637.9L583.7 636.4L583.7 634.9L583.7 633.4L583.7 631.9L583.7 630.4L583.7 628.9L583.7 627.4L583.8 625.9L583.8 624.4L583.8 622.9L583.8 621.4L583.8 620.0L583.8 619.9L583.8 618.4L583.8 616.9L583.8 615.4L583.8 613.9L583.9 612.4L583.9 610.9L583.9 609.4L583.9 607.9L583.9 606.4L583.9 604.9L583.9 603.4L583.9 601.9L583.9 600.4L584.0 598.9L584.0 597.4L584.0 595.9L584.0 594.4L584.0 592.9L584.0 591.4L584.0 589.9L584.1 588.4L584.1 586.9L584.1 585.4L584.1 583.9L584.1 582.4L584.1 580.9L584.1 579.4L584.2 577.9L584.2 576.4L584.2 574.9L584.2 573.4L584.2 571.9L584.2 570.4L584.2 568.9L584.3 567.4L584.3 565.9L584.3 564.4L584.3 562.9L584.3 561.4L584.3 559.9L584.4 558.4L584.4 556.9L584.4 555.4L584.4 553.9L584.4 552.4L584.4 550.9L584.5 549.4L584.5 547.9L584.5 546.4L584.5 544.9L584.5 543.4L584.5 541.9L584.6 540.4L584.6 538.9L584.6 537.4L584.6 535.9L584.6 534.4L584.7 532.9L584.7 531.4L584.7 529.9L584.7 528.4L584.7 526.9L584.7 525.4L584.8 523.9L584.8 522.4L584.8 520.9L584.8 519.4L584.8 517.9L584.9 516.4L584.9 514.9L584.9 513.4L584.9 511.9L584.9 510.4L585.0 508.9L585.0 507.4L585.0 506.7L585.0 505.9L585.0 504.4L585.1 502.9L585.1 501.4L585.1 499.9L585.1 498.4L585.1 496.9L585.2 495.4L585.2 493.9L585.2 492.4L585.2 490.9L585.3 489.4L585.3 487.9L585.3 486.4L585.3 484.9L585.4 483.4L585.4 481.9L585.4 480.4L585.4 478.9L585.5 477.4L585.5 475.9L585.5 474.4L585.5 472.9L585.6 471.4L585.6 469.9L585.6 468.4L585.6 466.9L585.7 465.4L585.7 463.9L585.7 462.4L585.8 460.9L585.8 459.4L585.8 457.9L585.8 456.4L585.9 454.9L585.9 453.4L585.9 451.9L586.0 450.4L586.0 448.9L586.0 447.4L586.1 445.9L586.1 444.4L586.1 442.9L586.2 441.4L586.2 439.9L586.2 438.4L586.3 436.9L586.3 435.4L586.3 433.9L586.4 432.4L586.4 430.9L586.4 429.4L586.5 427.9L586.5 426.4L586.5 424.9L586.6 423.4L586.6 421.9L586.6 420.4L586.7 418.9L586.7 417.4L586.8 415.9L586.8 414.4L586.8 412.9L586.9 411.4L586.9 409.9L587.0 408.4L587.0 406.9L587.0 405.4L587.1 403.9L587.1 402.4L587.2 400.9L587.2 399.4L587.3 397.9L587.3 396.4L587.4 394.9L587.4 393.4L587.4 391.9L587.5 390.4L587.5 390.0L587.5 388.9L587.6 387.4L587.6 385.9L587.7 384.4L587.7 382.9L587.8 381.4L587.9 379.9L587.9 378.4L588.0 376.9L588.1 375.4L588.1 373.9L588.2 372.4L588.3 370.9L588.3 369.4L588.4 367.9L588.5 366.4L588.5 364.9L588.6 363.4L588.7 361.9L588.8 360.4L588.9 358.9L588.9 357.4L589.0 356.0L589.1 354.5L589.2 353.0L589.3 351.5L589.3 350.0L589.4 348.5L589.5 347.0L589.6 345.5L589.7 344.0L589.8 342.5L589.8 341.0L589.9 339.5L590.0 338.0L590.1 336.5L590.2 335.0L590.3 333.5L590.3 332.0L590.4 330.5L590.5 329.0L590.6 327.5L590.7 326.0L590.8 324.5L590.8 323.0L590.9 321.5L591.0 320.0L591.1 318.5L591.1 317.8L591.1 317.0L591.2 315.5L591.3 314.0L591.4 312.5L591.4 311.0L591.5 309.5L591.6 308.0L591.7 306.5L591.7 305.0L591.8 303.5L591.9 302.0L591.9 300.5L592.0 299.0L592.1 297.5L592.2 296.0L592.2 294.5L592.3 293.0L592.4 291.5L592.4 290.0L592.5 288.5L592.6 287.0L592.6 285.5L592.7 284.0L592.8 282.5L592.9 281.0L592.9 279.5L593.0 278.0L593.1 276.5L593.1 275.0L593.2 273.5L593.3 272.0L593.4 270.6L593.4 269.1L593.5 267.6L593.6 266.1L593.7 264.6L593.7 263.1L593.8 261.6L593.9 260.1L594.0 258.6L594.1 257.1L594.1 255.6L594.2 254.1L594.3 252.6L594.4 251.1L594.5 249.6L594.5 248.1L594.6 246.6L594.7 245.1L594.8 243.6L594.9 242.1L595.0 240.6L595.0 240.0L595.1 239.1L595.1 237.6L595.2 236.1L595.3 234.6L595.4 233.1L595.5 231.6L595.6 230.1L595.7 228.6L595.7 227.1L595.8 225.6L595.9 224.1L596.0 222.6L596.1 221.1L596.2 219.6L596.3 218.1L596.4 216.6L596.5 215.1L596.6 213.6L596.7 212.1L596.8 210.6L597.0 209.1L597.1 207.6L597.2 206.2L597.4 204.7L597.5 203.3L597.5 203.2L597.7 201.7L597.9 200.2L598.1 198.7L598.3 197.2L598.5 195.8L598.8 194.3L599.0 192.8L599.3 191.3L599.6 189.8L599.8 188.4L600.1 186.9L600.4 185.4L600.7 183.9L600.9 182.5L601.2 181.0L601.5 179.5L601.7 178.0L601.9 176.7L601.9 176.5L602.1 175.1L602.4 173.6L602.6 172.1L602.8 170.6L603.0 169.1L603.2 167.6L603.4 166.1L603.6 164.7L603.7 163.2L603.9 161.7L604.1 160.2L604.3 158.7L604.5 157.2L604.6 156.7L604.7 155.7L604.9 154.2L605.1 152.7L605.3 151.3L605.5 149.8L605.6 148.3L605.8 146.8L606.0 145.3L606.2 143.8L606.3 142.3L606.5 140.8L606.7 139.3L606.9 137.8L607.1 136.3L607.3 134.8L607.5 133.4L607.8 131.9L608.0 130.4L608.3 129.0L608.5 128.0L608.6 127.5L608.9 126.0L609.3 124.6L609.8 123.2L610.2 121.7L610.7 120.3L611.2 118.9L611.7 117.4L611.8 117.0L612.1 116.0L612.6 114.6L613.0 113.2L613.5 111.7L614.0 110.3L614.4 108.9L614.9 107.5L615.4 106.0L616.0 104.6L616.2 104.0L616.5 103.2L617.0 101.8L617.6 100.4L618.1 99.0L618.7 97.6L619.3 96.3L619.9 94.9L620.5 93.5L621.1 92.2L621.8 90.8L622.2 90.0L622.5 89.5L623.2 88.1L623.9 86.8L624.6 85.4L625.4 84.1L626.2 82.8L627.0 81.5L627.9 80.4L628.8 79.2L629.0 79.0L629.8 78.2L630.8 77.2L632.3 75.5L633.3 74.4L634.3 73.4L635.3 72.5L636.3 71.5L637.3 70.6L638.3 69.7L639.3 68.9L640.3 68.1L641.3 67.3L642.3 66.6L643.3 65.9L644.3 65.2L645.3 64.5L646.3 63.9L647.3 63.3L647.5 63.2L648.3 62.7L649.3 62.2L650.3 61.6L651.3 61.1L652.3 60.6L653.3 60.1L654.3 59.7L655.3 59.2L656.3 58.8L657.3 58.4L658.3 58.0L659.3 57.6L660.3 57.3L661.3 56.9L662.3 56.6L662.7 56.4L663.3 56.2L664.3 55.9L665.3 55.6L666.3 55.3L667.3 55.1L668.3 54.8L669.3 54.5L670.3 54.3L671.3 54.0L672.3 53.8L673.3 53.6L674.3 53.3L675.3 53.1L676.3 52.9L677.3 52.7L677.9 52.6L678.3 52.5L679.3 52.3L680.3 52.1L681.3 51.9L682.3 51.7L683.3 51.5L684.3 51.3L685.3 51.2L686.3 51.0L687.3 50.8L688.3 50.7L689.3 50.5L690.3 50.3L691.3 50.2L692.3 50.0L693.1 49.9L693.3 49.9L694.3 49.7L695.3 49.6L696.3 49.4L697.3 49.3L698.3 49.2L699.3 49.0L700.3 48.9L701.3 48.8L702.3 48.7L703.3 48.5L704.3 48.4L705.3 48.3L706.3 48.2L707.3 48.1L708.2 48.0L708.3 48.0L709.3 47.9L710.3 47.8L711.3 47.7L712.3 47.6L713.3 47.6L714.3 47.5L715.3 47.4L716.3 47.3L717.3 47.3L718.3 47.2L719.3 47.1L720.3 47.1L721.3 47.0L722.3 47.0L723.3 46.9L723.4 46.9L724.3 46.9L725.3 46.8L726.3 46.8L727.3 46.7L728.3 46.7L729.3 46.7L730.3 46.6L731.3 46.6L732.3 46.6L733.3 46.5L734.3 46.5L735.3 46.5L736.3 46.5L737.3 46.5L738.3 46.4L738.6 46.4L739.3 46.4L740.3 46.4L741.3 46.4L742.3 46.4L743.3 46.4L744.3 46.4L745.3 46.4L746.3 46.4L747.3 46.4L748.3 46.4L749.3 46.4L750.3 46.4L751.3 46.4L752.3 46.4L753.3 46.4L753.8 46.4L754.3 46.4L755.3 46.4L756.3 46.4L757.3 46.4L758.3 46.5L759.3 46.5L760.3 46.5L761.3 46.5L762.3 46.6L763.3 46.6L764.3 46.6L765.3 46.7L766.3 46.7L767.3 46.8L768.3 46.8L769.0 46.9L769.3 46.9L770.3 46.9L771.3 47.0L772.3 47.1L773.3 47.1L774.3 47.2L775.3 47.3L776.3 47.4L777.3 47.5L778.3 47.5L779.3 47.6L780.3 47.7L781.3 47.8L782.3 47.9L783.3 48.1L784.2 48.2L784.3 48.2L785.3 48.3L786.3 48.4L787.3 48.5L788.3 48.6L789.3 48.8L790.3 48.9L791.3 49.0L792.3 49.2L793.3 49.3L794.3 49.5L795.3 49.6L796.3 49.8L797.3 49.9L798.3 50.1L799.3 50.2L799.4 50.3L800.3 50.4L801.3 50.6L802.3 50.8L803.3 51.0L804.3 51.1L805.3 51.3L806.3 51.5L807.3 51.7L808.3 51.9L809.3 52.1L810.3 52.3L811.3 52.6L812.3 52.8L813.3 53.0L814.3 53.2L814.6 53.3L815.3 53.4L816.3 53.7L817.3 53.9L818.3 54.1L819.3 54.4L820.3 54.6L821.3 54.9L822.3 55.1L823.3 55.4L824.3 55.7L825.3 56.0L826.3 56.2L827.3 56.5L828.3 56.8L829.3 57.1L829.8 57.3L830.3 57.5L831.3 57.8L832.3 58.1L833.3 58.5L834.3 58.8L835.3 59.2L836.3 59.5L837.3 59.9L838.3 60.3L839.3 60.7L840.3 61.1L841.3 61.5L842.3 62.0L843.3 62.4L844.3 62.9L845.0 63.2L845.3 63.3L846.3 63.8L847.3 64.3L848.3 64.8L849.3 65.3L850.3 65.8L851.3 66.4L852.3 67.0L853.3 67.5L854.3 68.2L855.3 68.8L856.3 69.4L857.3 70.1L858.3 70.8L859.3 71.5L860.2 72.2L860.3 72.3L861.3 73.0L862.3 73.8L863.3 74.6L864.3 75.5L865.3 76.4L866.3 77.3L867.3 78.2L868.3 79.2L869.3 80.1L870.3 81.1L871.3 82.2L872.3 83.2L873.3 84.3L874.3 85.4L875.3 86.6L875.4 86.7L876.3 87.8L877.3 89.0L878.3 90.2L879.3 91.5L880.3 92.8L881.3 94.1L882.3 95.6L883.3 97.0L884.3 98.5L885.3 100.1L886.3 101.8L887.3 103.5L888.3 105.3L889.3 107.1L890.3 109.1L890.5 109.6L891.3 111.1L892.3 113.2L893.3 115.4L894.3 117.8L895.3 120.2L896.3 122.9L897.3 125.7L898.3 128.6L899.3 131.8L900.3 135.2L901.3 138.8L902.3 142.6L903.3 146.7L904.3 151.0L905.3 155.6L905.7 157.8L906.3 160.5L907.3 165.7L908.3 171.1L909.3 176.8L910.3 182.7L911.3 188.8L912.3 195.1L913.3 201.5L914.3 208.0L915.3 214.7L916.3 221.5L917.3 228.3L918.3 235.1L919.3 242.0L920.3 248.9L920.9 253.3L921.3 255.7L922.3 262.5L923.3 269.2L924.3 275.7L925.3 282.0L926.3 288.0L927.3 293.6L928.3 298.9L929.3 303.6L930.3 307.9L931.3 311.5L932.3 314.6L933.3 316.9L934.3 318.4L935.3 319.2L936.1 319.2L936.3 319.1L937.3 318.1L938.3 316.2L939.3 313.6L940.3 310.3L941.3 306.3L942.3 301.8L943.3 296.7L944.3 291.3L945.3 285.5L946.3 279.4L947.3 273.0L948.3 266.6L949.3 260.0L950.3 253.4L951.3 246.9L951.3 246.7L952.3 240.5L953.3 234.2L954.3 228.0L955.3 222.0L956.3 216.1L957.3 210.4L958.3 204.8L959.3 199.4L960.3 194.1L961.3 189.0L962.3 184.0L963.3 179.2L964.3 174.6L965.3 170.2L966.3 165.9L966.5 165.0L967.3 161.9L968.3 158.0L969.3 154.3L970.3 150.7L971.3 147.3L972.3 144.1L973.3 141.0L974.3 138.0L975.3 135.2L976.3 132.5L977.3 129.9L978.3 127.4L979.3 125.0L980.3 122.7L981.3 120.5L981.7 119.6L982.3 118.3L983.3 116.3L984.3 114.3L985.3 112.4L986.3 110.5L987.3 108.7L988.3 107.0L989.3 105.3L990.3 103.7L991.3 102.1L992.3 100.6L993.3 99.2L994.3 97.8L995.3 96.4L996.3 95.1L996.9 94.3L997.3 93.8L998.3 92.6L999.3 91.4L1000.3 90.3L1001.3 89.2L1002.3 88.1L1003.3 87.1L1004.3 86.1L1005.3 85.2L1006.3 84.2L1007.3 83.4L1008.3 82.5L1009.3 81.7L1010.3 80.9L1011.3 80.1L1012.1 79.5L1012.3 79.3L1013.3 78.6L1014.3 77.9L1015.3 77.3L1016.3 76.6L1017.3 76.0L1018.3 75.4L1019.3 74.8L1020.3 74.2L1021.3 73.7L1022.3 73.2L1023.3 72.6L1024.3 72.1L1025.3 71.7L1026.3 71.2L1027.3 70.7L1027.3 70.7L1028.3 70.3L1029.3 69.9L1030.3 69.4L1031.3 69.0L1032.3 68.6L1033.3 68.2L1034.3 67.9L1035.3 67.5L1036.3 67.1L1037.3 66.8L1038.3 66.5L1039.3 66.1L1040.3 65.8L1041.3 65.5L1042.3 65.2L1042.5 65.1L1043.3 64.9L1044.3 64.6L1045.3 64.3L1046.3 64.1L1047.3 63.8L1048.3 63.5L1049.3 63.3L1050.3 63.0L1051.3 62.8L1052.3 62.6L1053.3 62.3L1054.3 62.1L1055.3 61.9L1056.3 61.7L1057.3 61.5L1057.7 61.4L1058.3 61.3L1059.3 61.1L1060.3 60.9L1061.3 60.7L1062.3 60.5L1063.3 60.3L1064.3 60.1L1065.3 60.0L1066.3 59.8L1067.3 59.6L1068.3 59.5L1069.3 59.3L1070.3 59.2L1071.3 59.0L1072.3 58.9L1072.9 58.8L1073.3 58.7L1074.3 58.6L1075.3 58.4L1076.3 58.3L1077.3 58.2L1078.3 58.0L1079.3 57.9L1080.3 57.8L1081.3 57.7L1082.3 57.6L1083.3 57.4L1084.3 57.3L1085.3 57.2L1086.3 57.1L1087.3 57.0L1088.0 57.0L1088.3 56.9L1089.3 56.8L1090.3 56.7L1091.3 56.7L1092.3 56.6L1093.3 56.5L1094.3 56.4L1095.3 56.3L1096.3 56.2L1097.3 56.2L1098.3 56.1L1099.3 56.0L1100.3 56.0L1101.3 55.9L1102.3 55.9L1103.2 55.8L1103.3 55.8L1104.3 55.8L1105.3 55.7L1106.3 55.7L1107.3 55.7L1108.3 55.6L1109.3 55.6L1110.3 55.6L1111.3 55.6L1112.3 55.6L1113.3 55.6L1114.3 55.5L1115.3 55.6L1116.3 55.6L1117.3 55.6L1118.3 55.6L1118.4 55.6L1119.3 55.6L1120.3 55.6L1121.3 55.7L1122.3 55.7L1123.3 55.7L1124.3 55.8L1125.3 55.8L1126.3 55.9L1127.3 56.0L1128.3 56.0L1129.3 56.1L1130.3 56.2L1131.3 56.3L1132.3 56.3L1133.3 56.4L1133.6 56.5L1134.3 56.5L1135.3 56.6L1136.3 56.8L1137.3 56.9L1138.3 57.0L1139.3 57.1L1140.3 57.2L1141.3 57.4L1142.3 57.5L1143.3 57.6L1144.3 57.8L1145.3 57.9L1146.3 58.1L1147.3 58.3L1148.3 58.4L1148.8 58.5L1149.3 58.6L1150.3 58.8L1151.3 59.0L1152.3 59.1L1153.3 59.3L1154.3 59.5L1155.3 59.7L1156.3 59.9L1157.3 60.1L1158.3 60.3L1159.3 60.6L1160.3 60.8L1161.3 61.0L1162.3 61.2L1163.3 61.4L1164.0 61.6L1164.3 61.7L1165.3 61.9L1166.3 62.1L1167.3 62.4L1168.3 62.6L1169.3 62.9L1170.3 63.1L1171.3 63.4L1172.3 63.6L1173.3 63.9L1174.3 64.1L1175.3 64.4L1176.3 64.7L1177.3 65.0L1178.3 65.3L1179.2 65.5L1179.3 65.6L1180.3 65.9L1181.3 66.2L1182.3 66.5L1183.3 66.8L1184.3 67.2L1185.3 67.5L1186.3 67.8L1187.3 68.2L1188.3 68.6L1189.3 68.9L1190.3 69.3L1191.3 69.7L1192.3 70.2L1193.3 70.6L1194.3 71.0L1194.4 71.1L1195.3 71.5L1196.3 71.9L1197.3 72.4L1198.3 72.9L1199.3 73.4L1200.3 73.9L1201.3 74.5L1202.3 75.1L1203.3 75.6L1204.3 76.2L1205.3 76.9L1206.3 77.5L1207.3 78.2L1208.3 78.9L1209.3 79.6L1209.6 79.9L1210.3 80.4L1211.3 81.2L1212.3 82.0L1213.3 82.8L1214.3 83.7L1215.3 84.6L1216.3 85.5L1217.3 86.5L1218.3 87.5L1219.3 88.5L1220.3 89.6L1221.3 90.7L1222.3 91.9L1223.3 93.0L1224.3 94.3L1224.8 94.9L1225.3 95.6L1226.3 96.9L1227.3 98.2L1228.3 99.7L1229.3 101.1L1230.3 102.6L1231.3 104.1L1232.3 105.7L1233.3 107.3L1234.3 109.0L1235.3 110.7L1236.3 112.4L1237.3 114.2L1238.3 116.0L1239.3 117.9L1240.0 119.2L1240.3 119.8L1241.3 121.8L1242.3 123.7L1243.3 125.8L1244.3 127.8L1245.3 130.0L1246.3 132.1L1247.3 134.3L1248.3 136.6L1249.3 138.9L1250.3 141.2L1251.3 143.6L1252.3 146.0L1253.3 148.5L1254.3 151.0L1255.2 153.3L1255.3 153.6L1256.3 156.3L1257.3 159.0L1258.3 161.7L1259.3 164.4L1260.3 167.2L1261.3 170.0L1262.3 172.8L1263.3 175.6L1264.3 178.5L1265.3 181.3L1266.3 184.1L1267.3 186.9L1268.3 189.7L1269.3 192.4L1270.3 195.1L1270.3 195.3L1271.3 197.8L1272.3 200.4L1273.3 203.0L1274.3 205.4L1275.3 207.8L1276.3 210.1L1277.3 212.3L1278.3 214.4L1279.3 216.3L1280.3 218.1L1281.3 219.8L1282.3 221.3L1283.3 222.6L1284.3 223.7L1285.3 224.6L1285.5 224.8L1286.3 225.3L1287.3 225.8L1288.3 226.1L1289.3 226.2L1290.3 226.1L1291.3 225.8L1292.3 225.3L1293.3 224.6L1294.3 223.7L1295.3 222.7L1296.3 221.5L1297.3 220.1L1298.3 218.6L1299.3 216.8L1300.3 215.0L1300.7 214.1L1301.3 212.9L1302.3 210.8L1303.3 208.5L1304.3 206.1L1305.3 203.6L1306.3 201.0L1307.3 198.3L1308.3 195.6L1309.3 192.9L1310.3 190.2L1311.3 187.5L1312.3 184.7L1313.3 182.1L1314.3 179.4L1315.3 176.9L1315.9 175.2L1316.3 174.4L1317.3 172.0L1318.3 169.7L1319.3 167.4L1320.3 165.3L1321.3 163.2L1322.3 161.2L1323.3 159.2L1324.3 157.3L1325.3 155.4L1326.3 153.5L1327.3 151.7L1328.3 150.0L1329.3 148.2L1330.3 146.4L1331.1 145.0L1331.3 144.7L1332.3 143.0L1333.3 141.3L1334.3 139.5L1335.3 137.8L1336.3 136.1L1337.3 134.5L1338.3 132.8L1339.3 131.1L1340.3 129.5L1341.3 127.9L1342.3 126.3L1343.3 124.8L1344.3 123.3L1345.3 121.8L1346.3 120.3L1346.3 120.3L1347.3 118.9L1348.3 117.5L1349.3 116.1L1350.3 114.8L1351.3 113.5L1352.3 112.3L1353.3 111.0L1354.3 109.9L1355.3 108.7L1356.3 107.6L1357.3 106.5L1358.3 105.4L1359.3 104.4L1360.3 103.4L1361.3 102.5L1361.5 102.3L1362.3 101.6L1363.3 100.7L1364.3 99.9L1365.3 99.0L1366.3 98.2L1367.3 97.5L1368.3 96.7L1369.3 96.0L1370.3 95.3L1371.3 94.7L1372.3 94.0L1373.3 93.4L1374.3 92.8L1375.3 92.2L1376.3 91.6L1376.7 91.4L1377.3 91.0L1378.3 90.5L1379.3 89.9L1380.3 89.4L1381.3 88.9L1382.3 88.3L1383.3 87.8L1384.3 87.3L1385.3 86.8L1386.3 86.3L1387.3 85.9L1388.3 85.4L1389.3 84.9L1390.3 84.5L1391.3 84.0L1391.9 83.7L1392.3 83.5L1393.3 83.1L1394.3 82.6L1395.3 82.2L1396.3 81.7L1397.3 81.3L1398.3 80.9L1399.3 80.4L1400.3 80.0L1401.3 79.6L1402.3 79.1L1403.3 78.7L1404.3 78.3L1405.3 77.9L1406.3 77.4L1407.1 77.1L1407.3 77.0L1408.3 76.6L1409.3 76.2L1410.3 75.8L1411.3 75.4L1412.3 75.0L1413.3 74.6L1414.3 74.2L1415.3 73.9L1416.3 73.5L1417.3 73.1L1418.3 72.8L1419.3 72.4L1420.3 72.1L1421.3 71.8L1422.3 71.5L1422.3 71.5L1423.3 71.2L1424.3 70.9L1425.3 70.7L1426.3 70.4L1427.3 70.2L1428.3 69.9L1429.3 69.7L1430.3 69.5L1431.3 69.3L1432.3 69.1L1433.3 68.9L1434.3 68.8L1435.3 68.6L1436.3 68.5L1437.3 68.3L1437.5 68.3L1438.3 68.2L1439.3 68.0L1440.3 67.9L1441.3 67.8L1442.3 67.7L1443.3 67.6L1444.3 67.5L1445.3 67.4L1446.3 67.3L1447.3 67.2L1448.3 67.1L1449.3 67.0L1450.3 67.0L1451.3 66.9L1452.3 66.9L1452.7 66.8L1453.3 66.8L1454.3 66.8L1455.3 66.7L1456.3 66.7L1457.3 66.7L1458.3 66.7L1459.3 66.6L1460.3 66.6L1461.3 66.6L1462.3 66.6L1463.3 66.6L1464.3 66.6L1465.3 66.6L1466.3 66.7L1467.3 66.7L1467.8 66.7L1468.3 66.7L1469.3 66.7L1470.3 66.7L1471.3 66.8L1472.3 66.8L1473.3 66.9L1474.3 66.9L1475.3 66.9L1476.3 67.0L1477.3 67.0L1478.3 67.1L1479.3 67.2L1480.3 67.2L1481.3 67.3L1482.3 67.4L1483.0 67.4L1483.3 67.5L1484.3 67.5L1485.3 67.6L1486.3 67.7L1487.3 67.8L1488.3 67.9L1489.3 68.0L1490.3 68.2L1491.3 68.3L1492.3 68.4L1493.3 68.5L1494.3 68.7L1495.3 68.8L1496.3 68.9L1497.3 69.1L1498.2 69.2L1498.3 69.2L1499.3 69.4L1500.3 69.5L1501.3 69.7L1502.3 69.9L1503.3 70.0L1504.3 70.2L1505.3 70.4L1506.3 70.6L1507.3 70.8L1508.3 71.0L1509.3 71.2L1510.3 71.4L1511.3 71.6L1512.3 71.8L1513.3 72.1L1513.4 72.1L1514.3 72.3L1515.3 72.6L1516.3 72.8L1517.3 73.1L1518.3 73.4L1519.3 73.6L1520.3 73.9L1521.3 74.2L1522.3 74.5L1523.3 74.9L1524.3 75.2L1525.3 75.5L1526.3 75.9L1527.3 76.2L1528.3 76.6L1528.6 76.7L1529.3 77.0L1530.3 77.3L1531.3 77.7L1532.3 78.1L1533.3 78.5L1534.3 79.0L1535.3 79.4L1536.3 79.8L1537.3 80.3L1538.3 80.8L1539.3 81.2L1540.3 81.7L1541.3 82.2L1542.3 82.7L1543.3 83.2L1543.8 83.5L1544.3 83.8L1545.3 84.3L1546.3 84.8L1547.3 85.4L1548.3 86.0L1549.3 86.5L1550.3 87.1L1551.3 87.7L1552.3 88.4L1553.3 89.0L1554.3 89.7L1555.3 90.3L1556.3 91.0L1557.3 91.8L1558.3 92.5L1559.0 93.0L1559.3 93.3L1560.3 94.0L1561.3 94.8L1562.3 95.7L1563.3 96.5L1564.3 97.4L1565.3 98.3L1566.3 99.2L1567.3 100.1L1568.3 101.1L1569.3 102.0L1570.3 103.0L1571.3 104.0L1572.3 105.1L1573.3 106.1L1574.2 107.1L1574.3 107.2L1575.3 108.3L1576.3 109.4L1577.3 110.6L1578.3 111.7L1579.3 112.9L1580.3 114.1L1581.3 115.4L1582.3 116.7L1583.3 118.0L1584.3 119.3L1585.3 120.7L1586.3 122.1L1587.3 123.5L1588.3 125.0L1589.3 126.6L1589.4 126.7L1590.3 128.1L1591.3 129.7L1592.3 131.4L1593.3 133.0L1594.3 134.7L1595.3 136.5L1596.3 138.2L1597.3 140.0L1598.3 141.8L1599.3 143.5L1600.3 145.4L1601.3 147.2L1602.3 149.0L1603.3 150.8L1604.3 152.6L1604.6 153.1L1605.3 154.4L1606.3 156.2L1607.3 158.0L1608.3 159.8L1609.3 161.5L1610.3 163.3L1611.3 165.0L1612.3 166.7L1613.3 168.4L1614.3 170.1L1615.3 171.7L1616.3 173.4L1617.3 174.9L1618.3 176.5L1619.3 178.0L1619.8 178.8L1620.3 179.5L1621.3 181.0L1622.3 182.4L1623.3 183.8L1624.3 185.1L1625.3 186.4L1626.3 187.6L1627.3 188.7L1628.3 189.8L1629.3 190.8L1630.3 191.8L1631.3 192.6L1632.3 193.4L1633.3 194.1L1634.3 194.7L1635.0 195.0L1635.3 195.2L1636.3 195.5L1637.3 195.8L1638.3 196.0L1639.3 196.1L1640.3 196.2L1641.3 196.1L1642.3 195.9L1643.3 195.6L1644.3 195.3L1645.3 194.8L1646.3 194.3L1647.3 193.7L1648.3 193.0L1649.3 192.2L1650.1 191.5L1650.3 191.4L1651.3 190.4L1652.3 189.4L1653.3 188.4L1654.3 187.2L1655.3 186.0L1656.3 184.8L1657.3 183.5L1658.3 182.1L1659.3 180.7L1660.3 179.3L1661.3 177.9L1662.3 176.4L1663.3 174.9L1664.3 173.4L1665.3 171.9L1665.3 171.8L1666.3 170.4L1667.3 168.9L1668.3 167.4L1669.3 165.9L1670.3 164.4L1671.3 162.8L1672.3 161.3L1673.3 159.8L1674.3 158.3L1675.3 156.8L1676.3 155.3L1677.3 153.8L1678.3 152.3L1679.3 150.8L1680.3 149.3L1680.5 148.9L1681.3 147.8L1682.3 146.4L1683.3 144.9L1684.3 143.4L1685.3 142.0L1686.3 140.6L1687.3 139.2L1688.3 137.7L1689.3 136.4L1690.3 135.0L1691.3 133.6L1692.3 132.3L1693.3 131.0L1694.3 129.7L1695.3 128.4L1695.7 127.9L1696.3 127.2L1697.3 126.0L1698.3 124.8L1699.3 123.6L1700.3 122.4L1701.3 121.3L1702.3 120.2L1703.3 119.1L1704.3 118.1L1705.3 117.1L1706.3 116.0L1707.3 115.1L1708.3 114.1L1709.3 113.2L1710.3 112.3L1710.9 111.7L1711.3 111.4L1712.3 110.5L1713.3 109.7L1714.3 108.9L1715.3 108.1L1716.3 107.3L1717.3 106.5L1718.3 105.8L1719.3 105.1L1720.3 104.4L1721.3 103.7L1722.3 103.0L1723.3 102.4L1724.3 101.8L1725.3 101.2L1726.1 100.7L1726.3 100.6L1727.3 100.0L1728.3 99.4L1729.3 98.9L1730.3 98.3L1731.3 97.8L1732.3 97.3L1733.3 96.8L1734.3 96.3L1735.3 95.8L1736.3 95.4L1737.3 94.9L1738.3 94.5L1739.3 94.0L1740.3 93.6L1741.3 93.2L1741.3 93.2L1743.7 92.2" fill="none" stroke="#7E2F8E" stroke-width="6.6" stroke-linejoin="round"/></g>
<circle cx="298.06" cy="43.30" r="14.9" fill="#7E2F8E"/>
<circle cx="449.98" cy="44.30" r="14.9" fill="#7E2F8E"/>
<circle cx="601.90" cy="176.70" r="14.9" fill="#7E2F8E"/>
<circle cx="753.82" cy="46.40" r="14.9" fill="#7E2F8E"/>
<circle cx="905.74" cy="157.80" r="14.9" fill="#7E2F8E"/>
<circle cx="1057.66" cy="61.40" r="14.9" fill="#7E2F8E"/>
<circle cx="1164.00" cy="61.60" r="14.9" fill="#7E2F8E"/>
<circle cx="1255.16" cy="153.30" r="14.9" fill="#7E2F8E"/>
<circle cx="1361.50" cy="102.30" r="14.9" fill="#7E2F8E"/>
<circle cx="1422.27" cy="71.50" r="14.9" fill="#7E2F8E"/>
<circle cx="1543.80" cy="83.50" r="14.9" fill="#7E2F8E"/>
<rect x="1224.4" y="889.0" width="234.4" height="6" fill="#0072BD"/>
<rect x="1328.75" y="879.05" width="25.1" height="25.1" fill="#0072BD"/>
<text class="l" x="1474.2" y="915.8">U = 8</text>
<rect x="1224.4" y="961.0" width="234.4" height="7" fill="#D95319"/>
<polygon points="1341.30,942.70 1321.40,975.40 1361.20,975.40" fill="#D95319"/>
<text class="l" x="1474.2" y="988.1">U = 9</text>
<rect x="1224.4" y="1035.0" width="234.4" height="7" fill="#EDB120"/>
<polygon points="1341.30,1015.30 1346.42,1031.05 1362.98,1031.05 1349.58,1040.79 1354.70,1056.55 1341.30,1046.81 1327.90,1056.55 1333.02,1040.79 1319.62,1031.05 1336.18,1031.05" fill="#EDB120"/>
<text class="l" x="1474.2" y="1060.1">U = 10</text>
<rect x="1224.4" y="1108.0" width="234.4" height="7" fill="#7E2F8E"/>
<circle cx="1341.30" cy="1111.10" r="14.9" fill="#7E2F8E"/>
<text class="l" x="1474.2" y="1133.5">U = 11</text>
</svg></body></html>
